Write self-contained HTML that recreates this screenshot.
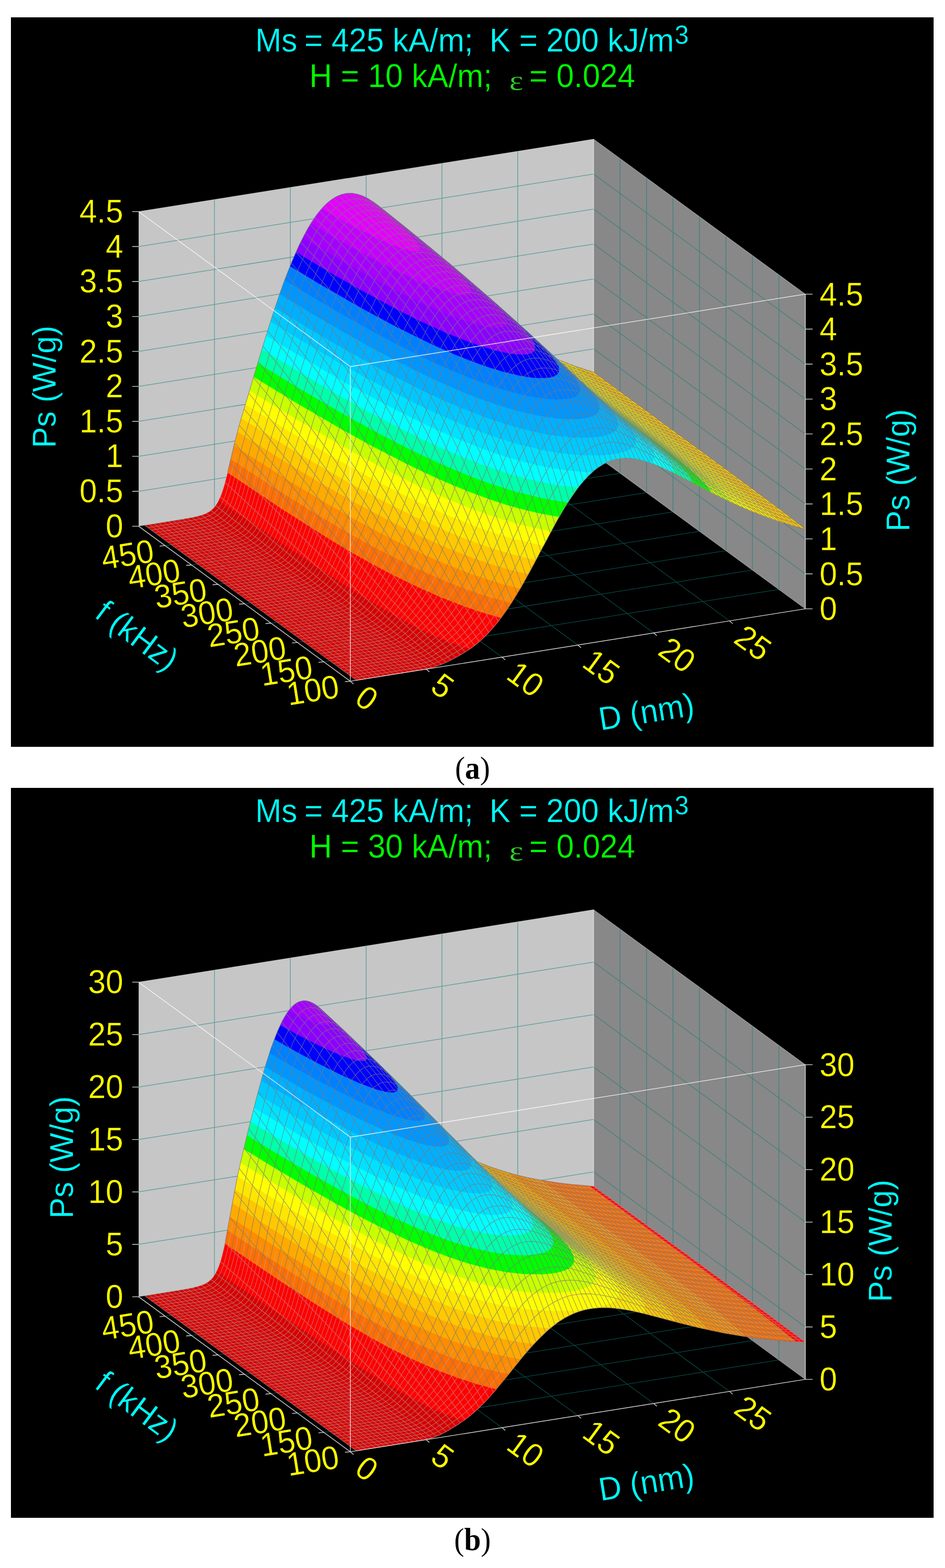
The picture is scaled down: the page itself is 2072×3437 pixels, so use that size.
<!DOCTYPE html>
<html><head><meta charset="utf-8"><title>Figure</title>
<style>html,body{margin:0;padding:0;background:#fff}svg{display:block}text{font-family:"Liberation Sans",sans-serif}</style></head><body>
<svg width="2072" height="3437" viewBox="0 0 2072 3437">
<rect width="2072" height="3437" fill="#fff"/>
<rect x="24" y="38" width="2023" height="1599" fill="#000"/>
<rect x="24" y="1727" width="2023" height="1600" fill="#000"/>
<g id="plot-a">
<polygon fill="#c6c6c6" points="304.0,1153.5 1301.5,994.7 1301.5,305.0 304.0,463.8"/>
<polygon fill="#888888" points="1301.5,994.7 1765.7,1334.5 1765.7,644.8 1301.5,305.0"/>
<path fill="none" stroke="#0a7c7a" stroke-opacity="0.55" stroke-width="1.5" d="M470.3,1127.0 470.3,437.3M934.5,1466.8 470.3,1127.0M636.5,1100.6 636.5,410.9M1100.7,1440.4 636.5,1100.6M802.8,1074.1 802.8,384.4M1267.0,1413.9 802.8,1074.1M969.0,1047.6 969.0,357.9M1433.2,1387.4 969.0,1047.6M1135.2,1021.2 1135.2,331.5M1599.5,1361.0 1135.2,1021.2M1707.7,1292.0 1707.7,602.3M710.2,1450.8 1707.7,1292.0M1649.7,1249.5 1649.7,559.8M652.2,1408.3 1649.7,1249.5M1591.6,1207.1 1591.6,517.4M594.1,1365.9 1591.6,1207.1M1533.6,1164.6 1533.6,474.9M536.1,1323.4 1533.6,1164.6M1475.6,1122.1 1475.6,432.4M478.1,1280.9 1475.6,1122.1M1417.6,1079.7 1417.6,390.0M420.1,1238.4 1417.6,1079.7M1359.5,1037.2 1359.5,347.5M362.0,1196.0 1359.5,1037.2M304.0,1076.9 1301.5,918.1M1301.5,918.1 1765.7,1257.9M304.0,1000.2 1301.5,841.4M1301.5,841.4 1765.7,1181.2M304.0,923.6 1301.5,764.8M1301.5,764.8 1765.7,1104.6M304.0,847.0 1301.5,688.2M1301.5,688.2 1765.7,1028.0M304.0,770.3 1301.5,611.5M1301.5,611.5 1765.7,951.3M304.0,693.7 1301.5,534.9M1301.5,534.9 1765.7,874.7M304.0,617.1 1301.5,458.3M1301.5,458.3 1765.7,798.1M304.0,540.4 1301.5,381.6M1301.5,381.6 1765.7,721.4"/>
<path fill="none" stroke="#ffffff" stroke-opacity="0.7" stroke-width="1.5" d="M1301.5,994.7 1301.5,305.0"/>
<path fill="none" stroke="#ffffff" stroke-opacity="0.35" stroke-width="1.5" d="M304.0,463.8 1301.5,305.0 1765.7,644.8M1301.5,994.7 1765.7,1334.5"/>
<path fill="#d60000" fill-rule="evenodd" d="M317.8,1151.8 329.8,1160.2 332.2,1162.8 341.2,1168.8 345.2,1172.2 353.8,1177.8 356.2,1180.2 361.2,1183.2 367.8,1188.8 376.2,1194.2 378.8,1196.8 387.8,1202.8 403.2,1214.8 404.8,1215.2 406.8,1217.2 411.8,1220.2 414.2,1222.8 422.8,1228.2 425.8,1231.2 427.2,1231.8 429.2,1233.8 437.8,1239.2 440.2,1241.8 449.2,1247.8 453.2,1251.2 454.8,1251.8 464.8,1259.8 473.2,1265.2 483.2,1273.2 484.2,1273.2 487.2,1276.2 488.8,1276.8 511.2,1293.8 516.2,1296.8 522.8,1302.2 531.2,1307.8 533.8,1310.2 542.2,1315.8 544.8,1318.2 545.8,1318.2 548.2,1320.8 553.8,1324.2 555.8,1326.2 557.2,1326.8 559.8,1329.2 568.8,1335.2 576.2,1341.2 577.8,1341.8 584.2,1347.2 592.8,1352.8 602.8,1360.8 603.8,1360.8 606.2,1363.2 611.8,1366.8 613.8,1368.8 615.2,1369.2 617.8,1371.8 626.8,1377.8 634.2,1383.8 635.8,1384.2 637.8,1386.2 639.2,1386.8 641.8,1389.2 643.2,1389.8 645.8,1392.2 650.8,1395.2 653.2,1397.8 661.8,1403.2 664.2,1405.8 665.2,1405.8 667.8,1408.2 673.2,1411.8 675.2,1413.8 676.8,1414.2 679.2,1416.8 688.2,1422.8 695.8,1428.8 697.2,1429.2 699.2,1431.2 700.8,1431.8 707.2,1437.2 708.8,1437.8 714.8,1442.8 723.2,1448.2 725.8,1450.8 734.8,1456.8 750.2,1468.8 751.8,1469.2 753.8,1471.2 758.8,1474.2 761.2,1476.8 769.8,1482.2 772.8,1485.2 774.2,1485.8 776.2,1487.8 781.8,1491.2 790.8,1490.2 797.2,1488.8 800.2,1488.8 800.8,1488.2 812.8,1486.8 819.2,1485.2 822.2,1485.2 825.2,1484.2 831.8,1483.8 834.8,1482.8 837.8,1482.8 850.2,1480.2 856.8,1479.8 859.8,1478.8 862.8,1478.8 878.8,1475.8 881.8,1475.8 900.2,1472.2 903.2,1472.2 906.2,1471.2 909.2,1471.2 915.2,1469.8 918.2,1469.8 921.2,1468.8 929.2,1467.8 931.8,1466.8 934.2,1466.8 936.8,1465.8 939.2,1465.8 953.2,1462.2 971.2,1455.8 972.2,1454.8 979.8,1451.8 997.8,1442.8 998.8,1441.8 1000.8,1441.2 1003.2,1439.2 1006.2,1438.2 1031.8,1422.2 1052.8,1405.8 1055.2,1402.8 1060.8,1398.2 1071.2,1387.8 1091.2,1364.8 1093.8,1360.8 1103.8,1348.2 1106.8,1343.2 1108.8,1341.2 1123.8,1318.8 1135.8,1299.2 1138.8,1293.2 1140.8,1290.8 1144.2,1283.8 1147.8,1278.8 1149.8,1274.2 1157.8,1260.8 1164.8,1246.8 1170.8,1236.8 1171.8,1233.8 1181.2,1216.8 1185.2,1208.2 1186.2,1207.2 1190.2,1198.8 1193.8,1193.2 1195.2,1189.2 1198.8,1183.8 1200.2,1179.8 1206.2,1169.8 1210.8,1160.2 1219.2,1145.8 1223.8,1136.8 1227.2,1131.8 1228.8,1128.2 1244.8,1101.8 1261.8,1076.8 1263.8,1074.8 1268.8,1067.2 1280.8,1052.8 1300.8,1032.8 1302.8,1031.8 1306.2,1028.2 1307.8,1027.8 1311.2,1024.8 1321.2,1018.2 1322.2,1018.2 1326.8,1015.2 1341.2,1009.2 1352.8,1006.2 1357.8,1005.8 1358.2,1005.2 1362.2,1005.2 1362.8,1004.8 1383.2,1004.8 1383.8,1005.2 1394.8,1006.2 1402.2,1008.2 1404.2,1008.2 1418.8,1012.2 1424.8,1014.8 1426.2,1014.8 1450.2,1024.2 1474.8,1036.2 1475.8,1036.2 1478.8,1038.2 1480.8,1038.8 1496.2,1047.2 1497.2,1047.2 1508.8,1053.2 1509.8,1054.2 1512.8,1055.2 1520.2,1059.8 1524.2,1061.2 1534.8,1067.2 1537.8,1068.2 1556.8,1078.8 1558.8,1079.2 1577.8,1089.2 1588.2,1093.8 1592.2,1096.2 1600.8,1099.8 1602.8,1101.2 1618.2,1107.8 1628.2,1112.8 1630.8,1113.2 1632.8,1114.8 1635.2,1115.2 1638.8,1117.2 1668.8,1129.2 1686.2,1135.2 1690.2,1137.2 1691.8,1137.2 1693.2,1138.2 1703.2,1141.2 1704.8,1142.2 1706.2,1142.2 1709.2,1143.8 1710.8,1143.8 1720.2,1147.2 1721.8,1147.2 1745.2,1154.8 1747.2,1154.8 1750.8,1156.2 1765.8,1160.2 1759.8,1154.8 1755.2,1151.8 1752.8,1149.2 1751.2,1148.8 1750.8,1147.8 1745.8,1143.8 1744.2,1143.2 1741.2,1140.2 1737.2,1137.8 1723.8,1126.8 1722.8,1126.8 1719.8,1123.8 1713.8,1119.2 1712.2,1118.8 1709.8,1116.2 1708.2,1115.8 1705.8,1113.2 1673.8,1089.2 1668.8,1086.2 1661.8,1080.2 1654.2,1075.2 1652.2,1073.2 1650.8,1072.8 1644.8,1067.8 1643.2,1067.2 1632.8,1058.8 1627.2,1055.2 1623.2,1051.8 1621.8,1051.2 1619.8,1049.2 1618.2,1048.8 1612.2,1043.8 1610.8,1043.2 1608.2,1040.8 1602.8,1037.2 1600.2,1034.8 1594.8,1031.2 1590.8,1027.8 1589.2,1027.2 1587.2,1025.2 1585.8,1024.8 1583.2,1022.2 1578.2,1019.2 1571.8,1013.8 1566.8,1010.8 1564.2,1008.2 1558.8,1004.8 1547.2,995.8 1545.8,995.2 1543.8,993.2 1542.2,992.8 1535.8,987.2 1530.8,984.2 1528.2,981.8 1526.8,981.2 1503.8,963.8 1498.8,960.8 1496.2,958.2 1495.2,958.2 1492.8,955.8 1487.8,952.8 1485.2,950.2 1479.8,946.8 1473.8,941.8 1462.8,934.2 1460.8,932.2 1459.2,931.8 1449.8,924.2 1448.2,923.8 1441.8,918.2 1436.8,915.2 1406.2,892.2 1401.2,889.2 1398.8,886.8 1390.2,881.2 1383.8,875.8 1378.8,872.8 1376.2,870.2 1354.2,854.8 1348.2,849.8 1346.8,849.2 1344.2,846.8 1343.2,846.8 1340.8,844.2 1335.8,841.2 1333.2,838.8 1324.2,832.8 1301.8,815.8 1290.2,812.8 1276.2,808.2 1274.8,807.2 1271.8,806.8 1268.8,805.2 1267.2,805.2 1265.8,804.2 1242.8,796.2 1240.2,794.8 1237.8,794.2 1235.2,792.8 1232.8,792.2 1222.2,787.8 1154.8,725.2 1071.2,650.8 987.8,579.2 907.8,513.2 832.2,452.8 815.2,440.2 814.2,440.2 812.8,438.8 805.2,434.2 794.8,429.2 784.2,425.8 776.8,424.2 773.8,424.2 773.2,423.8 757.8,424.2 750.8,425.8 741.2,429.2 735.2,432.2 725.2,438.8 716.2,446.2 708.2,454.2 695.2,469.8 694.8,471.2 692.8,473.2 678.2,495.2 678.2,496.2 666.8,515.8 647.2,556.2 646.8,558.8 642.8,566.8 641.8,570.2 635.8,583.8 635.2,586.2 632.2,592.8 631.8,595.2 626.8,606.8 622.8,618.8 620.2,624.2 617.8,632.8 611.8,648.2 608.8,657.2 608.8,658.8 607.8,660.2 586.8,724.8 586.8,726.2 581.8,740.8 580.8,745.8 578.8,750.8 577.8,755.8 575.8,760.8 571.2,777.2 569.2,782.2 569.2,783.8 564.2,798.8 564.2,800.2 562.8,803.8 558.2,820.2 556.2,825.2 556.2,826.8 551.8,840.2 551.8,842.2 548.2,852.2 548.2,853.8 546.8,857.2 546.8,858.8 540.2,878.8 537.2,890.2 535.2,895.2 535.2,896.8 532.2,905.2 532.2,907.2 530.2,912.2 528.8,919.2 525.2,929.8 524.8,933.2 522.8,938.8 512.8,977.2 512.8,979.2 508.8,994.2 508.8,996.2 501.8,1024.2 500.2,1032.8 491.8,1065.2 484.2,1087.2 478.8,1098.2 478.8,1099.2 470.8,1111.2 460.8,1120.8 459.8,1120.8 458.2,1122.2 452.8,1124.8 451.8,1125.8 440.8,1129.8 427.2,1133.2 409.8,1136.8 407.2,1136.8 404.2,1137.8Z"/>
<path fill="#ff0000" fill-rule="evenodd" d="M479.8,1096.2 484.2,1100.2 552.2,1146.8 692.2,1240.8 773.2,1293.2 844.8,1337.2 899.8,1368.2 937.8,1387.2 980.8,1405.8 1030.2,1423.2 1052.8,1405.8 1071.2,1387.8 1091.2,1364.8 1108.8,1341.2 1131.2,1306.8 1147.8,1278.8 1223.8,1136.8 1244.8,1101.8 1268.8,1067.2 1287.8,1045.2 1306.2,1028.2 1325.8,1015.8 1341.2,1009.2 1352.8,1006.2 1362.8,1004.8 1383.2,1004.8 1404.2,1008.2 1426.2,1014.8 1450.2,1024.2 1475.8,1036.2 1556.8,1078.8 1602.8,1101.2 1628.2,1112.8 1630.8,1113.2 1632.8,1114.8 1668.8,1129.2 1704.8,1142.2 1745.2,1154.8 1747.2,1154.8 1765.8,1160.2 1759.8,1154.8 1723.8,1126.8 1722.8,1126.8 1719.8,1123.8 1673.8,1089.2 1668.8,1086.2 1661.8,1080.2 1301.8,815.8 1267.2,805.2 1222.2,787.8 1154.8,725.2 1071.2,650.8 987.8,579.2 907.8,513.2 832.2,452.8 815.2,440.2 814.2,440.2 805.2,434.2 794.8,429.2 784.2,425.8 773.2,423.8 757.8,424.2 750.8,425.8 741.2,429.2 725.2,438.8 716.2,446.2 708.2,454.2 695.2,469.8 678.2,495.2 666.8,515.8 647.2,556.2 646.8,558.8 635.8,583.8 620.2,624.2 601.8,678.2 581.8,740.8 522.8,938.8 512.8,977.2 500.2,1032.8 491.8,1065.2 486.2,1082.2Z"/>
<path fill="#ff6e00" fill-rule="evenodd" d="M679.8,492.8 666.8,515.8 655.8,537.8 642.8,566.8 620.2,624.2 601.8,678.2 581.8,740.8 577.8,755.8 551.8,840.2 550.2,847.2 532.2,905.2 532.2,907.2 525.2,929.8 514.8,969.2 499.2,1036.2 615.8,1114.2 721.2,1181.2 773.2,1212.2 822.2,1239.8 860.2,1259.8 916.8,1287.2 966.8,1309.2 1009.8,1326.2 1051.2,1340.8 1098.8,1354.8 1108.8,1341.2 1123.8,1318.8 1140.8,1290.8 1170.8,1236.8 1190.2,1198.8 1193.8,1193.2 1195.2,1189.2 1198.8,1183.8 1200.2,1179.8 1223.8,1136.8 1239.8,1109.8 1257.8,1082.2 1268.8,1067.2 1280.8,1052.8 1300.8,1032.8 1311.2,1024.8 1325.8,1015.8 1335.8,1011.2 1346.2,1007.8 1362.8,1004.8 1383.2,1004.8 1404.2,1008.2 1426.2,1014.8 1450.2,1024.2 1475.8,1036.2 1556.8,1078.8 1602.8,1101.2 1628.2,1112.8 1630.8,1113.2 1632.8,1114.8 1668.8,1129.2 1704.8,1142.2 1745.2,1154.8 1747.2,1154.8 1765.8,1160.2 1759.8,1154.8 1723.8,1126.8 1722.8,1126.8 1719.8,1123.8 1673.8,1089.2 1668.8,1086.2 1661.8,1080.2 1301.8,815.8 1267.2,805.2 1222.2,787.8 1123.8,697.2 1016.8,603.8 946.2,544.8 884.2,494.2 827.8,449.2 809.8,436.8 790.8,427.8 784.2,425.8 773.2,423.8 757.8,424.2 750.8,425.8 741.2,429.2 725.2,438.8 716.2,446.2 708.2,454.2 695.2,469.8Z"/>
<path fill="#ff8c00" fill-rule="evenodd" d="M679.8,492.8 666.8,515.8 647.2,556.2 626.8,606.8 611.8,648.2 581.8,740.8 577.8,755.8 551.8,840.2 550.2,847.2 532.2,905.2 532.2,907.2 525.2,929.8 514.8,969.2 506.2,1006.8 596.8,1066.2 683.2,1120.8 752.2,1161.8 808.8,1193.2 843.8,1211.8 920.2,1249.2 979.8,1275.2 1026.2,1293.2 1072.2,1308.8 1121.2,1322.2 1147.8,1278.8 1223.8,1136.8 1239.8,1109.8 1257.8,1082.2 1268.8,1067.2 1280.8,1052.8 1300.8,1032.8 1311.2,1024.8 1325.8,1015.8 1335.8,1011.2 1346.2,1007.8 1362.8,1004.8 1383.2,1004.8 1404.2,1008.2 1426.2,1014.8 1450.2,1024.2 1475.8,1036.2 1556.8,1078.8 1602.8,1101.2 1628.2,1112.8 1630.8,1113.2 1632.8,1114.8 1668.8,1129.2 1704.8,1142.2 1745.2,1154.8 1747.2,1154.8 1765.8,1160.2 1759.8,1154.8 1723.8,1126.8 1722.8,1126.8 1719.8,1123.8 1673.8,1089.2 1668.8,1086.2 1661.8,1080.2 1301.8,815.8 1267.2,805.2 1222.2,787.8 1123.8,697.2 1016.8,603.8 946.2,544.8 884.2,494.2 827.8,449.2 809.8,436.8 790.8,427.8 784.2,425.8 773.2,423.8 757.8,424.2 750.8,425.8 741.2,429.2 725.2,438.8 716.2,446.2 708.2,454.2 695.2,469.8Z"/>
<path fill="#ffaa00" fill-rule="evenodd" d="M679.8,492.8 666.8,515.8 647.2,556.2 626.8,606.8 611.8,648.2 586.8,724.8 551.8,840.2 551.8,842.2 532.2,905.2 532.2,907.2 525.2,929.8 513.2,975.2 513.2,976.8 543.8,996.8 641.8,1058.8 714.2,1102.2 785.8,1142.8 850.8,1177.2 926.8,1214.2 979.2,1237.2 1037.2,1259.8 1097.2,1279.2 1140.8,1290.8 1170.8,1236.8 1190.2,1198.8 1193.8,1193.2 1195.2,1189.2 1198.8,1183.8 1200.2,1179.8 1223.8,1136.8 1244.8,1101.8 1268.8,1067.2 1287.8,1045.2 1306.2,1028.2 1326.8,1015.2 1341.2,1009.2 1352.8,1006.2 1362.8,1004.8 1383.2,1004.8 1394.8,1006.2 1413.8,1010.8 1435.8,1018.2 1475.8,1036.2 1556.8,1078.8 1602.8,1101.2 1628.2,1112.8 1630.8,1113.2 1632.8,1114.8 1668.8,1129.2 1704.8,1142.2 1745.2,1154.8 1747.2,1154.8 1765.8,1160.2 1759.8,1154.8 1723.8,1126.8 1722.8,1126.8 1719.8,1123.8 1673.8,1089.2 1668.8,1086.2 1661.8,1080.2 1301.8,815.8 1267.2,805.2 1222.2,787.8 1123.8,697.2 1016.8,603.8 946.2,544.8 884.2,494.2 827.8,449.2 809.8,436.8 790.8,427.8 784.2,425.8 773.2,423.8 757.8,424.2 750.8,425.8 741.2,429.2 725.2,438.8 716.2,446.2 708.2,454.2 695.2,469.8Z"/>
<path fill="#ffc800" fill-rule="evenodd" d="M679.8,492.8 666.8,515.8 647.2,556.2 626.8,606.8 611.8,648.2 581.8,740.8 577.8,755.8 551.8,840.2 550.2,847.2 532.2,905.2 532.2,907.2 521.2,944.2 521.2,946.8 621.8,1010.2 700.2,1057.2 777.8,1101.2 866.8,1148.2 926.8,1177.2 984.8,1202.8 1042.8,1225.2 1099.2,1243.8 1124.2,1250.8 1158.8,1258.8 1190.2,1198.8 1193.8,1193.2 1195.2,1189.2 1198.8,1183.8 1200.2,1179.8 1223.8,1136.8 1244.8,1101.8 1268.8,1067.2 1287.8,1045.2 1300.8,1032.8 1311.2,1024.8 1325.8,1015.8 1335.8,1011.2 1346.2,1007.8 1358.2,1005.2 1383.2,1004.8 1394.8,1006.2 1413.8,1010.8 1435.8,1018.2 1475.8,1036.2 1556.8,1078.8 1602.8,1101.2 1628.2,1112.8 1630.8,1113.2 1632.8,1114.8 1668.8,1129.2 1704.8,1142.2 1745.2,1154.8 1747.2,1154.8 1765.8,1160.2 1759.8,1154.8 1723.8,1126.8 1722.8,1126.8 1719.8,1123.8 1673.8,1089.2 1668.8,1086.2 1661.8,1080.2 1301.8,815.8 1267.2,805.2 1222.2,787.8 1123.8,697.2 1016.8,603.8 946.2,544.8 884.2,494.2 827.8,449.2 809.8,436.8 790.8,427.8 784.2,425.8 773.2,423.8 757.8,424.2 750.8,425.8 741.2,429.2 725.2,438.8 716.2,446.2 708.2,454.2 695.2,469.8Z"/>
<path fill="#ffe600" fill-rule="evenodd" d="M679.8,492.8 666.8,515.8 647.2,556.2 626.8,606.8 611.8,648.2 586.8,724.8 551.8,840.2 551.8,842.2 529.2,916.8 625.2,976.2 684.8,1011.8 743.8,1045.8 830.8,1093.2 906.2,1131.2 976.8,1163.2 1017.2,1179.8 1050.8,1192.2 1081.8,1202.8 1114.8,1212.8 1151.2,1222.2 1175.2,1227.2 1176.2,1226.2 1210.8,1160.2 1239.8,1109.8 1257.8,1082.2 1273.2,1061.8 1280.8,1052.8 1295.8,1037.2 1306.2,1028.2 1325.8,1015.8 1335.8,1011.2 1346.2,1007.8 1358.2,1005.2 1383.2,1004.8 1394.8,1006.2 1413.8,1010.8 1435.8,1018.2 1475.8,1036.2 1556.8,1078.8 1602.8,1101.2 1653.2,1123.2 1654.8,1123.2 1690.2,1137.2 1707.2,1142.8 1694.2,1130.2 1670.8,1110.2 1608.8,1061.8 1490.2,973.2 1255.8,800.8 1242.8,796.2 1222.2,787.8 1123.8,697.2 1016.8,603.8 946.2,544.8 884.2,494.2 827.8,449.2 809.8,436.8 790.8,427.8 784.2,425.8 773.2,423.8 757.8,424.2 750.8,425.8 741.2,429.2 725.2,438.8 716.2,446.2 708.2,454.2 695.2,469.8Z"/>
<path fill="#ffff00" fill-rule="evenodd" d="M679.8,492.8 666.8,515.8 647.2,556.2 626.8,606.8 611.8,648.2 581.8,740.8 577.8,755.8 551.8,840.2 550.2,847.2 538.2,886.2 540.8,888.2 663.8,963.2 745.8,1010.8 833.8,1058.8 909.2,1096.8 952.2,1116.8 986.8,1131.8 1049.2,1156.2 1087.2,1169.2 1111.8,1176.8 1140.8,1184.8 1189.2,1195.8 1192.2,1195.8 1223.8,1136.8 1244.8,1101.8 1268.8,1067.2 1287.8,1045.2 1306.2,1028.2 1321.2,1018.2 1341.2,1009.2 1358.2,1005.2 1383.2,1004.8 1394.8,1006.2 1413.8,1010.8 1435.8,1018.2 1475.8,1036.2 1556.8,1078.8 1592.2,1096.2 1628.2,1112.8 1630.8,1113.2 1632.8,1114.8 1652.8,1122.8 1635.8,1105.2 1618.2,1089.8 1585.8,1063.2 1547.8,1033.8 1424.2,941.2 1249.2,812.8 1154.8,725.2 1051.8,633.8 987.8,579.2 915.8,519.8 841.8,460.2 815.2,440.2 798.2,430.8 789.2,427.2 779.8,424.8 773.2,423.8 761.2,423.8 752.8,425.2 744.8,427.8 730.2,435.2 716.2,446.2 708.2,454.2 695.2,469.8Z"/>
<path fill="#c8ff00" fill-rule="evenodd" d="M692.8,473.2 678.2,495.2 666.8,515.8 655.8,537.8 642.8,566.8 626.8,606.8 611.8,648.2 586.8,724.8 551.8,840.2 551.8,842.2 547.2,855.8 547.8,856.8 639.2,912.8 747.2,975.8 824.8,1018.2 901.2,1057.2 977.2,1092.2 1010.8,1106.2 1045.8,1119.8 1103.2,1139.2 1136.2,1148.8 1166.2,1156.2 1208.8,1164.8 1223.8,1136.8 1244.8,1101.8 1268.8,1067.2 1287.8,1045.2 1306.2,1028.2 1321.2,1018.2 1341.2,1009.2 1358.2,1005.2 1383.2,1004.8 1394.8,1006.2 1413.8,1010.8 1435.8,1018.2 1475.8,1036.2 1556.8,1078.8 1604.2,1101.8 1594.8,1089.8 1574.2,1069.8 1549.8,1048.8 1521.8,1026.2 1397.2,931.8 1304.2,863.2 1154.8,725.2 1051.8,633.8 987.8,579.2 915.8,519.8 841.8,460.2 815.2,440.2 798.2,430.8 784.2,425.8 773.2,423.8 761.2,423.8 750.8,425.8 735.2,432.2 720.8,442.2 708.2,454.2Z"/>
<path fill="#00ff00" fill-rule="evenodd" d="M692.8,473.2 678.2,495.2 666.8,515.8 655.8,537.8 642.8,566.8 626.8,606.8 611.8,648.2 593.8,702.8 556.2,826.2 654.8,886.2 750.2,941.8 820.2,980.2 903.2,1022.8 964.2,1051.2 1023.8,1076.2 1076.8,1095.8 1109.2,1106.2 1140.8,1115.2 1184.8,1125.8 1226.2,1133.2 1239.8,1109.8 1257.8,1082.2 1268.8,1067.2 1280.8,1052.8 1295.8,1037.2 1306.2,1028.2 1326.8,1015.2 1335.8,1011.2 1346.2,1007.8 1362.8,1004.8 1383.2,1004.8 1394.8,1006.2 1413.8,1010.8 1435.8,1018.2 1475.8,1036.2 1559.8,1079.8 1554.8,1071.2 1546.2,1060.8 1536.2,1050.2 1513.2,1029.2 1483.8,1004.8 1446.2,975.2 1341.2,896.2 1283.2,844.2 1154.8,725.2 1051.8,633.8 987.8,579.2 915.8,519.8 841.8,460.2 815.2,440.2 798.2,430.8 784.2,425.8 773.2,423.8 761.2,423.8 750.8,425.8 735.2,432.2 720.8,442.2 708.2,454.2Z"/>
<path fill="#00ffaa" fill-rule="evenodd" d="M692.8,473.2 679.8,492.8 666.8,515.8 651.8,546.2 651.2,548.8 647.2,556.2 646.8,558.8 635.8,583.8 620.2,624.2 601.8,678.2 581.8,740.8 566.2,792.2 565.8,796.2 651.8,848.8 755.8,909.2 837.2,953.8 912.2,991.8 963.8,1015.8 1020.2,1039.8 1072.2,1059.2 1130.8,1077.8 1185.2,1091.2 1213.8,1096.8 1245.2,1101.2 1257.8,1082.2 1268.8,1067.2 1280.8,1052.8 1300.8,1032.8 1311.2,1024.8 1326.8,1015.2 1335.8,1011.2 1346.2,1007.8 1362.8,1004.8 1383.2,1004.8 1394.8,1006.2 1410.2,1009.8 1426.2,1014.8 1460.2,1028.8 1487.8,1042.2 1517.8,1058.2 1516.8,1054.2 1512.8,1045.8 1505.8,1035.8 1499.8,1028.8 1470.2,1000.2 1423.2,961.2 1365.2,916.8 1341.8,896.8 1283.2,844.2 1133.8,706.2 1087.2,664.8 1016.8,603.8 915.8,519.8 820.2,443.8 805.2,434.2 794.8,429.2 784.2,425.8 773.2,423.8 761.2,423.8 752.8,425.2 744.8,427.8 735.2,432.2 720.8,442.2 708.2,454.2Z"/>
<path fill="#00ffff" fill-rule="evenodd" d="M695.2,469.8 679.8,492.8 666.8,515.8 651.8,546.2 651.2,548.8 647.2,556.2 646.8,558.8 637.8,578.8 611.8,648.2 581.8,740.8 574.8,764.2 575.2,766.2 669.8,823.8 732.2,860.2 809.2,903.2 879.8,940.2 945.8,972.2 1004.8,998.2 1059.8,1019.8 1116.8,1038.8 1146.8,1047.2 1186.8,1056.8 1221.2,1063.2 1267.8,1069.2 1273.2,1061.8 1287.8,1045.2 1300.8,1032.8 1311.2,1024.8 1325.8,1015.8 1335.8,1011.2 1346.2,1007.8 1362.8,1004.8 1383.2,1004.8 1394.8,1006.2 1410.2,1009.8 1440.8,1020.2 1460.2,1028.8 1474.8,1036.2 1475.8,1031.8 1474.8,1024.8 1472.8,1019.2 1468.2,1011.2 1462.8,1003.8 1451.8,991.2 1434.8,974.8 1403.2,947.2 1362.8,914.8 1329.8,886.2 1283.2,844.2 1154.8,725.2 1051.8,633.8 946.2,544.8 884.2,494.2 823.8,446.2 809.8,436.8 790.8,427.8 784.2,425.8 773.2,423.8 757.8,424.2 750.8,425.8 741.2,429.2 725.2,438.8 716.2,446.2 708.2,454.2Z"/>
<path fill="#00e1ff" fill-rule="evenodd" d="M695.2,469.8 679.8,492.8 666.8,515.8 655.8,537.8 642.8,566.8 626.8,606.8 611.8,648.2 593.8,702.8 583.8,735.8 681.2,794.8 760.8,840.8 825.2,876.2 883.8,906.8 948.8,938.2 1000.8,961.2 1056.2,983.2 1105.8,1000.2 1145.2,1011.8 1175.8,1019.2 1202.2,1024.8 1247.8,1031.8 1288.2,1035.2 1298.2,1035.2 1306.2,1028.2 1325.8,1015.8 1341.2,1009.2 1355.2,1005.8 1362.8,1004.8 1387.8,1005.2 1410.2,1009.8 1424.8,1014.8 1427.8,1014.2 1431.8,1009.8 1434.8,1002.2 1434.8,995.8 1432.8,988.8 1427.8,979.2 1415.2,963.2 1386.2,934.8 1315.8,873.8 1154.8,725.2 1051.8,633.8 946.2,544.8 884.2,494.2 823.8,446.2 809.8,436.8 790.8,427.8 784.2,425.8 773.2,423.8 757.8,424.2 750.8,425.8 741.2,429.2 725.2,438.8 716.2,446.2 708.2,454.2Z"/>
<path fill="#00c8ff" fill-rule="evenodd" d="M695.2,469.8 679.8,492.8 672.2,505.8 655.8,537.8 651.2,548.8 647.2,556.2 646.8,558.8 635.8,583.8 620.2,624.2 593.8,702.8 593.8,705.8 667.8,750.8 734.2,789.8 797.2,825.2 877.2,867.8 938.2,897.8 986.8,919.8 1028.8,937.2 1081.2,956.8 1128.8,971.8 1182.8,985.2 1208.8,990.2 1235.2,994.2 1272.2,997.8 1316.2,998.2 1336.2,996.8 1353.2,994.2 1364.2,991.8 1378.2,986.8 1387.2,981.2 1392.2,975.8 1394.2,971.8 1395.2,964.8 1393.8,957.2 1389.2,947.8 1380.8,935.8 1374.8,928.8 1349.2,903.2 1283.2,844.2 1154.8,725.2 1051.8,633.8 946.2,544.8 884.2,494.2 823.8,446.2 809.8,436.8 790.8,427.8 784.2,425.8 773.2,423.8 757.8,424.2 750.8,425.8 741.2,429.2 725.2,438.8 716.2,446.2 708.2,454.2Z"/>
<path fill="#00afff" fill-rule="evenodd" d="M695.2,469.8 679.8,492.8 672.2,505.8 655.8,537.8 651.2,548.8 647.2,556.2 623.8,614.8 611.8,648.2 603.2,675.2 678.2,720.8 739.8,756.8 803.8,792.8 859.8,822.8 919.2,852.8 967.2,875.2 1014.8,895.8 1070.8,917.2 1118.2,932.8 1161.2,944.2 1191.8,950.8 1212.2,954.2 1245.8,958.2 1260.2,959.2 1295.8,959.2 1317.8,956.8 1327.2,954.8 1337.8,951.2 1346.2,946.8 1352.8,940.2 1355.2,933.8 1355.2,927.2 1353.2,920.2 1349.2,912.2 1342.2,902.2 1334.8,893.2 1305.8,864.2 1283.2,844.2 1154.8,725.2 1051.8,633.8 946.2,544.8 884.2,494.2 823.8,446.2 809.8,436.8 790.8,427.8 784.2,425.8 773.2,423.8 757.8,424.2 750.8,425.8 741.2,429.2 725.2,438.8 716.2,446.2 708.2,454.2Z"/>
<path fill="#0096ff" fill-rule="evenodd" d="M692.8,473.2 679.8,492.8 672.2,505.8 651.8,546.2 651.2,548.8 647.2,556.2 646.8,558.8 637.8,578.8 626.8,606.8 613.8,642.8 614.2,645.2 671.8,680.2 746.8,724.2 802.8,755.8 866.2,789.8 912.8,813.2 971.2,840.8 1014.2,859.2 1055.2,875.2 1094.2,888.8 1136.8,901.2 1183.2,911.8 1221.2,917.2 1241.8,918.8 1264.2,918.8 1280.2,917.2 1292.2,914.8 1300.8,911.8 1308.8,906.8 1312.2,902.8 1314.8,895.8 1314.2,888.2 1309.8,877.2 1304.2,868.8 1296.8,859.2 1285.2,846.8 1249.8,812.8 1133.8,706.2 1051.8,633.8 987.8,579.2 915.8,519.8 841.8,460.2 815.2,440.2 798.2,430.8 784.2,425.8 773.2,423.8 761.2,423.8 750.8,425.8 735.2,432.2 720.8,442.2 708.2,454.2Z"/>
<path fill="#0080ff" fill-rule="evenodd" d="M679.8,492.8 666.8,515.8 651.8,546.2 651.2,548.8 647.2,556.2 646.8,558.8 637.8,578.8 624.2,614.2 693.8,656.2 753.8,691.2 811.8,723.8 861.2,750.2 921.8,780.8 956.8,797.2 992.8,813.2 1042.2,833.2 1084.8,848.2 1123.2,859.8 1154.2,867.2 1192.8,873.8 1220.8,875.8 1245.2,874.2 1255.8,871.8 1261.8,869.2 1266.2,866.2 1270.8,860.8 1272.2,854.8 1270.8,845.8 1266.8,837.2 1259.2,826.2 1247.8,812.8 1223.8,788.8 1190.2,757.8 1087.2,664.8 987.8,579.2 884.2,494.2 827.8,449.2 809.8,436.8 790.8,427.8 784.2,425.8 773.2,423.8 757.8,424.2 750.8,425.8 741.2,429.2 725.2,438.8 716.2,446.2 708.2,454.2 695.2,469.8Z"/>
<path fill="#0000ff" fill-rule="evenodd" d="M679.8,492.8 666.8,515.8 655.8,537.8 642.8,566.8 636.2,583.8 696.8,620.2 791.2,674.8 870.2,717.2 949.8,756.2 996.2,776.8 1033.8,791.8 1067.2,803.8 1101.2,814.2 1138.2,823.2 1162.2,827.2 1177.2,828.8 1202.2,828.2 1214.2,825.2 1219.2,822.8 1223.8,818.2 1225.8,813.2 1225.8,808.2 1224.8,803.8 1221.8,796.8 1215.8,787.2 1199.8,768.2 1166.2,735.8 1087.2,664.8 987.8,579.2 884.2,494.2 827.8,449.2 809.8,436.8 790.8,427.8 784.2,425.8 773.2,423.8 757.8,424.2 750.8,425.8 741.2,429.2 725.2,438.8 716.2,446.2 708.2,454.2 695.2,469.8Z"/>
<path fill="#8c00ff" fill-rule="evenodd" d="M651.8,546.2 649.2,552.8 724.2,597.8 786.2,633.2 872.8,679.8 924.2,705.2 984.2,732.2 1027.2,749.2 1060.8,760.8 1086.8,768.2 1108.2,773.2 1130.8,776.8 1152.2,777.2 1165.2,774.2 1169.2,771.8 1172.8,767.2 1172.8,756.8 1168.8,747.8 1164.2,740.8 1149.2,722.8 1114.2,688.8 1016.8,603.8 907.8,513.2 823.8,446.2 809.8,436.8 794.8,429.2 784.2,425.8 773.2,423.8 757.8,424.2 750.8,425.8 741.2,429.2 730.2,435.2 720.8,442.2 708.2,454.2 697.2,467.2 679.8,492.8 666.8,515.8Z"/>
<path fill="#a500ff" fill-rule="evenodd" d="M664.2,520.8 664.2,521.8 734.8,563.8 821.2,612.2 857.2,631.2 904.2,654.8 960.2,680.2 989.8,692.2 1024.8,704.8 1046.8,711.2 1068.8,716.2 1083.8,718.2 1099.2,717.8 1107.2,714.8 1109.8,712.2 1111.2,709.2 1111.2,703.8 1109.8,698.8 1105.8,691.2 1098.2,680.8 1087.2,668.2 1070.8,651.8 1041.2,624.8 946.2,544.8 841.8,460.2 815.2,440.2 814.2,440.2 805.2,434.2 794.8,429.2 784.2,425.8 776.8,424.2 761.2,423.8 752.8,425.2 744.8,427.8 735.2,432.2 725.2,438.8 716.2,446.2 708.2,454.2 695.2,469.8 679.8,492.8Z"/>
<path fill="#c300ff" fill-rule="evenodd" d="M681.8,489.8 737.2,522.8 808.2,562.2 877.8,597.8 915.8,615.2 964.8,634.8 997.2,644.2 1012.2,646.8 1022.2,646.8 1028.8,644.8 1031.8,641.2 1032.2,636.2 1030.8,631.2 1027.2,624.8 1020.8,615.8 1010.2,603.8 980.2,574.8 915.8,519.8 841.8,460.2 815.2,440.2 798.2,430.8 789.2,427.2 779.8,424.8 773.2,423.8 761.2,423.8 750.8,425.8 735.2,432.2 720.8,442.2 708.2,454.2 695.2,469.8Z"/>
<path fill="#e400ff" fill-rule="evenodd" d="M705.8,457.2 739.2,476.8 784.8,501.2 822.8,520.2 854.8,534.8 877.8,543.8 899.8,550.2 905.2,551.2 914.8,551.2 917.8,550.2 919.8,547.8 919.8,542.8 918.8,540.2 910.2,527.2 903.8,519.8 882.2,498.2 857.8,476.2 814.8,440.2 805.2,434.2 794.8,429.2 784.2,425.8 773.2,423.8 761.2,423.8 750.8,425.8 741.2,429.2 730.2,435.2 716.2,446.2Z"/>
<path fill="none" stroke="#b0b0b0" stroke-opacity="0.55" stroke-width="1.35" d="M781.5,1491.2 317.3,1151.4M791.9,1489.5 327.7,1149.7M802.2,1487.9 338,1148.1M812.6,1486.2 348.4,1146.4M822.9,1484.6 358.7,1144.8M833.3,1482.9 369.1,1143.1M843.7,1481.3 379.5,1141.4M854,1479.6 389.8,1139.7M864.4,1478 400.2,1137.9M874.7,1476.3 410.5,1136M885.1,1474.7 420.9,1134M895.5,1473 431.3,1131.8M905.8,1471.3 441.6,1128.9M916.2,1469.5 685.2,1298.9 452,1125M926.5,1467.7 693.3,1293.9 462.3,1118.7M936.9,1465.7 822,1379.4 706,1290.7 589.9,1200.5 472.7,1107.9M947.3,1463.3 833.5,1375.7 718.6,1284.4 602.6,1189.4 483.1,1088.8M957.6,1460.3 903.1,1417.1 847.4,1371.7 791.7,1325.1 734.8,1276.3 676.8,1225.4 617.6,1172.3 556.1,1115.9 493.4,1057.4M968,1456.5 922.7,1418.7 877.5,1379.5 831,1338 783.5,1294.1 733.6,1246.7 682.5,1196.9 628,1142.6 569.9,1083.6M978.3,1451.9 945.8,1423.1 913.4,1393.2 878.5,1360.1 843.7,1325.9 768.3,1248.7 682.4,1156.9M988.7,1446.8 938.8,1398.9 885.4,1344 827.4,1281.1 758.9,1203.7M999.1,1441.4 958.4,1399.9 915.5,1353.1 869.1,1299.8 814.5,1234.8M1009.4,1435.7 976.9,1400.4 942.1,1360.3 903.8,1313.9 860.9,1259.9M1019.8,1429.5 993.1,1398.6 964.1,1363.1 933.9,1324.5 899.1,1278.4M1030.1,1422.7 1009.3,1396.8 986,1366.7 933.8,1294.9M1040.5,1415 1004.5,1366.2 963.9,1307M1050.9,1406.5 1023,1366 992.8,1319.5M1061.2,1397 1040.3,1364.5 1018.3,1328.4M1071.6,1386.6 1042.6,1337.1M1081.9,1375 1064.5,1343.3M1092.3,1362.4 1086.5,1351.2M781.5,1491.2 930,1467.1 953.3,1461.6 971.7,1454.9 991.7,1445.3 1011.7,1434.4 1026.7,1425 1041.7,1414.1 1056.7,1401.2 1070.1,1388.1 1085.1,1371.3 1098.4,1354.5M767,1480.6 910.5,1457.3 933.8,1452 950.5,1445.9 965.5,1438.2 987.2,1425.3 1003.9,1414 1017.2,1403.5 1030.6,1391.5 1043.9,1377.7 1057.2,1362 1070.6,1344.3M752.5,1469.9 892.6,1447.2 914.3,1442.4 931,1436.4 944.3,1429.3 961,1418.4 979.4,1405.1 994.4,1392.7 1007.7,1379.9 1019.4,1367.2 1031.1,1352.8 1042.7,1336.9M738,1459.3 876.4,1436.8 898.1,1431.9 913.1,1426.4 924.8,1420 938.2,1410.6 958.2,1394.6 973.2,1381.2 984.9,1369.4 996.5,1356 1008.2,1341 1018.2,1326.7M723.5,1448.7 860.3,1426.4 881.9,1421.4 897,1415.6 907,1409.9 918.6,1401.1 935.3,1386.5 950.3,1372.3 962,1359.9 972,1348.2 983.7,1332.8 993.7,1318.2M709,1438.1 842.4,1416.4 864.1,1411.4 879.1,1405.8 889.1,1400 899.1,1392.2 910.8,1381.3 927.5,1364.4 939.2,1351.5 950.8,1337.2 960.9,1323.6 970.9,1308.6M694.5,1427.5 826.2,1406 847.9,1401 856.3,1398.2 862.9,1395.2 871.3,1390.3 879.6,1383.8 889.6,1374.1 901.3,1361.5 914.7,1346.1 926.3,1331.6 938,1315.5 948,1300.3M680,1416.9 810.1,1395.6 831.8,1390.6 840.1,1387.7 846.8,1384.7 855.1,1379.6 861.8,1374.2 868.5,1367.7 876.8,1358.4 905.2,1322.6 916.8,1306 926.8,1290.4M665.5,1406.2 795.6,1384.9 815.6,1380.2 823.9,1377.3 830.6,1374.2 837.3,1370.2 843.9,1364.9 850.6,1358.3 857.3,1350.6 869,1335.4 885.6,1312.3 905.7,1281.4M650.9,1395.6 746,1380.4 779.4,1374.5 799.4,1369.8 807.7,1366.9 814.4,1363.8 821.1,1359.7 827.8,1354.2 834.4,1347.3 841.1,1339.1 866.1,1302.8 886.2,1270.5M636.4,1385 728.2,1370.3 763.2,1364.2 783.2,1359.4 791.6,1356.5 798.2,1353.4 804.9,1349.2 811.6,1343.7 816.6,1338.4 823.3,1330.1 843.3,1299.6 866.6,1260.3M621.9,1374.4 713.7,1359.7 747,1353.8 767.1,1349.1 775.4,1346.2 782.1,1343.1 788.7,1338.9 795.4,1333.2 800.4,1327.8 807.1,1319.2 822.1,1295.1 847.1,1250.9M607.4,1363.8 697.5,1349.3 730.9,1343.5 750.9,1338.8 759.2,1335.9 765.9,1332.8 772.6,1328.6 779.2,1322.9 784.2,1317.4 790.9,1308.4 802.6,1289 827.6,1242.4M592.9,1353.1 683,1338.7 716.4,1332.8 736.4,1327.9 744.7,1324.9 751.4,1321.6 758.1,1317 763.1,1312.6 769.7,1304.9 774.7,1297.8 786.4,1277.5 809.8,1231.3M578.4,1342.5 666.8,1328.3 700.2,1322.4 720.2,1317.6 728.5,1314.6 735.2,1311.3 741.9,1306.8 746.9,1302.4 753.6,1294.7 758.6,1287.4 770.2,1266.2 791.9,1220.8M563.9,1331.9 650.6,1318 684,1312.1 704,1307.3 712.4,1304.3 719,1301.1 725.7,1296.7 730.7,1292.3 737.4,1284.6 742.4,1277.2 754.1,1255.2 774.1,1211M549.4,1321.3 636.1,1307.3 669.5,1301.4 689.5,1296.5 697.9,1293.3 704.5,1289.9 711.2,1285.2 716.2,1280.5 722.9,1272.2 727.9,1264.4 737.9,1244.5 756.2,1201.9M534.9,1310.7 620,1297 653.3,1291.1 675,1285.6 681.7,1283.1 688.4,1279.8 695,1275.1 700,1270.5 706.7,1262.3 711.7,1254.4 721.7,1234.1 740.1,1189.3M520.4,1300 603.8,1286.6 637.2,1280.7 658.8,1275.3 665.5,1272.9 672.2,1269.6 678.9,1265.1 685.5,1258.8 690.5,1252.5 695.5,1244.6 705.6,1223.9 722.2,1181.5M505.9,1289.4 589.3,1276 622.7,1270 644.3,1264.5 651,1261.9 657.7,1258.5 664.4,1253.7 671,1247 676,1240.3 681,1231.9 691,1209.9 706.1,1169.8M491.4,1278.8 573.1,1265.7 606.5,1259.7 628.2,1254.2 634.8,1251.7 641.5,1248.4 648.2,1243.7 654.9,1237.2 659.9,1230.6 664.9,1222.3 669.9,1212.1 674.9,1200.1 689.9,1158.5M476.9,1268.2 558.6,1255 592,1249 603.6,1246.4 613.7,1243.4 620.3,1240.8 627,1237.3 633.7,1232.4 640.3,1225.5 645.4,1218.5 650.4,1209.6 655.4,1198.8 660.4,1186.2 673.7,1147.5M462.4,1257.6 542.4,1244.7 575.8,1238.7 597.5,1233.2 604.2,1230.6 610.8,1227.2 617.5,1222.5 624.2,1215.8 629.2,1209 634.2,1200.3 639.2,1189.5 644.2,1176.8 657.5,1136.8M447.9,1247 527.9,1234.1 561.3,1228 573,1225.4 583,1222.4 589.6,1219.7 596.3,1216.1 603,1211.2 609.7,1204.1 614.7,1196.9 619.7,1187.7 624.7,1176.3 629.7,1162.9 641.4,1126.6M433.4,1236.3 511.8,1223.7 545.1,1217.7 566.8,1212.1 573.5,1209.5 580.1,1206.1 586.8,1201.3 593.5,1194.5 598.5,1187.5 603.5,1178.5 608.5,1167.3 613.5,1153.9 625.2,1116.6M418.8,1225.7 497.2,1213.1 530.6,1207 542.3,1204.3 552.3,1201.3 559,1198.6 565.6,1195 572.3,1190 577.3,1184.9 582.3,1178.2 587.3,1169.4 592.3,1158.4 597.3,1145.1 609,1107M404.3,1215.1 481.1,1202.7 514.4,1196.7 536.1,1191.1 542.8,1188.5 549.5,1185 556.1,1180.2 562.8,1173.3 567.8,1166.2 572.8,1157.1 577.8,1145.5 582.8,1131.4 592.8,1097.8M389.8,1204.5 466.6,1192.1 499.9,1186 511.6,1183.3 521.6,1180.3 528.3,1177.6 535,1174 541.6,1169 548.3,1161.7 553.3,1154.3 558.3,1144.6 566.7,1122.9 578.3,1082.7M375.3,1193.9 452.1,1181.5 485.4,1175.4 497.1,1172.6 507.1,1169.5 513.8,1166.7 520.5,1163 527.1,1157.7 532.1,1152.3 537.1,1145.1 542.1,1135.8 547.1,1124 552.1,1109.4 562.2,1074M360.8,1183.2 435.9,1171.1 469.2,1165 480.9,1162.3 490.9,1159.3 497.6,1156.6 504.3,1153 511,1148 516,1142.8 521,1136 526,1127 531,1115.5 536,1101.2 546,1065.6M346.3,1172.6 421.4,1160.5 454.7,1154.4 466.4,1151.6 476.4,1148.5 483.1,1145.7 489.8,1142 496.4,1136.7 501.4,1131.3 506.5,1124.2 511.5,1114.8 516.5,1102.8 521.5,1087.8 531.5,1050.8M331.8,1162 405.2,1150.1 438.6,1144.1 458.6,1138.9 466.9,1135.6 473.6,1132 480.3,1127 486.9,1119.8 491.9,1112.4 497,1102.5 505.3,1079.9 515.3,1042.8M317.3,1151.4 390.7,1139.5 424.1,1133.4 444.1,1128.1 452.4,1124.8 459.1,1121 465.8,1115.8 470.8,1110.5 475.8,1103.3 480.8,1094 485.8,1081.8 489.1,1072 499.1,1035.1M774.2,1485.9 896,1466.4 931.1,1460 942.7,1457 954.4,1453.1 966.1,1448 981.1,1440.2 1002.8,1427.7 1021.1,1415.2 1037.8,1401.5 1052.8,1387.1 1069.5,1368.4 1084.5,1349 1101.2,1324.7 1117.9,1297.6M759.7,1475.3 874.8,1456.8 909.9,1450.6 921.5,1447.9 931.6,1444.8 941.6,1440.8 951.6,1435.6 974.9,1421.1 994.9,1406.9 1011.6,1392.8 1026.6,1377.8 1041.7,1360.3 1056.7,1340.3 1071.7,1317.6 1088.4,1289.4M745.2,1464.6 855.3,1447 890.4,1440.9 912,1435.3 922.1,1431.4 930.4,1427.1 947.1,1416.2 970.4,1398.4 987.1,1383.7 1002.1,1368.2 1017.1,1350 1030.5,1331.5 1045.5,1308 1060.5,1281.7M730.7,1454 839.2,1436.7 874.2,1430.5 885.9,1427.8 895.9,1424.8 904.2,1421.4 912.6,1417 927.6,1406.4 949.3,1388.2 965.9,1372.5 979.3,1357.9 994.3,1339 1007.6,1319.7 1021,1297.9 1034.3,1273.8M716.2,1443.4 821.3,1426.6 856.3,1420.4 868,1417.8 878,1414.8 886.4,1411.5 894.7,1407 908.1,1397.3 926.4,1380.6 944.8,1362 959.8,1344.7 973.1,1326.9 984.8,1309.3 996.5,1289.8 1009.8,1265M701.7,1432.8 805.1,1416.2 840.2,1410 851.8,1407.4 861.9,1404.3 870.2,1400.9 876.9,1397.3 888.5,1388.7 901.9,1375.9 921.9,1354.4 938.6,1334.3 951.9,1315.8 963.6,1297.5 975.3,1277.2 987,1254.9M687.2,1422.2 789,1405.9 824,1399.6 835.7,1397 845.7,1393.9 854,1390.4 860.7,1386.6 870.7,1379 882.4,1367.3 900.7,1345.9 917.4,1324.8 929.1,1308.2 940.8,1289.7 952.4,1269.1 964.1,1246.4M672.7,1411.5 772.8,1395.5 807.8,1389.3 819.5,1386.6 829.5,1383.5 837.8,1379.9 844.5,1376 854.5,1368 864.5,1357.4 881.2,1336.5 897.9,1313.9 909.6,1296.5 921.3,1277.3 931.3,1259.1 942.9,1235.8M658.2,1400.9 756.6,1385.1 791.6,1378.9 803.3,1376.2 813.3,1373.1 821.7,1369.4 828.3,1365.5 836.7,1358.8 846.7,1347.9 858.4,1332.5 876.7,1306.2 888.4,1288.2 900.1,1268.6 911.8,1246.9 921.8,1226.5M643.7,1390.3 740.4,1374.8 775.5,1368.5 787.2,1365.8 797.2,1362.7 805.5,1359 812.2,1355 820.5,1348.1 828.9,1338.9 837.2,1327.6 850.5,1307.5 865.6,1283.7 877.2,1263.8 888.9,1242.1 900.6,1218.2M629.2,1379.7 724.3,1364.4 759.3,1358.2 771,1355.4 781,1352.3 789.3,1348.7 796,1344.6 802.7,1339.2 809.3,1332.1 817.7,1321 826,1308.1 844.4,1277.5 857.7,1254 869.4,1231.7 881.1,1207.2M614.7,1369.1 709.8,1353.8 744.8,1347.5 756.5,1344.6 764.8,1342 773.2,1338.4 779.8,1334.3 786.5,1328.8 793.2,1321.6 799.8,1312.5 806.5,1302 839.9,1241.8 851.6,1218.6 861.6,1197.1M600.2,1358.4 695.3,1343.2 728.6,1337.1 740.3,1334.3 748.6,1331.7 757,1328.1 763.6,1324 770.3,1318.5 775.3,1313.2 782,1304.3 788.7,1293.6 798.7,1275.4 820.4,1233.4 842.1,1187.7M585.7,1347.8 679.1,1332.8 712.4,1326.8 732.5,1321.4 740.8,1317.8 747.5,1313.8 754.1,1308.3 760.8,1300.9 765.8,1293.9 772.5,1282.8 782.5,1263.5 802.5,1222.5 822.5,1179.1M571.2,1337.2 662.9,1322.5 697.9,1316.1 709.6,1313.2 718,1310.4 726.3,1306.7 733,1302.4 739.6,1296.5 744.6,1290.7 749.6,1283.6 756.3,1272.2 773,1237.6 804.7,1167.2M556.7,1326.6 648.4,1311.8 681.8,1305.7 693.4,1302.9 701.8,1300.2 710.1,1296.4 716.8,1292.2 723.5,1286.4 728.5,1280.6 733.5,1273.5 740.1,1261.8 751.8,1236.9 786.9,1155.9M542.1,1316 632.2,1301.5 665.6,1295.4 677.3,1292.5 685.6,1289.9 693.9,1286.2 700.6,1282.1 707.3,1276.4 712.3,1270.7 717.3,1263.5 724,1251.6 734,1229.7 769,1145.2M527.6,1305.4 617.7,1290.8 651.1,1284.7 662.8,1281.8 671.1,1279 679.4,1275.1 686.1,1270.8 692.8,1264.7 697.8,1258.5 702.8,1250.9 709.5,1238.2 719.5,1214.9 751.2,1135M513.1,1294.7 601.5,1280.5 634.9,1274.3 646.6,1271.5 654.9,1268.7 663.3,1265 669.9,1260.7 676.6,1254.7 681.6,1248.7 686.6,1241.1 693.3,1228.3 703.3,1204.4 733.3,1125.3M498.6,1284.1 587,1269.9 620.4,1263.6 632.1,1260.7 640.4,1257.9 648.8,1253.9 655.4,1249.4 662.1,1243.1 667.1,1236.7 672.1,1228.6 678.8,1215 687.1,1194.1 715.5,1116.2M484.1,1273.5 570.9,1259.5 604.2,1253.3 615.9,1250.4 624.2,1247.6 632.6,1243.8 639.3,1239.4 645.9,1233.2 650.9,1227 657.6,1216 662.6,1205.5 671,1184.2 697.6,1107.8M469.6,1262.9 556.4,1248.9 589.7,1242.6 601.4,1239.6 609.7,1236.8 618.1,1232.7 624.8,1228.1 631.4,1221.6 636.4,1215 641.4,1206.5 646.4,1196.1 656.4,1169.7 681.5,1095.1M455.1,1252.3 540.2,1238.5 573.5,1232.3 585.2,1229.4 593.6,1226.6 601.9,1222.7 608.6,1218.2 615.3,1211.9 620.3,1205.5 626.9,1194 631.9,1182.9 640.3,1160.2 663.6,1087.7M440.6,1241.6 525.7,1227.9 559,1221.6 570.7,1218.6 579.1,1215.7 587.4,1211.6 594.1,1206.9 600.7,1200.3 605.7,1193.5 610.8,1184.8 615.8,1173.8 625.8,1145.8 647.5,1075.8M426.1,1231 509.5,1217.5 542.9,1211.3 554.5,1208.3 564.6,1204.8 571.2,1201.6 577.9,1197.1 584.6,1190.7 589.6,1184.1 596.2,1172.3 601.3,1160.8 609.6,1136.8 631.3,1064.3M411.6,1220.4 495,1206.9 528.4,1200.6 540,1197.6 550,1193.9 556.7,1190.5 563.4,1185.8 570.1,1179.1 575.1,1172.2 580.1,1163.3 585.1,1152 595.1,1122.5 615.1,1053.1M397.1,1209.8 478.8,1196.6 512.2,1190.3 523.9,1187.3 533.9,1183.8 540.5,1180.5 547.2,1176 553.9,1169.5 560.6,1160.3 565.6,1150.9 570.6,1139 580.6,1108.1 598.9,1042.2M382.6,1199.2 464.3,1185.9 497.7,1179.6 509.4,1176.6 519.4,1172.9 526,1169.5 532.7,1164.8 539.4,1158 544.4,1151.1 549.4,1142 554.4,1130.4 559.4,1116.2 564.4,1099.6 582.8,1031.7M368.1,1188.5 449.8,1175.3 483.2,1168.9 494.9,1165.8 504.9,1162 511.5,1158.5 518.2,1153.6 524.9,1146.5 529.9,1139.2 534.9,1129.7 539.9,1117.5 544.9,1102.7 549.9,1085.4 566.6,1021.5M353.6,1177.9 433.6,1165 467,1158.6 478.7,1155.6 488.7,1151.9 495.4,1148.5 502,1143.8 508.7,1137.1 515.4,1127.3 520.4,1117.3 525.4,1104.6 533.7,1077.3 550.4,1011.7M339.1,1167.3 419.1,1154.3 452.5,1147.9 464.2,1144.8 474.2,1141.1 480.9,1137.5 487.5,1132.6 494.2,1125.6 499.2,1118.3 504.2,1108.7 509.2,1096.4 514.2,1081.1 519.2,1063.2 534.2,1002.3M324.6,1156.7 403,1144 436.3,1137.6 448,1134.6 458,1130.9 464.7,1127.6 471.3,1122.9 478,1116.2 484.7,1106.4 489.7,1096.4 494.7,1083.5 503,1055.5 518.1,993.2"/>
<path fill="none" stroke="#787878" stroke-opacity="0.72" stroke-width="1.35" d="M569.9,1083.6 503.8,1015.4M682.4,1156.9 514.1,971.5M758.9,1203.7 524.5,932.1M814.5,1234.8 637,1017.6 584.8,955 534.9,896.4M860.9,1259.9 726.3,1085.9 669.4,1013.4 606.7,935.6 545.2,861.9M899.1,1278.4 762.1,1091.3 697.2,1004.4 625.2,912.2 590.4,869.2 555.6,827.4M933.8,1294.9 793.4,1092 722.6,993 683.2,940 644.9,890.2 605.4,840.6 565.9,792.8M963.9,1307 823.5,1092.3 784,1033.7 746.9,980.2 704,920.7 662.2,865.3 619.2,810.7 576.3,758.5M992.8,1319.5 851.3,1090.3 809.5,1025.2 770,966.2 725.9,903.3 680.7,842.1 634.2,782.6 586.7,724.9M1018.3,1328.4 986.9,1275.2 911.5,1144.6 877.9,1087.7 834.9,1017.6 793.1,952.8 745.6,883.2 698,817.9 649.2,755.3 597,692.2M1042.6,1337.1 1012.4,1282.9 938.1,1146.5 902.1,1082.3 858,1007.1 815.1,938.2 790.7,901 766.4,865.3 742,830.8 716.5,796.1 689.8,761.1 663.1,727.4 635.2,693.6 607.4,660.9M1064.5,1343.3 1035.5,1288.2 963.6,1148 926.4,1078.1 881.2,997.5 859.1,960.2 837.1,924.4 811.5,884.6 786,846.5 760.5,810.1 733.8,773.6 705.9,737.2 678.1,702.3 647.9,666 617.7,631.1M1086.5,1351.2 1058.6,1295.2 987.9,1149 949.6,1073 926.3,1029.1 903.1,986.8 881.1,948.4 857.9,909.7 832.3,869.1 805.7,828.7 779,790.4 751.1,752.3 722.1,714.5 691.9,677.1 660.6,640 628.1,603.1M1102.7,1348.8 1078.3,1296.7 1012.1,1151.9 971.5,1067.1 948.3,1021.2 925.1,977.4 901.9,935.7 878.7,896 852,852.9 825.3,812.1 797.4,771.9 768.4,732.4 738.3,693.4 706.9,654.9 673.3,615.6 638.5,576.9M1113,1334 1034.1,1151.7 1012.1,1102.5 991.2,1057.6 966.8,1007.6 943.6,962.6 920.4,919.9 896,877.7 869.3,834.2 842.6,793.4 814.8,753.2 784.6,712.3 753.3,672.3 720.8,633 686,593.1 648.8,552.7M1123.4,1318.2 1052.6,1145 1030.5,1093.4 1008.5,1044.2 985.3,995.1 962.1,948.8 937.7,903.3 913.3,860.6 886.6,816.9 858.8,774.3 829.8,732.8 799.6,692.4 767.1,651.5 733.5,611.6 697.5,571.3 659.2,530.5M1133.7,1301.4 1071.1,1139.5 1047.9,1082.8 1025.8,1031.8 1002.6,981.3 979.4,934 955,887.8 930.7,844.8 904,801 876.1,758.5 847.1,717.3 815.8,675.7 782.1,634 747.3,593.5 710.2,552.7 669.5,510.4M1144.1,1283.8 1109.3,1188.1 1086.1,1126.3 1064,1070.4 1042,1017.8 1018.8,966.1 995.6,918.2 971.2,871.6 946.8,828.5 920.1,784.8 892.3,742.6 862.1,700.3 830.8,659.4 797.1,618.4 761.1,577.4 721.7,534.9 679.9,492.4M1154.5,1265.4 1124.3,1178.2 1102.2,1117 1080.2,1059 1058.1,1005 1034.9,952.3 1011.7,903.7 987.3,856.9 963,813.8 936.3,770.3 908.4,728.5 878.3,686.7 845.8,645 811,603.4 773.8,562 733.2,519.3 690.3,476.5M1164.8,1246.5 1138.1,1165.8 1116.1,1102.3 1094,1042.8 1073.1,990.6 1051.1,939.8 1027.9,890.7 1004.7,845.9 979.1,800.7 952.4,757.6 923.4,714.6 893.3,673.5 860.8,632.6 826,591.8 787.7,549.9 745.9,506.9 700.6,462.8M1175.2,1227.1 1150.8,1150.4 1128.8,1085.1 1107.9,1027.6 1087,974.7 1064.9,923.6 1042.9,877 1019.7,832.3 994.1,787.5 967.5,744.9 938.4,702.7 908.3,662.3 874.6,620.8 838.6,579.6 800.3,538.6 757.4,495.4 711,451.2M1185.5,1207.4 1162.3,1132.1 1141.4,1068.8 1121.7,1013.6 1100.8,960.2 1078.8,909 1056.7,862.6 1033.5,818.4 1009.1,776.2 982.5,734.2 953.4,692.7 923.3,653.1 889.6,612.4 852.5,570.8 813,529.5 768.9,486.1 721.3,441.7M1195.9,1187.8 1175,1118.1 1155.3,1056.9 1135.6,1000.9 1114.7,947.1 1093.8,898.5 1071.7,852.3 1048.5,808.4 1024.1,766.8 997.5,725.5 968.4,684.7 937.1,644.5 903.5,604.7 866.3,564 825.7,522.5 781.6,479.9 731.7,434.2M1206.3,1168.3 1186.5,1101.1 1166.8,1039.4 1148.2,986.5 1128.5,935.7 1107.6,887.3 1085.6,841.5 1062.4,798.3 1038,757.5 1011.3,717.1 982.3,677.3 951,638 917.3,599.1 880.2,559.3 838.4,517.4 793.1,474.7 742.1,428.7M1216.6,1149.3 1198.1,1085.1 1179.5,1026.5 1160.9,973.6 1141.2,923.1 1121.5,877.8 1099.4,832.7 1076.2,790.2 1051.8,750.2 1025.1,710.7 997.3,673.3 966,634.8 931.1,595.5 892.8,555.4 851.1,514.4 804.6,471.4 752.4,425.2M1227,1130.9 1208.4,1066.4 1191,1011.6 1172.4,959.1 1153.9,912.2 1134.1,867.7 1113.3,825.7 1090,784 1065.7,744.9 1039,706.4 1010,668.4 978.6,631 943.8,592.7 905.5,553.5 862.6,512.2 815,469 762.8,423.6M1237.3,1113.4 1219.9,1052.7 1202.5,998.2 1185.1,949.4 1166.5,903.1 1146.8,859.5 1125.9,818.4 1103.9,779.8 1079.5,741.6 1052.8,704 1023.8,666.9 992.5,630.4 957.7,592.9 918.2,553.4 875.3,513 827.7,470.4 773.1,423.8M1247.7,1096.8 1231.5,1040.4 1215.2,989.8 1197.8,941.5 1179.2,895.9 1160.7,855.5 1139.8,815.2 1117.7,777.4 1093.4,740.1 1067.8,704.9 1038.8,668.7 1007.5,632.9 971.5,595 932,556.2 887.9,515.5 839.2,472.6 783.5,425.6M1258.1,1081.5 1243,1029.5 1226.7,979.5 1209.3,932.2 1191.9,890.4 1173.3,850.9 1152.5,811.7 1130.4,775 1106,738.8 1080.5,704.7 1051.5,669.4 1020.2,634.6 984.2,597.6 944.7,559.6 900.6,519.6 850.7,476.3 793.9,429M1268.4,1067.4 1253.3,1016.3 1237.1,967.6 1220.8,924.6 1203.4,884.1 1184.9,845.9 1165.1,810 1143.1,774.4 1118.7,739.3 1092,704.7 1063,670.6 1031.7,636.7 995.7,600.6 956.2,563.5 911,523.2 861.1,480.6 804.2,433.8M1278.8,1054.7 1263.7,1004.8 1248.6,960.7 1232.4,918.9 1216.1,882 1197.5,844.9 1177.8,810 1155.8,775.5 1131.4,741.4 1105.9,709.2 1076.9,675.9 1044.4,641.6 1008.4,606.3 968.9,569.9 923.7,530.2 872.6,487.2 814.6,440M1289.1,1043.5 1275.2,998.4 1260.1,955.3 1243.9,914.8 1227.6,879.1 1209.1,843.3 1189.3,809.7 1167.3,776.4 1144.1,745 1118.5,713.8 1089.5,681.4 1057,647.9 1021.1,613.3 980.4,576.5 935.2,537.4 884.1,495 824.9,447.3M1299.5,1033.7 1286.7,993.5 1272.8,954.6 1257.7,917.5 1242.6,884.9 1226.4,853.6 1207.8,822 1188.1,792 1166,761.9 1142.8,733.2 1116.1,703 1087.1,672.6 1054.6,640.9 1018.7,607.8 978,572.2 932.8,534.2 881.7,492.6M879.4,490.7 873.6,486.1M867.8,481.4 866.6,480.5M860.8,475.9 857.3,473.1M1309.9,1025.5 1298.3,989.9 1285.5,955.1 1272.7,924.2 1258.8,894.1 1243.7,865.1 1228.6,839 1211.2,812 1192.6,785.9 1172.9,760.6 1150.9,734.6 1126.5,708 1099.8,680.8 1069.6,651.9 1037.1,622.4 1001.2,591.1 960.5,557M958.2,555 955.9,553.1M953.6,551.2 952.4,550.3M950.1,548.4 948.9,547.4M1320.2,1018.7 1309.8,987.7 1299.3,959.8 1287.7,931.9 1276.1,906.7 1263.4,881.8 1249.4,857.2 1234.3,833.1 1219.3,811.1 1201.8,787.9 1183.3,765 1163.6,742.5 1141.5,719 1117.1,694.5 1091.6,670.2 1062.6,643.9 1031.3,616.5M1028.9,614.5 1027.8,613.5M1025.5,611.6 1024.3,610.6M1022,608.6 1013.8,601.7M1330.6,1013.3 1321.3,986.7 1310.9,959.6 1300.4,935.3 1290,913.1 1278.4,890.8 1265.6,868.4 1252.8,848.1 1238.9,827.6 1223.8,807.3 1207.6,786.9 1190.2,766.6 1170.4,745.1 1149.5,723.7 1127.5,702.2 1102,678.5 1075.3,654.7M1072.9,652.6 1067.1,647.6M1064.8,645.6 1063.7,644.6M1061.3,642.6 1060.2,641.6M1340.9,1009.2 1332.8,986.8 1323.5,963.4 1314.2,942.2 1303.8,920.4 1293.4,900.6 1281.8,880.4 1270.1,861.9 1257.4,843.2 1243.5,824.3 1228.4,805.3 1213.3,787.5 1195.9,768.3 1177.3,748.9 1157.6,729.4 1113.5,688.5M1111.2,686.4 1110,685.4M1107.7,683.3 1105.4,681.2M1351.3,1006.4 1335.1,965.4 1325.8,944.9 1316.5,926.2 1307.2,909 1296.8,891.1 1285.2,872.9 1273.5,856 1248,822.7 1217.8,788.2 1183,752.5 1142.4,714.5M1135.4,708.2 1133.1,706.2M1361.7,1004.8 1346.6,968.2 1330.3,934.8 1311.8,902.3 1292,872.6 1268.8,842 1243.3,812.2 1213.1,780.6 1178.3,747.2M1176,745.1 1172.5,741.9M1167.9,737.6 1166.7,736.6M1372,1004.3 1358.1,971.9 1343,941.9 1325.6,912.1 1307,884.6 1286.1,857.3 1261.8,829 1233.9,799.7 1202.6,769.6M1200.3,767.4 1196.8,764.2M1192.1,759.9 1189.8,757.8M1382.4,1004.7 1369.6,976.3 1354.5,947.4 1338.3,920.5 1320.9,895.3 1301.1,870 1277.9,843.3 1252.4,816.7 1223.4,788.8M1221.1,786.6 1217.6,783.4M1392.7,1006 1380,978.9 1366,953.4 1351,929.2 1334.7,906.3 1316.1,882.8 1295.3,859 1270.9,833.7 1244.2,808.1M1238.4,802.7 1237.2,801.6M1403.1,1008 1390.3,982.3 1377.6,959.9 1363.6,938.3 1347.4,915.9 1330,894.4 1310.3,872.3 1288.2,849.6 1262.7,825.2M1259.2,822 1256.9,819.8M1413.5,1010.7 1401.9,988.3 1389.1,966.7 1375.2,945.9 1358.9,924.3 1341.5,903.4 1322.9,883.1 1300.9,860.9 1276.5,837.9M1423.8,1014 1412.2,992.7 1400.6,973.9 1386.7,953.8 1371.6,934.2 1355.4,915.2 1336.8,895.2 1317.1,875.5 1293.8,853.8M1290.4,850.7 1289.2,849.6M1434.2,1017.8 1422.6,997.5 1411,979.5 1398.2,961.8 1384.3,944.3 1369.2,926.9 1351.8,908.4 1332.1,888.9 1311.2,869.5M1444.5,1022 1434.1,1004.5 1422.5,987.1 1410.9,971.4 1397,954.3 1381.9,937.3 1364.5,919.2 1345.9,901.1 1325,881.9M1321.5,878.8 1320.4,877.8M1454.9,1026.5 1445.6,1011.6 1435.2,996.4 1423.6,981 1412,966.9 1399.2,952.6 1384.1,936.8 1349.3,903.5M1347,901.4 1342.3,897.3M1340,895.2 1337.7,893.1M1335.4,891.1 1334.2,890.1M1465.3,1031.3 1456,1017 1445.5,1002.5 1433.9,987.7 1422.3,974.2 1394.5,944.9 1359.7,912.4M1357.3,910.3 1353.9,907.2M1351.5,905.2 1349.2,903.2M1346.9,901.1 1345.7,900.1M1475.6,1036.3 1465.2,1021.1 1454.7,1007.2 1443.1,993.1 1430.4,978.9 1400.2,948.5 1364.2,916M1361.9,914 1360.7,913M1357.2,910 1356.1,909M1486,1041.5 1476.7,1028.4 1466.3,1015 1443,988.6 1415.2,960.9 1380.4,929.6M1378.1,927.6 1376.9,926.6M1374.6,924.6 1368.8,919.7M1366.4,917.7 1365.3,916.8M1496.3,1046.8 1477.8,1022.7 1454.6,997 1427.9,970.8 1394.2,940.9M1391.9,939 1390.7,938M1388.4,936 1387.3,935M1384.9,933.1 1383.8,932.1M1381.5,930.1 1380.3,929.2M1378,927.2 1376.8,926.3M1506.7,1052.2 1496.3,1038.7 1485.8,1026.3 1460.3,999.4 1428.9,970.1 1390.7,937.5M1388.3,935.5 1386,933.6M1383.7,931.7 1382.5,930.8M1380.2,928.9 1379,928M1517.1,1057.6 1506.6,1044.6 1495,1031.4 1468.3,1004.2 1435.8,974.7 1394,939.9M1391.7,938 1389.4,936.1M1387.1,934.2 1385.9,933.3M1376.6,925.9 1374.3,924.1M1527.4,1063.1 1517,1050.5 1504.2,1036.4 1475.2,1007.9 1439.2,976.3 1392.8,938.5M1390.5,936.7 1385.8,933M1383.5,931.2 1382.4,930.2M1380,928.4 1377.7,926.6M1537.8,1068.5 1526.2,1055 1512.2,1040.3 1480.9,1010.6 1439.1,975.1 1384.6,931.7M1382.3,929.9 1381.1,929M1378.8,927.2 1374.1,923.6M1548.1,1073.9 1535.4,1059.6 1520.3,1044.2 1504,1028.9 1485.5,1012.4 1439.1,973.9 1376.4,925M1374.1,923.2 1369.4,919.6M1558.5,1079.2 1544.6,1064.1 1529.5,1049.2 1510.9,1032.2 1490,1014.1 1436.6,970.9 1361.2,912.9M1568.9,1084.4 1553.8,1068.6 1537.5,1053 1517.8,1035.4 1495.7,1016.8 1437.7,970.6 1354.2,907M1579.2,1089.5 1564.1,1074.2 1546.7,1057.8 1525.8,1039.6 1501.5,1019.4 1437.6,969.2 1344.8,899.2M1589.6,1094.6 1573.3,1078.5 1554.8,1061.5 1532.7,1042.6 1507.2,1021.8 1438.7,968.6 1336.6,892M1599.9,1099.5 1583.7,1083.7 1564,1066.1 1540.8,1046.5 1514.1,1025 1441,968.7 1328.4,884.7M1610.3,1104.3 1592.9,1087.8 1573.2,1070.5 1548.8,1050.3 1519.8,1027.2 1440.9,966.9 1317.9,875.4M1620.7,1109 1603.3,1092.8 1582.4,1074.7 1526.7,1030.1 1441.9,965.8 1307.3,866M1631,1113.5 1613.6,1097.6 1591.6,1078.8 1532.4,1031.9 1443,964.4 1295.6,855.4M1641.4,1117.9 1622.8,1101.3 1599.6,1081.8 1538.1,1033.5 1441.8,961.2 1281.6,843M1651.7,1122.2 1632,1104.8 1608.8,1085.6 1545,1035.9 1442.8,959.5 1268.8,831.2M1662.1,1126.3 1642.4,1109.2 1618,1089.2 1550.7,1037.2 1441.6,955.8 1254.8,818.3M1672.5,1130.3 1651.6,1112.4 1627.2,1092.7 1556.4,1038.3 1442.7,953.7 1240.8,805.2M1682.8,1134.1 1661.9,1116.4 1636.4,1096 1562.1,1039.2 1441.4,949.7 1224.4,790.2M1693.2,1137.8 1672.3,1120.3 1646.8,1100 1572.5,1043.4 1450.6,953.1 1229,790.3M1703.5,1141.4 1657.1,1103.9 1582.8,1047.5 1458.7,955.6 1239.3,794.5M1713.9,1144.8 1667.5,1107.6 1593.2,1051.3 1469,959.5 1249.7,798.5M1724.3,1148.1 1677.8,1111.1 1603.6,1055 1260.1,802.3M1734.6,1151.2 1688.2,1114.5 1613.9,1058.5 1270.4,805.9M1745,1154.2 1698.6,1117.7 1624.3,1061.9 1280.8,809.4M1755.3,1157.1 1708.9,1120.8 1635.8,1066 1291.1,812.7M1765.7,1159.9 1719.3,1123.7 1645,1068.1 1301.5,815.8M1098.4,1354.5 1118.5,1325.8 1140.1,1290.6 1161.8,1252 1221.9,1139.9 1240.2,1108.6 1258.6,1080.7 1270.3,1065 1280.3,1053 1290.3,1042.3 1300.3,1033.1 1310.3,1025.2 1322,1017.7 1332,1012.7 1343.7,1008.4 1352,1006.3 1362,1004.8 1372,1004.3 1382,1004.7 1392,1005.8 1403.7,1008.1 1427.1,1015.1 1447.1,1023 1468.8,1033 1575.5,1087.7 1605.6,1102.1 1633.9,1114.8 1665.6,1127.7 1699,1139.8 1732.3,1150.5 1765.7,1159.9M1070.6,1344.3 1090.6,1314.1 1112.3,1276.6 1135.7,1231.8 1179,1143.6 1195.7,1110.8 1214.1,1077.2 1232.4,1047.4 1244.1,1030.7 1254.1,1017.9 1264.1,1006.7 1274.1,997.1 1284.1,989 1294.1,982.3 1304.1,977.2 1315.8,972.9 1324.2,970.9 1334.2,969.6 1342.5,969.4 1352.5,970 1362.5,971.5 1372.5,973.9 1394.2,981.2 1412.6,989.3 1434.2,1000.4 1544.3,1063.7 1576,1080.6 1607.7,1096.1 1642.8,1111.6 1677.8,1125.2 1714.5,1137.7 1751.2,1148.3M1042.7,1336.9 1052.8,1321.8 1064.4,1302.8 1087.8,1260 1109.5,1215.9 1152.8,1121.9 1171.2,1083.5 1189.5,1047.9 1206.2,1019.1 1217.9,1001.3 1227.9,987.7 1237.9,975.8 1247.9,965.6 1257.9,957 1267.9,950.1 1278,944.7 1289.6,940.4 1298,938.4 1306.3,937.4 1314.6,937.2 1324.7,938 1333,939.4 1343,941.9 1353,945.2 1364.7,949.9 1383,958.8 1403.1,970 1514.8,1040.5 1548.2,1059.9 1581.6,1077.6 1618.2,1095 1656.6,1110.9 1696.7,1125.1 1736.7,1137M1018.2,1326.7 1028.2,1311 1039.9,1291.1 1051.6,1269.5 1063.3,1246.4 1086.6,1196.2 1128.3,1101 1146.7,1060.4 1165,1022.9 1181.7,992.5 1193.4,973.8 1203.4,959.5 1213.4,947 1223.4,936.3 1233.4,927.4 1243.4,920.2 1253.4,914.7 1265.1,910.3 1273.5,908.4 1281.8,907.5 1290.1,907.4 1298.5,908.2 1306.8,909.8 1316.8,912.5 1326.8,916.1 1338.5,921.2 1358.5,931.8 1381.9,946.3 1463.6,1002.6 1498.7,1025.6 1528.7,1044 1558.7,1060.8 1598.7,1080.8 1638.8,1098 1680.5,1113.2 1722.2,1125.9M993.7,1318.2 1003.7,1302.2 1015.4,1281.7 1027.1,1259.4 1038.8,1235.4 1062.1,1183.3 1105.5,1079.8 1123.8,1037.5 1142.2,998.4 1158.9,966.9 1170.5,947.4 1180.5,932.7 1190.6,919.8 1200.6,908.7 1210.6,899.5 1220.6,892.2 1230.6,886.6 1242.3,882.3 1250.6,880.5 1258.9,879.7 1267.3,879.8 1275.6,880.8 1284,882.6 1294,885.7 1312.3,893.6 1332.3,904.8 1355.7,920.1 1439.1,981.3 1475.8,1007 1507.5,1027.4 1537.5,1045 1577.6,1066 1619.3,1084.6 1640.9,1093.2 1662.6,1101 1707.7,1114.9M970.9,1308.6 982.5,1289.2 994.2,1267.9 1005.9,1244.6 1017.6,1219.5 1040.9,1165.2 1082.6,1061.7 1101,1017.8 1119.3,977.2 1136,944.4 1147.7,924.2 1157.7,908.8 1167.7,895.4 1177.7,883.9 1187.7,874.3 1197.7,866.7 1207.7,860.9 1219.4,856.4 1226.1,854.8 1234.4,853.8 1242.8,853.8 1251.1,854.8 1259.5,856.5 1269.5,859.7 1287.8,867.8 1307.8,879.5 1331.2,895.5 1416.3,961.4 1453,988.4 1484.7,1009.8 1516.3,1029.3 1536.4,1040.6 1558,1052 1579.7,1062.4 1601.4,1072 1623.1,1080.8 1646.5,1089.3 1669.8,1097.1 1693.2,1104M948,1300.3 959.7,1280.6 971.4,1258.8 983,1234.9 994.7,1209.2 1018.1,1153.3 1061.5,1042.3 1078.1,1001 1096.5,958.9 1114.8,921.6 1126.5,900.9 1136.5,885.2 1146.5,871.5 1156.5,859.7 1166.5,850 1176.6,842.3 1186.6,836.5 1198.2,831.9 1204.9,830.4 1213.3,829.5 1221.6,829.6 1229.9,830.7 1238.3,832.6 1248.3,836 1266.6,844.7 1286.7,857 1310,873.9 1393.4,941.5 1430.1,969.8 1463.5,993.4 1496.8,1014.7 1518.5,1027.3 1540.2,1038.9 1561.9,1049.6 1583.6,1059.5 1606.9,1069.1 1630.3,1077.8 1653.6,1085.6 1678.7,1093.2M926.8,1290.4 938.5,1270.1 950.2,1247.7 961.9,1223.3 973.5,1196.8 996.9,1139.3 1038.6,1029.4 1057,982.7 1075.3,939.4 1093.7,901.2 1105.3,879.9 1115.3,863.8 1125.3,849.7 1135.4,837.7 1145.4,827.7 1155.4,819.7 1165.4,813.7 1177.1,809.1 1183.7,807.5 1192.1,806.6 1200.4,806.7 1208.8,807.8 1217.1,809.8 1225.4,812.7 1233.8,816.3 1243.8,821.4 1263.8,834 1287.2,851.4 1308.8,869.2 1372.2,923.1 1410.6,953.8 1444,978.1 1477.3,1000.1 1499,1013.1 1522.4,1026 1544.1,1036.9 1567.4,1047.7 1590.8,1057.5 1614.1,1066.3 1639.1,1074.8 1664.2,1082.3M905.7,1281.4 917.3,1260.8 929,1237.9 940.7,1212.9 954,1181.9 977.4,1122.6 1030.8,979.3 1045.8,941.8 1060.8,907.2 1077.5,873.2 1092.5,847.1 1107.5,825.5 1114.2,817.5 1122.5,808.7 1130.9,801.4 1140.9,794.4 1149.2,790.2 1159.2,786.7 1169.2,785 1179.2,784.9 1189.2,786.3 1200.9,789.6 1212.6,794.5 1224.3,800.7 1236,808.1 1249.3,817.5 1277.7,840.4 1324.4,881.4M1327.7,884.4 1331,887.3M1334.4,890.2 1339.4,894.6M1342.7,897.5 1351.1,904.7M1364.4,916.1 1366.1,917.5M1369.4,920.2 1372.7,923M1384.4,932.5 1392.8,939.1M1396.1,941.7 1426.1,964.1 1456.1,984.5 1486.2,1002.8 1517.9,1020.1 1549.6,1035.2 1581.3,1048.5 1614.6,1060.7 1649.7,1071.6M886.2,1270.5 897.8,1249.2 909.5,1225.7 921.2,1200 934.5,1168.2 956.2,1111.8 1009.6,965.4 1024.6,927 1038,895.3 1053,863.2 1068,835.2 1083,811.9 1096.3,795.1 1104.7,786.6 1114.7,778.2 1123,772.8 1133,768.1 1141.4,765.6 1151.4,764.2 1161.4,764.5 1171.4,766.2 1181.4,769.3 1191.4,773.5 1203.1,779.7 1214.8,787.1 1228.1,796.8 1241.5,807.4 1274.8,836.5M1278.2,839.5 1279.8,841M1283.2,844.1 1284.8,845.6M1288.2,848.6 1289.8,850.2M1386.6,933.8 1388.3,935.1M1391.6,937.7 1421.6,959.7 1450,978.5 1478.3,995.5 1508.4,1011.6 1538.4,1025.8 1570.1,1039 1601.8,1050.5 1635.1,1060.8M866.6,1260.3 878.3,1238.4 890,1214.4 901.7,1188.1 913.3,1159.7 936.7,1097.9 990.1,948.7 1005.1,909.7 1018.4,877.6 1033.5,845 1048.5,816.7 1063.5,793 1076.8,776 1085.2,767.3 1095.2,758.8 1103.5,753.3 1113.5,748.5 1121.9,746 1131.9,744.6 1141.9,744.8 1151.9,746.5 1161.9,749.6 1173.6,754.8 1185.3,761.3 1196.9,769 1210.3,779 1223.6,790 1258.7,821.5M1375.4,924.9 1378.8,927.5M1387.1,933.8 1388.8,935.1M1392.1,937.6 1418.8,956.5 1445.5,973.6 1472.2,989.2 1500.5,1004 1528.9,1017.2 1558.9,1029.5 1588.9,1040.3 1620.6,1050.1M847.1,1250.9 858.8,1228.4 870.5,1203.9 882.2,1177.1 893.8,1148.2 915.5,1089.9 968.9,938.1 983.9,898.2 997.3,865.3 1012.3,831.8 1025.6,805.5 1040.6,780.4 1054,762.1 1062.3,752.6 1070.7,744.6 1079,738.1 1089,732.2 1097.3,728.7 1107.4,726.3 1115.7,725.6 1125.7,726.3 1135.7,728.4 1145.7,731.9 1155.7,736.6 1167.4,743.4 1179.1,751.4 1190.8,760.3 1220.8,786.4M1224.1,789.5 1225.8,791M1377.6,926.3 1379.3,927.5M1382.6,930 1384.3,931.2M1387.6,933.6 1412.6,950.9 1437.6,966.7 1464.3,981.9 1491,995.6 1517.7,1007.8 1546.1,1019.4 1576.1,1030.1 1606.1,1039.4M827.6,1242.4 839.3,1219.2 851,1194.2 862.6,1167 874.3,1137.6 896,1078.4 949.4,924.3 964.4,883.9 977.8,850.5 992.8,816.4 1006.1,789.7 1019.5,766.8 1032.8,747.6 1041.1,737.6 1049.5,729 1057.8,722 1067.8,715.5 1076.2,711.6 1086.2,708.6 1094.5,707.6 1104.5,707.8 1114.5,709.6 1124.5,712.8 1134.6,717.3 1146.2,723.9 1157.9,731.7 1171.3,741.9 1199.6,766.8M1202.9,769.9 1204.6,771.5M1368.1,918.8 1374.8,923.7M1378.1,926.1 1403.1,943.2 1428.1,958.7 1453.2,972.8 1479.9,986.4 1506.6,998.5 1533.2,1009.2 1561.6,1019.4 1591.6,1028.7M809.8,1231.3 821.5,1207.2 833.1,1181.4 844.8,1153.5 856.5,1123.5 878.2,1063.1 929.9,911.8 943.2,875.1 956.6,840.9 971.6,805.9 984.9,778.3 999.9,751.6 1013.3,732 1021.6,721.7 1030,712.9 1038.3,705.6 1048.3,698.8 1056.7,694.7 1066.7,691.5 1075,690.2 1085,690.2 1095,691.9 1105,694.9 1115,699.3 1125.1,704.8 1136.7,712.4 1148.4,721.2 1175.1,744.3M1363.6,915 1388.6,932.2 1413.6,947.8 1438.7,962 1465.4,975.6 1492,987.7 1518.7,998.5 1547.1,1008.7 1577.1,1018M791.9,1220.8 817,1165.2 838.6,1110 858.7,1053.5 910.4,900.3 923.7,863.2 937.1,828.4 952.1,792.8 965.4,764.8 978.8,740.3 992.1,719.7 1000.5,708.8 1008.8,699.4 1017.1,691.5 1027.1,684 1035.5,679.3 1043.8,675.9 1052.2,673.9 1062.2,673.1 1072.2,674 1082.2,676.4 1092.2,680.1 1102.2,685.1 1112.2,691.2 1123.9,699.4 1137.2,710.1 1150.6,721.9M1153.9,724.9 1155.6,726.5M1359.1,911.1 1382.5,926.7 1405.8,940.9 1430.8,954.7 1455.9,967.2 1480.9,978.4 1507.6,989.1 1534.3,998.5 1562.6,1007.3M774.1,1211 799.1,1153.5 820.8,1097.2 840.8,1039.9 890.9,889.8 904.2,852.2 917.6,817 932.6,780.8 945.9,752.2 960.9,724.4 974.3,703.7 982.6,692.7 990.9,683.3 999.3,675.3 1009.3,667.8 1017.6,663 1026,659.6 1034.3,657.6 1044.3,656.7 1052.7,657.3 1062.7,659.5 1072.7,663 1082.7,667.8 1092.7,673.7 1104.4,681.9 1117.7,692.5 1131.1,704.3M1354.6,907.1 1376.3,921.1 1399.6,934.9 1423,947.4 1446.3,958.8 1471.4,969.8 1496.4,979.6 1521.4,988.4 1548.1,996.7M756.2,1201.9 782.9,1138.1 803,1085.1 823,1026.9 871.4,880.3 884.7,842.2 898,806.5 913.1,769.7 926.4,740.5 939.7,715 953.1,693.2 961.4,681.6 969.8,671.5 978.1,662.9 988.1,654.5 996.5,649.1 1004.8,645.1 1013.1,642.4 1023.2,640.9 1031.5,641 1041.5,642.6 1051.5,645.6 1061.5,650 1071.5,655.6 1083.2,663.4 1094.9,672.3 1106.6,682.3M1346.8,900.7 1368.5,914.4 1390.1,926.9 1411.8,938.4 1435.2,949.6 1458.5,959.8 1483.6,969.6 1508.6,978.3 1533.6,986M740.1,1189.3 766.8,1123.1 785.1,1073.5 803.5,1019.7 851.8,871.7 865.2,833.1 878.5,796.8 893.5,759.5 906.9,729.7 921.9,700.5 935.2,678.6 943.6,666.9 951.9,656.7 960.3,648 968.6,640.7 976.9,634.9 985.3,630.6 993.6,627.6 1003.6,625.6 1012,625.4 1022,626.6 1032,629.3 1042,633.4 1052,638.8 1063.7,646.3 1075.4,655.2 1087,665M1340.6,895.3 1360.6,907.6 1382.3,919.8 1404,931 1425.7,941.2 1447.4,950.5 1470.7,959.5 1494.1,967.6 1519.1,975.3M722.2,1181.5 750.6,1108.3 768.9,1057.6 787.3,1003 832.3,863.9 845.7,824.8 859,788 874,750 889,716.1 904.1,686.7 917.4,664.7 925.7,652.8 934.1,642.5 942.4,633.6 952.4,625 960.8,619.3 969.1,615.1 977.5,612.2 987.5,610.5 995.8,610.3 1005.8,611.7 1015.8,614.5 1025.8,618.7 1035.8,624.2 1047.5,631.9 1059.2,640.9 1070.9,650.8M1332.8,888.7 1352.8,900.7 1372.8,911.8 1392.8,921.9 1414.5,932 1436.2,941.1 1457.9,949.4 1481.2,957.5 1504.6,964.7M706.1,1169.8 736.1,1089.4 752.8,1042.2 769.4,991.9 812.8,856.8 826.2,817.3 839.5,779.9 854.5,741.3 869.5,706.7 884.5,676.6 897.9,653.8 906.2,641.5 914.6,630.7 922.9,621.5 931.3,613.6 939.6,607.3 947.9,602.3 956.3,598.8 966.3,596.2 974.6,595.5 984.6,596.1 994.6,598.3 1004.7,602 1014.7,606.9 1024.7,613 1036.3,621.4 1048,631M1051.4,633.9 1053,635.3M1326.6,883.1 1345,893.8 1365,904.5 1385,914.4 1405,923.5 1425,931.8 1446.7,940 1490.1,954M689.9,1158.5 734.9,1032.1 751.6,981.4 795,845.3 820,772.6 835,733.3 850,698 865,667.1 878.4,643.6 886.7,630.9 895.1,619.6 903.4,609.9 913.4,600.1 921.8,593.6 930.1,588.5 938.4,584.7 948.4,582 956.8,581 966.8,581.5 975.1,583.1 985.1,586.4 995.2,591 1005.2,596.8 1016.8,604.9 1028.5,614.2M1031.9,617 1033.5,618.5M1318.8,876.3 1355.5,896.4 1393.8,914.2 1433.9,929.9 1475.6,943.4M673.7,1147.5 718.7,1017.4 777.1,834.4 802.2,761.3 817.2,721.7 832.2,686.2 847.2,655 860.5,631.3 868.9,618.4 877.2,607 885.6,597 895.6,587 903.9,580.3 912.3,575 920.6,571 930.6,568 938.9,566.9 949,567.2 957.3,568.6 967.3,571.7 977.3,576.1 987.3,581.8 999,589.8 1010.7,599M1312.6,870.5 1347.6,889 1384.3,905.7 1421,919.8 1461.1,932.7M657.5,1136.8 702.6,1003.2 759.3,824.1 784.3,750.5 799.3,710.7 814.3,674.9 829.4,643.4 844.4,616.7 852.7,603.9 861,592.5 869.4,582.7 879.4,572.8 887.7,566.1 896.1,560.9 904.4,557 914.4,554 922.8,553 932.8,553.3 941.1,554.7 951.1,557.8 961.1,562.3 971.1,568 982.8,576 994.5,585.3M1304.8,863.5 1338.1,880.8 1373.2,896.4 1409.9,910.4 1446.6,922.1M641.4,1126.6 654.7,1084.3 691.4,973.7 743.1,809.1 764.8,744.9 781.5,700.1 796.5,664 811.5,632.3 826.5,605.2 834.9,592.2 843.2,580.6 851.5,570.6 861.6,560.4 869.9,553.5 879.9,547.1 888.2,543.2 898.3,540.3 906.6,539.3 916.6,539.6 926.6,541.5 936.6,544.8 946.6,549.5 956.6,555.5 968.3,563.7 980,573.2M1296.9,856.5 1328.6,872.5 1362,887.1 1397,900.3 1432.1,911.5M625.2,1116.6 640.2,1067.4 678.6,949.3 721.9,810.1 747,735.1 763.6,690 778.7,653.6 795.3,618.3 810.3,591.3 818.7,578.4 827,566.9 835.4,556.9 845.4,546.8 853.7,539.9 863.7,533.5 872.1,529.7 882.1,526.8 890.4,525.8 900.4,526.1 910.4,528 920.4,531.3 930.5,536.1 940.5,542 952.1,550.2 963.8,559.7M1289.1,849.4 1319.1,864.2 1350.8,877.8 1384.2,890.2 1417.6,900.8M609,1107 625.7,1050.5 659.1,946.4 700.8,811.7 727.4,730.5 744.1,684.6 760.8,643.6 777.5,607.9 792.5,580.5 800.8,567.4 809.2,555.7 817.5,545.4 827.5,535 835.9,527.9 845.9,521.2 854.2,517.1 864.2,513.9 872.6,512.6 882.6,512.6 892.6,514.2 902.6,517.3 912.6,521.8 922.6,527.5 934.3,535.6 946,544.9M1281.3,842.2 1309.6,855.8 1339.7,868.5 1371.3,880.2 1403,890.2M592.8,1097.8 614.5,1022.8 642.9,933.2 686.3,792.6 709.6,721.5 726.3,675.4 743,634 759.7,597.8 774.7,570.1 783,556.7 791.3,544.8 799.7,534.3 809.7,523.5 818,516.1 828,509.1 836.4,504.7 846.4,501.2 854.7,499.6 864.7,499.3 874.8,500.7 884.8,503.5 894.8,507.8 906.4,514.3 918.1,522.3 929.8,531.7M1273.4,834.9 1300.1,847.4 1328.5,859.2 1358.5,870.1 1388.5,879.6M578.3,1082.7 590,1039.9 601.7,1000.4 666.7,789.8 690.1,717.9 708.4,666.5 725.1,624.7 741.8,588.2 756.8,560 765.2,546.4 773.5,534.2 781.8,523.4 791.9,512.3 800.2,504.7 810.2,497.3 818.5,492.6 828.6,488.7 836.9,486.9 846.9,486.3 856.9,487.3 866.9,489.9 876.9,493.9 886.9,499.1 898.6,506.7 910.3,515.7M1263.9,826.7 1290.6,838.9 1317.3,849.8 1345.7,860 1374,868.9M562.2,1074 575.5,1023.5 587.2,983.3 648.9,782.1 672.3,709.7 690.6,657.9 707.3,615.8 724,578.8 739,550.2 747.3,536.4 755.7,523.9 764,512.8 774,501.4 782.4,493.5 792.4,485.7 800.7,480.8 810.7,476.5 819,474.4 829.1,473.5 839.1,474.2 849.1,476.4 859.1,480.1 869.1,485.1 880.8,492.5 892.4,501.2M1256.1,819.2 1281.1,830.4 1306.1,840.5 1332.8,849.9 1359.5,858.3M546,1065.6 561,1007.2 572.7,966.3 631.1,774.7 654.4,701.9 672.8,649.7 689.4,607.2 706.1,569.8 722.8,537.8 732.8,521.3 741.2,509.2 749.5,498.4 759.5,487.3 767.8,479.6 777.9,472.2 786.2,467.4 796.2,463.5 804.5,461.5 814.6,460.8 824.6,461.7 834.6,464.1 844.6,468 854.6,473.2 866.3,480.7 877.9,489.5M1248.3,811.7 1271.6,821.9 1295,831.1 1320,839.9 1345,847.7M531.5,1050.8 546.5,990.9 558.2,949.4 613.2,767.7 638.2,689.5 656.6,637.3 674.9,590.9 691.6,554.1 708.3,522.7 718.3,506.6 726.6,494.7 735,484.2 745,473.4 753.3,466 763.3,458.8 771.7,454.3 781.7,450.5 790,448.8 800,448.3 810.1,449.3 820.1,452 830.1,456 840.1,461.3 851.8,468.9 863.4,477.9M1238.8,803.3 1260.5,812.6 1283.8,821.7 1307.2,829.8 1330.5,837M515.3,1042.8 530.3,981 543.7,932.6 595.4,760.9 618.7,687.3 637.1,634.3 655.4,586.8 673.8,545.5 690.5,513.7 700.5,497.2 708.8,485 717.1,474.2 727.2,463.1 735.5,455.3 745.5,447.7 753.8,442.9 763.9,438.8 772.2,436.7 782.2,435.8 792.2,436.5 802.2,438.8 812.2,442.5 822.2,447.5 833.9,454.9 845.6,463.7M1230.9,795.6 1250.9,804 1272.6,812.2 1316,826.4M499.1,1035.1 515.8,964.8 527.5,921.6 575.9,760 600.9,680.4 620.9,622.4 639.3,575 657.6,533.7 674.3,501.9 684.3,485.4 692.6,473.2 701,462.4 711,451.2 719.3,443.4 729.3,435.7 737.7,430.8 747.7,426.6 757.7,424.2 767.7,423.5 777.7,424.4 787.7,426.8 797.7,430.6 807.7,435.8 819.4,443.3 831.1,452.2M1223.1,787.9 1261.5,802.8 1301.5,815.8"/>
<path fill="none" stroke="#ffffff" stroke-opacity="0.8" stroke-width="1.6" d="M304.0,463.8 768.2,803.6M768.2,803.6 1765.7,644.8M768.2,1493.3 768.2,803.6M304.0,1153.5 768.2,1493.3M768.2,1493.3 1765.7,1334.5M1765.7,1334.5 1765.7,644.8"/>
<path fill="none" stroke="#d0d0d0" stroke-width="1.6" d="M290.0,1153.5 304.0,1153.5M1765.7,1334.5 1781.7,1334.5M290.0,1076.9 304.0,1076.9M1765.7,1257.9 1781.7,1257.9M290.0,1000.2 304.0,1000.2M1765.7,1181.2 1781.7,1181.2M290.0,923.6 304.0,923.6M1765.7,1104.6 1781.7,1104.6M290.0,847.0 304.0,847.0M1765.7,1028.0 1781.7,1028.0M290.0,770.3 304.0,770.3M1765.7,951.3 1781.7,951.3M290.0,693.7 304.0,693.7M1765.7,874.7 1781.7,874.7M290.0,617.1 304.0,617.1M1765.7,798.1 1781.7,798.1M290.0,540.4 304.0,540.4M1765.7,721.4 1781.7,721.4M290.0,463.8 304.0,463.8M1765.7,644.8 1781.7,644.8M756.2,1494.3 768.2,1493.3M698.2,1451.8 710.2,1450.8M640.2,1409.3 652.2,1408.3M582.1,1366.9 594.1,1365.9M524.1,1324.4 536.1,1323.4M466.1,1281.9 478.1,1280.9M408.1,1239.4 420.1,1238.4M350.0,1197.0 362.0,1196.0M768.2,1493.3 775.2,1499.3M934.5,1466.8 941.5,1472.8M1100.7,1440.4 1107.7,1446.4M1267.0,1413.9 1274.0,1419.9M1433.2,1387.4 1440.2,1393.4M1599.5,1361.0 1606.5,1367.0"/>
</g>
<g id="plot-b">
<polygon fill="#c6c6c6" points="304.0,2842.5 1301.5,2683.7 1301.5,1994.0 304.0,2152.8"/>
<polygon fill="#888888" points="1301.5,2683.7 1765.7,3023.5 1765.7,2333.8 1301.5,1994.0"/>
<path fill="none" stroke="#0a7c7a" stroke-opacity="0.55" stroke-width="1.5" d="M470.3,2816.0 470.3,2126.3M934.5,3155.8 470.3,2816.0M636.5,2789.6 636.5,2099.9M1100.7,3129.4 636.5,2789.6M802.8,2763.1 802.8,2073.4M1267.0,3102.9 802.8,2763.1M969.0,2736.6 969.0,2046.9M1433.2,3076.4 969.0,2736.6M1135.2,2710.2 1135.2,2020.5M1599.5,3050.0 1135.2,2710.2M1707.7,2981.0 1707.7,2291.3M710.2,3139.8 1707.7,2981.0M1649.7,2938.6 1649.7,2248.8M652.2,3097.3 1649.7,2938.6M1591.6,2896.1 1591.6,2206.4M594.1,3054.9 1591.6,2896.1M1533.6,2853.6 1533.6,2163.9M536.1,3012.4 1533.6,2853.6M1475.6,2811.1 1475.6,2121.4M478.1,2969.9 1475.6,2811.1M1417.6,2768.7 1417.6,2078.9M420.1,2927.4 1417.6,2768.7M1359.5,2726.2 1359.5,2036.5M362.0,2885.0 1359.5,2726.2M304.0,2727.6 1301.5,2568.8M1301.5,2568.8 1765.7,2908.6M304.0,2612.6 1301.5,2453.8M1301.5,2453.8 1765.7,2793.6M304.0,2497.7 1301.5,2338.8M1301.5,2338.8 1765.7,2678.7M304.0,2382.7 1301.5,2223.9M1301.5,2223.9 1765.7,2563.7M304.0,2267.8 1301.5,2108.9M1301.5,2108.9 1765.7,2448.8"/>
<path fill="none" stroke="#ffffff" stroke-opacity="0.7" stroke-width="1.5" d="M1301.5,2683.7 1301.5,1994.0"/>
<path fill="none" stroke="#ffffff" stroke-opacity="0.35" stroke-width="1.5" d="M304.0,2152.8 1301.5,1994.0 1765.7,2333.8M1301.5,2683.7 1765.7,3023.5"/>
<path fill="#d60000" fill-rule="evenodd" d="M317.8,2840.8 329.8,2849.2 332.2,2851.8 341.2,2857.8 345.2,2861.2 353.8,2866.8 356.2,2869.2 361.2,2872.2 367.8,2877.8 376.2,2883.2 378.8,2885.8 387.8,2891.8 403.2,2903.8 404.8,2904.2 406.8,2906.2 411.8,2909.2 414.2,2911.8 422.8,2917.2 425.8,2920.2 427.2,2920.8 429.2,2922.8 437.8,2928.2 440.2,2930.8 449.2,2936.8 453.2,2940.2 454.8,2940.8 464.8,2948.8 473.2,2954.2 483.2,2962.2 484.2,2962.2 487.2,2965.2 488.8,2965.8 511.2,2982.8 516.2,2985.8 522.8,2991.2 531.2,2996.8 533.8,2999.2 542.2,3004.8 544.8,3007.2 545.8,3007.2 548.2,3009.8 553.8,3013.2 555.8,3015.2 557.2,3015.8 559.8,3018.2 568.8,3024.2 576.2,3030.2 577.8,3030.8 584.2,3036.2 592.8,3041.8 602.8,3049.8 603.8,3049.8 606.2,3052.2 611.8,3055.8 613.8,3057.8 615.2,3058.2 617.8,3060.8 626.8,3066.8 634.2,3072.8 635.8,3073.2 637.8,3075.2 639.2,3075.8 641.8,3078.2 643.2,3078.8 645.8,3081.2 650.8,3084.2 653.2,3086.8 661.8,3092.2 664.2,3094.8 665.2,3094.8 667.8,3097.2 673.2,3100.8 675.2,3102.8 676.8,3103.2 679.2,3105.8 688.2,3111.8 695.8,3117.8 697.2,3118.2 699.2,3120.2 700.8,3120.8 707.2,3126.2 708.8,3126.8 714.8,3131.8 723.2,3137.2 725.8,3139.8 734.8,3145.8 750.2,3157.8 751.8,3158.2 753.8,3160.2 758.8,3163.2 761.2,3165.8 769.8,3171.2 772.8,3174.2 774.2,3174.8 776.2,3176.8 781.8,3180.2 790.8,3179.2 797.2,3177.8 800.2,3177.8 800.8,3177.2 812.8,3175.8 819.2,3174.2 822.2,3174.2 825.2,3173.2 831.8,3172.8 834.8,3171.8 837.8,3171.8 850.2,3169.2 856.8,3168.8 859.8,3167.8 862.8,3167.8 878.8,3164.8 881.8,3164.8 884.8,3163.8 887.8,3163.8 900.2,3161.2 903.2,3161.2 906.2,3160.2 914.8,3159.2 917.8,3158.2 923.2,3157.8 935.8,3154.8 937.8,3154.8 949.2,3151.8 965.2,3145.8 987.2,3133.8 988.8,3132.2 991.2,3131.2 1010.8,3118.8 1025.2,3108.2 1044.2,3092.2 1066.2,3070.8 1086.2,3048.2 1123.2,3003.2 1125.8,2999.2 1137.8,2985.2 1140.2,2981.2 1159.8,2958.2 1174.8,2941.8 1193.2,2923.2 1203.8,2913.8 1205.8,2912.8 1211.8,2907.2 1218.2,2902.2 1219.8,2901.8 1224.2,2897.8 1226.8,2896.8 1228.2,2895.2 1235.2,2890.8 1236.2,2890.8 1240.2,2887.8 1241.2,2887.8 1244.2,2885.8 1260.2,2878.2 1279.8,2871.8 1300.2,2867.8 1309.8,2867.2 1310.2,2866.8 1322.2,2866.8 1322.8,2866.2 1345.8,2867.2 1346.2,2867.8 1350.8,2867.8 1351.2,2868.2 1365.8,2869.8 1389.8,2874.2 1392.2,2875.2 1394.8,2875.2 1396.8,2876.2 1399.2,2876.2 1407.8,2878.8 1409.8,2878.8 1411.8,2879.8 1421.8,2881.8 1423.8,2882.8 1427.8,2883.2 1439.2,2886.8 1441.2,2886.8 1443.2,2887.8 1450.8,2889.2 1463.8,2893.2 1465.8,2893.2 1473.2,2895.8 1475.2,2895.8 1490.2,2900.2 1492.2,2900.2 1494.2,2901.2 1510.2,2905.2 1512.2,2905.2 1520.2,2907.8 1522.2,2907.8 1530.8,2910.2 1537.2,2911.2 1559.8,2916.8 1587.2,2922.2 1592.8,2922.8 1601.2,2924.8 1604.2,2924.8 1607.2,2925.8 1619.2,2927.2 1628.8,2929.2 1635.8,2929.8 1639.2,2930.8 1657.2,2932.8 1657.8,2933.2 1674.2,2934.8 1674.8,2935.2 1698.2,2937.2 1698.8,2937.8 1703.8,2937.8 1704.2,2938.2 1722.2,2939.2 1722.8,2939.8 1765.8,2942.2 1763.2,2939.8 1756.8,2934.8 1755.2,2934.2 1752.8,2931.8 1751.2,2931.2 1750.8,2930.2 1738.8,2921.2 1737.2,2920.8 1724.2,2910.2 1719.2,2907.2 1716.8,2904.8 1715.2,2904.2 1712.8,2901.8 1701.2,2893.8 1699.2,2891.8 1697.8,2891.2 1691.2,2885.8 1686.2,2882.8 1683.8,2880.2 1668.8,2869.8 1666.2,2867.2 1661.2,2864.2 1658.8,2861.8 1653.8,2858.8 1651.2,2856.2 1649.8,2855.8 1630.2,2840.8 1625.2,2837.8 1622.8,2835.2 1614.2,2829.8 1611.8,2827.2 1606.2,2823.8 1590.8,2811.8 1589.2,2811.2 1583.2,2806.2 1574.8,2800.8 1571.8,2797.8 1563.2,2792.2 1560.8,2789.8 1551.8,2783.8 1536.2,2771.8 1534.8,2771.2 1528.8,2766.2 1520.2,2760.8 1517.8,2758.2 1508.8,2752.2 1506.2,2749.8 1497.2,2743.8 1493.2,2740.2 1491.8,2739.8 1482.2,2732.2 1480.8,2731.8 1474.2,2726.2 1473.2,2726.2 1470.8,2723.8 1465.8,2720.8 1463.2,2718.2 1461.8,2717.8 1435.2,2697.8 1430.2,2694.8 1427.8,2692.2 1419.2,2686.8 1412.8,2681.2 1407.8,2678.2 1405.2,2675.8 1403.8,2675.2 1377.2,2655.2 1372.2,2652.2 1369.8,2649.8 1368.8,2649.8 1366.2,2647.2 1361.2,2644.2 1358.8,2641.8 1353.2,2638.2 1351.2,2636.2 1349.8,2635.8 1347.2,2633.2 1345.8,2632.8 1343.8,2630.8 1301.8,2600.2 1271.2,2598.2 1270.8,2597.8 1260.2,2597.2 1259.8,2596.8 1255.2,2596.8 1254.8,2596.2 1232.8,2594.2 1228.8,2593.2 1225.2,2593.2 1224.8,2592.8 1221.2,2592.8 1220.8,2592.2 1210.8,2591.2 1207.2,2590.2 1204.2,2590.2 1194.8,2588.2 1191.8,2588.2 1188.8,2587.2 1186.2,2587.2 1183.2,2586.2 1180.8,2586.2 1155.8,2581.2 1123.2,2573.2 1095.8,2564.8 1094.2,2564.8 1092.8,2563.8 1089.8,2563.2 1088.2,2562.2 1085.2,2561.8 1074.2,2557.2 1068.8,2555.8 1046.8,2546.8 858.2,2358.8 759.8,2263.8 720.8,2227.2 715.8,2223.2 714.2,2221.2 696.8,2205.8 695.2,2205.2 692.8,2202.8 683.2,2197.2 671.8,2193.8 663.8,2193.8 653.8,2196.8 650.2,2199.2 649.2,2199.2 644.8,2202.8 633.8,2214.2 633.2,2215.8 631.2,2217.8 625.2,2226.8 616.8,2242.2 616.8,2243.2 607.2,2263.2 597.2,2290.8 596.2,2292.2 594.8,2297.8 593.8,2299.2 593.8,2300.8 582.2,2335.2 581.8,2338.8 571.2,2373.8 570.8,2377.2 566.8,2390.2 566.8,2392.2 563.2,2403.2 559.8,2418.8 558.8,2420.8 556.8,2430.2 555.8,2432.2 538.8,2500.2 538.8,2502.2 529.8,2537.8 528.2,2546.8 525.2,2557.8 523.2,2569.2 520.8,2578.8 514.2,2611.2 514.2,2613.8 512.8,2619.2 512.8,2621.8 510.2,2632.8 508.2,2646.8 505.2,2660.8 504.8,2666.2 503.8,2669.2 503.2,2674.8 500.2,2688.8 499.8,2694.2 497.8,2702.2 496.8,2710.2 493.8,2722.8 492.2,2732.2 487.8,2750.8 485.2,2758.2 485.2,2760.2 480.2,2775.2 475.8,2785.8 473.8,2788.8 473.8,2789.8 465.8,2801.8 458.2,2808.8 452.2,2812.8 446.2,2815.8 443.8,2816.2 441.2,2817.8 438.2,2818.2 436.8,2819.2 427.8,2821.2 425.8,2822.2 400.8,2827.2 398.2,2827.2 389.2,2829.2 383.2,2829.8 380.2,2830.8 377.2,2830.8 374.2,2831.8 371.2,2831.8 365.2,2833.2 362.2,2833.2 361.8,2833.8 352.8,2834.8 349.8,2835.8 346.8,2835.8 346.2,2836.2 337.2,2837.2 336.8,2837.8Z"/>
<path fill="#ff0000" fill-rule="evenodd" d="M625.2,2226.8 618.2,2239.2 610.2,2256.2 593.8,2299.2 582.2,2335.2 563.2,2403.2 545.2,2473.8 524.2,2562.2 514.2,2611.2 499.8,2694.2 492.2,2732.2 485.2,2760.2 480.2,2775.2 475.2,2786.8 621.8,2886.8 721.8,2953.2 794.8,3000.2 864.2,3042.8 915.2,3071.2 943.2,3085.2 970.2,3097.2 993.2,3106.2 1016.8,3114.2 1035.2,3100.2 1050.8,3086.2 1066.2,3070.8 1078.8,3056.2 1081.2,3054.2 1110.8,3018.8 1149.8,2969.8 1174.8,2941.8 1198.8,2918.2 1224.2,2897.8 1240.2,2887.8 1254.2,2880.8 1265.2,2876.2 1286.2,2870.2 1304.8,2867.2 1322.8,2866.2 1345.8,2867.2 1365.8,2869.8 1399.2,2876.2 1520.2,2907.8 1587.2,2922.2 1628.8,2929.2 1674.8,2935.2 1722.8,2939.8 1765.8,2942.2 1724.2,2910.2 1719.2,2907.2 1666.2,2867.2 1661.2,2864.2 1658.8,2861.8 1614.2,2829.8 1590.8,2811.8 1574.8,2800.8 1571.8,2797.8 1563.2,2792.2 1536.2,2771.8 1520.2,2760.8 1506.2,2749.8 1480.8,2731.8 1474.2,2726.2 1473.2,2726.2 1470.8,2723.8 1465.8,2720.8 1463.2,2718.2 1419.2,2686.8 1412.8,2681.2 1407.8,2678.2 1405.2,2675.8 1372.2,2652.2 1369.8,2649.8 1368.8,2649.8 1366.2,2647.2 1361.2,2644.2 1358.8,2641.8 1301.8,2600.2 1271.2,2598.2 1232.8,2594.2 1191.8,2588.2 1155.8,2581.2 1123.2,2573.2 1094.2,2564.8 1068.8,2555.8 1046.8,2546.8 894.2,2394.2 816.8,2318.2 702.2,2210.2 692.8,2202.8 683.2,2197.2 671.8,2193.8 663.8,2193.8 654.8,2196.2 644.8,2202.8 635.8,2211.8Z"/>
<path fill="#ff6e00" fill-rule="evenodd" d="M625.2,2226.8 618.2,2239.2 610.2,2256.2 593.8,2299.2 582.2,2335.2 563.2,2403.2 545.2,2473.8 524.2,2562.2 514.2,2611.2 499.8,2694.2 493.2,2726.2 613.2,2807.2 693.8,2859.8 760.2,2901.2 815.8,2933.8 858.2,2956.8 903.8,2979.2 957.2,3002.8 1000.2,3019.2 1046.2,3034.2 1088.2,3045.2 1110.8,3018.8 1125.8,2999.2 1137.8,2985.2 1140.2,2981.2 1159.8,2958.2 1174.8,2941.8 1203.8,2913.8 1224.2,2897.8 1240.2,2887.8 1254.2,2880.8 1265.2,2876.2 1279.8,2871.8 1296.8,2868.2 1310.2,2866.8 1326.8,2866.2 1345.8,2867.2 1365.8,2869.8 1399.2,2876.2 1520.2,2907.8 1587.2,2922.2 1628.8,2929.2 1657.8,2933.2 1704.2,2938.2 1743.8,2940.8 1734.8,2932.2 1707.8,2909.8 1650.2,2865.2 1530.8,2776.2 1291.2,2600.2 1289.2,2599.2 1260.2,2597.2 1221.2,2592.8 1191.8,2588.2 1155.8,2581.2 1123.2,2573.2 1094.2,2564.8 1068.8,2555.8 1046.8,2546.8 894.2,2394.2 816.8,2318.2 702.2,2210.2 692.8,2202.8 683.2,2197.2 671.8,2193.8 663.8,2193.8 654.8,2196.2 644.8,2202.8 635.8,2211.8Z"/>
<path fill="#ff8c00" fill-rule="evenodd" d="M623.8,2229.2 616.8,2242.2 601.8,2277.2 586.8,2320.8 571.2,2373.8 545.2,2473.8 524.2,2562.2 510.2,2632.8 499.2,2694.8 499.8,2697.2 610.8,2771.2 704.8,2831.2 773.2,2872.2 840.8,2909.2 884.8,2931.2 919.2,2947.2 981.8,2973.2 1007.8,2982.8 1046.2,2995.2 1071.2,3002.2 1115.8,3012.2 1149.8,2969.8 1174.8,2941.8 1203.8,2913.8 1224.2,2897.8 1240.2,2887.8 1260.2,2878.2 1279.8,2871.8 1296.8,2868.2 1310.2,2866.8 1326.8,2866.2 1350.8,2867.8 1374.8,2871.2 1409.8,2878.8 1490.2,2900.2 1541.8,2912.8 1587.2,2922.2 1633.8,2929.8 1619.2,2914.2 1596.8,2894.2 1569.2,2871.8 1528.8,2840.2 1414.8,2754.8 1187.2,2587.2 1151.2,2580.2 1114.2,2570.8 1085.2,2561.8 1046.8,2546.8 894.2,2394.2 816.8,2318.2 702.2,2210.2 692.8,2202.8 683.2,2197.2 671.8,2193.8 661.2,2194.2 654.8,2196.2 647.2,2200.8 635.8,2211.8Z"/>
<path fill="#ffaa00" fill-rule="evenodd" d="M633.8,2214.2 625.2,2226.8 618.2,2239.2 605.2,2268.2 593.8,2299.2 573.8,2364.8 555.8,2432.2 529.8,2537.8 514.2,2611.2 504.8,2663.8 505.2,2667.8 600.8,2730.8 682.2,2782.2 760.8,2828.8 827.8,2865.2 891.2,2896.8 958.2,2926.2 995.8,2940.8 1032.2,2953.2 1083.8,2967.8 1118.2,2975.2 1142.2,2979.2 1149.8,2969.8 1174.8,2941.8 1193.2,2923.2 1203.8,2913.8 1224.2,2897.8 1240.2,2887.8 1254.2,2880.8 1265.2,2876.2 1279.8,2871.8 1300.2,2867.8 1322.8,2866.2 1339.2,2866.8 1374.8,2871.2 1409.8,2878.8 1490.2,2900.2 1549.8,2914.2 1545.2,2906.8 1536.8,2896.2 1518.8,2878.2 1494.8,2857.2 1458.2,2827.8 1331.2,2731.2 1113.2,2570.2 1085.2,2561.8 1046.8,2546.8 894.2,2394.2 816.8,2318.2 751.2,2255.8 696.8,2205.8 687.8,2199.8 679.2,2195.8 671.8,2193.8 663.8,2193.8 654.8,2196.2 649.2,2199.2 644.8,2202.8Z"/>
<path fill="#ffc800" fill-rule="evenodd" d="M635.8,2211.8 623.8,2229.2 610.2,2256.2 593.8,2299.2 582.2,2335.2 563.2,2403.2 529.8,2537.8 514.2,2611.2 509.8,2637.2 591.2,2690.8 674.8,2742.8 751.8,2787.8 825.8,2827.8 900.2,2864.2 957.8,2889.2 1012.2,2909.8 1064.2,2925.8 1092.2,2932.8 1121.2,2938.8 1152.2,2943.8 1171.2,2945.8 1193.2,2923.2 1203.8,2913.8 1224.2,2897.8 1240.2,2887.8 1254.2,2880.8 1269.8,2874.8 1290.8,2869.2 1310.2,2866.8 1339.2,2866.8 1374.8,2871.2 1409.8,2878.8 1478.8,2896.8 1476.8,2888.2 1472.8,2880.2 1466.8,2871.8 1457.8,2861.2 1436.8,2840.8 1396.8,2806.8 1325.8,2751.2 1211.2,2665.2 1055.8,2550.2 1046.8,2546.8 894.2,2394.2 816.8,2318.2 751.2,2255.8 696.8,2205.8 687.8,2199.8 679.2,2195.8 671.8,2193.8 663.8,2193.8 654.8,2196.2 649.2,2199.2Z"/>
<path fill="#ffe600" fill-rule="evenodd" d="M635.8,2211.8 623.8,2229.2 610.2,2256.2 593.8,2299.2 582.2,2335.2 563.2,2403.2 534.8,2516.8 520.8,2578.8 515.2,2607.8 595.2,2659.2 666.2,2702.8 736.8,2743.8 809.2,2783.2 870.8,2814.2 926.2,2839.8 978.8,2861.2 1003.2,2870.2 1038.2,2881.8 1084.2,2894.2 1117.2,2901.2 1160.2,2907.8 1206.8,2911.8 1224.2,2897.8 1240.2,2887.8 1254.2,2880.8 1265.2,2876.2 1279.8,2871.8 1296.8,2868.2 1322.8,2866.2 1345.8,2867.2 1374.8,2871.2 1399.2,2876.2 1407.8,2878.8 1410.8,2878.8 1414.2,2871.8 1414.8,2863.8 1412.8,2856.2 1410.2,2850.8 1405.2,2842.8 1394.8,2829.8 1372.8,2807.8 1330.2,2771.2 1270.8,2724.2 1173.8,2650.8 1091.2,2589.8 1026.2,2526.8 894.2,2394.2 836.8,2337.8 759.8,2263.8 702.2,2210.2 692.8,2202.8 683.2,2197.2 671.8,2193.8 663.8,2193.8 654.8,2196.2 649.2,2199.2Z"/>
<path fill="#ffff00" fill-rule="evenodd" d="M635.8,2211.8 623.8,2229.2 610.2,2256.2 596.2,2292.2 586.8,2320.8 571.2,2373.8 548.2,2461.8 529.8,2537.8 521.2,2576.8 521.8,2578.8 606.2,2631.8 678.8,2675.2 732.8,2706.2 809.2,2747.8 874.2,2780.2 925.8,2803.8 974.8,2823.8 1029.2,2842.8 1054.8,2850.2 1082.2,2857.2 1116.2,2864.2 1162.8,2870.8 1212.8,2873.8 1258.8,2872.8 1299.8,2868.2 1301.8,2867.2 1306.8,2866.8 1321.2,2863.2 1335.8,2858.2 1348.2,2851.2 1354.2,2845.2 1357.2,2839.8 1358.2,2830.8 1356.2,2822.8 1353.2,2816.2 1348.2,2808.2 1341.2,2799.2 1318.8,2775.8 1297.8,2756.8 1261.2,2726.2 1185.2,2666.8 1129.2,2624.8 1070.2,2569.8 1026.2,2526.8 894.2,2394.2 816.8,2318.2 759.8,2263.8 702.2,2210.2 692.8,2202.8 683.2,2197.2 671.8,2193.8 663.8,2193.8 654.8,2196.2 649.2,2199.2Z"/>
<path fill="#c8ff00" fill-rule="evenodd" d="M635.8,2211.8 623.8,2229.2 610.2,2256.2 596.2,2292.2 586.8,2320.8 571.2,2373.8 548.2,2461.8 527.8,2547.2 528.8,2549.2 594.8,2590.2 668.2,2634.2 733.8,2671.8 789.8,2702.2 847.2,2731.8 897.8,2755.8 948.8,2777.8 996.2,2795.8 1038.2,2809.2 1085.2,2821.2 1130.2,2829.2 1151.2,2831.8 1178.2,2833.8 1222.2,2833.8 1241.2,2832.2 1258.8,2829.8 1272.2,2826.8 1286.8,2821.8 1297.2,2815.8 1302.8,2810.2 1306.2,2803.2 1306.8,2795.2 1304.2,2786.2 1300.8,2779.2 1296.2,2772.2 1286.2,2759.8 1263.2,2736.2 1239.2,2714.8 1208.2,2688.8 1146.8,2640.2 1099.8,2597.8 1026.2,2526.8 894.2,2394.2 816.8,2318.2 759.8,2263.8 702.2,2210.2 692.8,2202.8 683.2,2197.2 671.8,2193.8 663.8,2193.8 654.8,2196.2 649.2,2199.2Z"/>
<path fill="#00ff00" fill-rule="evenodd" d="M635.8,2211.8 625.2,2226.8 616.8,2242.2 607.2,2263.2 593.8,2299.2 582.2,2335.2 563.2,2403.2 545.2,2473.8 534.8,2518.8 597.2,2557.2 674.8,2603.2 741.8,2641.2 792.8,2668.8 848.8,2697.2 894.2,2718.8 941.8,2739.2 986.2,2756.2 1024.2,2768.8 1067.2,2780.2 1108.8,2788.2 1148.8,2792.8 1190.8,2793.2 1215.2,2790.8 1229.2,2787.8 1240.8,2783.8 1248.8,2779.2 1254.8,2773.8 1257.8,2768.2 1258.8,2764.2 1258.2,2755.8 1256.2,2749.8 1252.2,2741.8 1247.2,2734.2 1231.2,2715.2 1215.8,2699.8 1197.8,2683.2 1134.8,2629.8 1081.8,2580.8 1026.2,2526.8 894.2,2394.2 836.8,2337.8 759.8,2263.8 702.2,2210.2 692.8,2202.8 683.2,2197.2 671.8,2193.8 663.8,2193.8 654.8,2196.2 649.2,2199.2Z"/>
<path fill="#00ffaa" fill-rule="evenodd" d="M635.8,2211.8 625.2,2226.8 616.8,2242.2 607.2,2263.2 593.8,2299.2 582.2,2335.2 563.2,2403.2 542.2,2486.2 542.8,2489.2 588.2,2517.2 668.2,2564.8 721.8,2595.2 775.8,2624.8 807.2,2641.2 871.2,2672.8 921.8,2695.2 961.8,2711.2 1000.2,2724.8 1035.8,2735.2 1074.8,2744.2 1116.2,2750.2 1149.8,2751.8 1175.2,2749.8 1189.2,2746.8 1196.2,2744.2 1203.8,2740.2 1208.8,2735.8 1212.2,2729.8 1213.2,2724.2 1212.8,2718.8 1210.8,2712.2 1206.2,2703.2 1199.8,2693.8 1184.2,2675.8 1160.8,2652.8 1113.8,2610.8 1070.2,2569.8 1026.2,2526.8 858.2,2358.8 789.8,2292.2 702.2,2210.2 692.8,2202.8 683.2,2197.2 671.8,2193.8 663.8,2193.8 654.8,2196.2 649.2,2199.2Z"/>
<path fill="#00ffff" fill-rule="evenodd" d="M635.8,2211.8 625.2,2226.8 616.8,2242.2 607.2,2263.2 593.8,2299.2 573.8,2364.8 549.2,2458.8 619.2,2501.2 671.2,2531.8 733.2,2566.8 776.8,2590.2 864.8,2634.2 917.8,2657.8 951.8,2671.2 987.2,2683.8 1020.8,2693.8 1060.2,2702.8 1087.2,2706.8 1106.8,2708.2 1123.2,2708.2 1138.2,2706.8 1153.2,2702.8 1160.8,2698.8 1165.8,2693.8 1168.2,2688.2 1168.8,2682.2 1166.8,2673.8 1163.2,2666.2 1158.2,2658.2 1149.8,2647.2 1131.8,2627.8 1070.2,2569.8 1026.2,2526.8 894.2,2394.2 816.8,2318.2 759.8,2263.8 702.2,2210.2 692.8,2202.8 683.2,2197.2 671.8,2193.8 663.8,2193.8 654.8,2196.2 649.2,2199.2Z"/>
<path fill="#00e1ff" fill-rule="evenodd" d="M635.8,2211.8 625.2,2226.8 616.8,2242.2 607.2,2263.2 593.8,2299.2 582.2,2335.2 566.8,2390.2 566.8,2392.2 557.2,2426.8 557.2,2428.8 665.8,2493.8 723.2,2526.2 773.2,2553.2 825.2,2579.8 859.8,2596.2 889.8,2609.8 929.8,2626.2 955.2,2635.8 995.8,2648.8 1027.8,2656.8 1053.8,2661.2 1076.8,2663.2 1098.2,2662.2 1111.8,2658.8 1115.8,2656.8 1120.8,2652.8 1124.2,2645.8 1124.2,2637.8 1122.2,2631.2 1118.2,2623.2 1112.2,2614.2 1094.2,2593.2 1026.2,2526.8 858.2,2358.8 789.8,2292.2 702.2,2210.2 692.8,2202.8 683.2,2197.2 671.8,2193.8 663.8,2193.8 654.8,2196.2 649.2,2199.2Z"/>
<path fill="#00c8ff" fill-rule="evenodd" d="M635.8,2211.8 625.2,2226.8 618.2,2239.2 610.2,2256.2 601.8,2277.2 593.8,2299.2 582.2,2335.2 564.8,2397.8 565.2,2399.2 662.2,2456.8 744.8,2502.8 822.8,2542.8 862.2,2561.2 895.8,2575.8 930.2,2589.2 954.8,2597.8 987.2,2607.2 1012.2,2612.8 1035.2,2615.8 1055.2,2615.8 1068.8,2612.8 1072.8,2610.8 1077.2,2606.8 1079.8,2601.2 1079.8,2594.8 1078.2,2589.2 1074.8,2581.8 1065.2,2567.8 1046.8,2546.8 858.2,2358.8 789.8,2292.2 702.2,2210.2 692.8,2202.8 683.2,2197.2 671.8,2193.8 663.8,2193.8 654.8,2196.2 649.2,2199.2Z"/>
<path fill="#00afff" fill-rule="evenodd" d="M635.8,2211.8 625.2,2226.8 618.2,2239.2 605.2,2268.2 593.8,2299.2 582.2,2335.2 573.2,2366.8 573.2,2368.8 648.8,2413.8 742.2,2465.8 819.2,2504.8 879.8,2531.8 909.2,2543.2 932.2,2551.2 955.8,2558.2 980.2,2563.8 999.2,2566.2 1012.8,2566.2 1019.8,2565.2 1025.8,2563.2 1031.8,2558.2 1033.2,2555.2 1033.8,2549.8 1031.8,2542.2 1029.2,2536.8 1020.2,2523.2 1004.8,2505.2 894.2,2394.2 836.8,2337.8 759.8,2263.8 702.2,2210.2 692.8,2202.8 683.2,2197.2 671.8,2193.8 663.8,2193.8 654.8,2196.2 649.2,2199.2Z"/>
<path fill="#0096ff" fill-rule="evenodd" d="M635.8,2211.8 623.8,2229.2 616.8,2242.2 607.2,2263.2 593.8,2299.2 582.2,2335.2 582.2,2339.2 668.2,2389.2 731.2,2423.8 794.2,2455.8 849.2,2480.8 888.8,2496.2 909.8,2503.2 933.8,2509.8 954.8,2513.2 970.8,2513.2 976.8,2511.8 982.2,2508.2 984.2,2504.8 984.8,2499.2 983.8,2494.8 979.8,2486.2 972.2,2475.2 955.8,2456.2 894.2,2394.2 816.8,2318.2 759.8,2263.8 702.2,2210.2 692.8,2202.8 683.2,2197.2 671.8,2193.8 663.8,2193.8 654.8,2196.2 649.2,2199.2Z"/>
<path fill="#0080ff" fill-rule="evenodd" d="M635.8,2211.8 623.8,2229.2 612.8,2250.8 601.8,2277.2 593.8,2299.2 591.2,2308.8 649.2,2342.2 710.2,2375.8 772.2,2407.2 818.2,2428.2 857.8,2443.8 876.2,2449.8 893.8,2454.2 909.8,2456.8 919.2,2456.8 926.8,2454.8 930.2,2451.8 931.8,2447.2 931.2,2442.8 925.2,2430.2 916.2,2418.2 897.2,2397.2 789.8,2292.2 720.8,2227.2 696.8,2205.8 687.8,2199.8 679.2,2195.8 671.8,2193.8 663.8,2193.8 654.8,2196.2 649.2,2199.2Z"/>
<path fill="#0000ff" fill-rule="evenodd" d="M633.8,2214.2 625.2,2226.8 616.8,2242.2 601.8,2277.2 602.8,2278.8 652.2,2306.8 699.8,2332.2 746.8,2355.8 789.2,2374.8 825.8,2388.2 847.2,2393.8 854.2,2394.8 863.2,2394.8 869.2,2392.8 871.8,2390.2 872.2,2384.2 868.2,2374.8 856.8,2359.2 836.8,2337.8 751.2,2255.8 702.2,2210.2 692.8,2202.8 683.2,2197.2 671.8,2193.8 663.8,2193.8 654.8,2196.2 649.2,2199.2 644.8,2202.8Z"/>
<path fill="#8c00ff" fill-rule="evenodd" d="M614.8,2246.8 616.2,2248.2 650.2,2266.8 699.2,2291.8 730.8,2306.2 752.8,2315.2 771.8,2321.8 786.2,2325.2 797.8,2325.8 801.8,2324.2 803.8,2322.2 804.2,2317.8 800.8,2309.2 793.2,2298.8 780.8,2284.8 759.8,2263.8 702.2,2210.2 692.8,2202.8 683.2,2197.2 671.8,2193.8 663.8,2193.8 654.8,2196.2 649.2,2199.2 644.8,2202.8 633.8,2214.2 623.8,2229.2Z"/>
<path fill="#a500ff" fill-rule="evenodd" d="M633.2,2215.2 642.2,2220.2 671.8,2233.8 700.2,2244.2 711.8,2246.8 718.2,2246.8 721.2,2245.8 722.8,2243.8 722.8,2239.2 720.2,2233.8 714.2,2225.2 702.2,2211.8 692.8,2202.8 683.2,2197.2 671.8,2193.8 663.8,2193.8 654.8,2196.2 644.8,2202.8 635.8,2211.8Z"/>
<path fill="none" stroke="#b0b0b0" stroke-opacity="0.55" stroke-width="1.35" d="M781.5,3180.2 317.3,2840.4M791.9,3178.5 327.7,2838.7M802.2,3176.9 338,2837.1M812.6,3175.2 348.4,2835.4M822.9,3173.6 358.7,2833.7M833.3,3171.9 369.1,2832.1M843.7,3170.3 379.5,2830.3M854,3168.6 389.8,2828.6M864.4,3167 400.2,2826.8M874.7,3165.3 410.5,2824.9M885.1,3163.6 420.9,2822.8M895.5,3162 431.3,2820.2M905.8,3160.2 673.7,2989.2 441.6,2817M916.2,3158.5 684.1,2986.4 452,2812.2M926.5,3156.6 809.3,3069.2 694.4,2982.5 579.6,2894.9 462.3,2804.4M936.9,3154.4 820.8,3066.4 706,2977.3 589.9,2885.4 472.7,2790.5M947.3,3151.8 890.4,3107.7 833.5,3062.7 776.7,3016.8 718.6,2969 602.6,2870.5 483.1,2765.4M957.6,3148.3 904.2,3105 849.7,3059.1 795.2,3011.6 738.3,2960.5 681.4,2907.9 623.4,2852.6 563,2793.8 500.4,2731.1M968,3143.8 930.8,3111.7 893.7,3078.3 855.4,3042.6 816,3004.5 776.5,2965.2 734.7,2922.4 691.8,2877.2 647.7,2829.7M978.3,3138.2 951.6,3113.4 925,3087.5 869.3,3030.5 810.1,2966.2 745.1,2891.9M988.7,3132.1 948.1,3090.4 905.1,3043.2 859.9,2990.5 811.1,2930.9M999.1,3125.7 967.7,3091.1 934.1,3051.6 898.1,3006.9 859.8,2957.2M1009.4,3118.9 983.9,3088.6 957.2,3055.1 929.3,3018.4 898,2975.4M1019.8,3111.6 998.9,3085 978,3057 956,3026.2 931.6,2990.8M1030.1,3103.6 997.6,3058.2 961.7,3003.9M1040.5,3094.9 1015,3056.6 988.3,3014M1050.9,3085.4 1032.3,3055.5 1012.6,3022.2M1061.2,3075.1 1035.7,3030.3M1071.6,3064.1 1056.5,3036M1081.9,3052.5 1076.1,3041M1745,2940.8 1739.2,2936.3M1755.3,2941.4 1708.9,2906.3 1634.6,2851.3 1291.1,2599.4M1765.7,2941.9 1645,2851.9 1301.5,2600.1M781.5,3180.2 925,3156.9 946.6,3152 963.3,3146 978.3,3138.2 998.4,3126.1 1015,3115 1030.1,3103.7 1043.4,3092.3 1058.4,3077.9 1073.4,3062.1 1088.4,3044.9M1745.7,2940.8 1765.7,2941.9M767,3169.6 905.4,3147.1 927.1,3142.3 935.5,3139.7 943.8,3136.4 955.5,3130.2 968.8,3121.4 988.9,3106.7 1005.5,3093 1018.9,3080.7 1030.6,3068.6 1043.9,3053.4 1057.2,3036.9M1732.8,2929.8 1751.2,2930.8M752.5,3158.9 889.3,3136.7 911,3131.8 926,3126.2 936,3120.8 947.7,3112.5 966,3097.3 982.7,3082.2 994.4,3070.5 1006,3057.6 1017.7,3043.4 1029.4,3027.9M1720,2918.9 1736.7,2919.9M738,3148.3 871.4,3126.6 893.1,3121.7 908.1,3116.2 918.1,3110.6 928.1,3103 939.8,3092.5 956.5,3076.1 969.9,3061.9 981.5,3048.3 991.5,3035.5 1003.2,3019.2M1707.2,2908.2 1722.2,2909M723.5,3137.7 855.3,3116.2 876.9,3111.3 885.3,3108.5 892,3105.5 900.3,3100.7 908.6,3094.2 917,3086.3 927,3075.7 942,3058.8 955.3,3042.7 967,3027.3 978.7,3010.3M1692.7,2897.3 1707.7,2898.2M709,3127.1 839.1,3105.8 860.8,3100.8 869.1,3097.9 875.8,3094.9 884.1,3089.7 890.8,3084.3 897.5,3077.8 905.8,3068.4 934.2,3032.3 945.8,3015.8 955.9,3000.4M1679.8,2886.7 1693.2,2887.5M694.5,3116.5 789.5,3101.2 824.6,3095.1 844.6,3090.4 852.9,3087.4 859.6,3084.3 866.3,3080.2 873,3074.8 879.6,3068 886.3,3060.1 913,3023.1 933,2992.1M1665.3,2875.9 1678.7,2876.8M680,3105.9 775,3090.6 808.4,3084.8 828.4,3079.9 836.8,3077 843.4,3073.8 850.1,3069.5 856.8,3063.8 861.8,3058.6 868.5,3050.3 888.5,3020.5 911.8,2982.4M1650.8,2865.2 1664.2,2866.1M665.5,3095.2 758.9,3080.3 792.2,3074.4 812.2,3069.5 820.6,3066.5 827.3,3063.3 833.9,3058.9 840.6,3053.1 845.6,3047.6 852.3,3038.8 867.3,3014.8 892.3,2970.9M1636.3,2854.5 1649.7,2855.4M650.9,3084.6 741,3070.2 776.1,3064 796.1,3059.2 804.4,3056.1 811.1,3052.9 817.8,3048.4 824.4,3042.4 829.4,3036.7 836.1,3027.4 849.5,3004.6 872.8,2960.4M1623.5,2843.9 1635.1,2844.7M636.4,3074 726.5,3059.5 759.9,3053.7 779.9,3048.8 788.2,3045.8 794.9,3042.5 801.6,3038 806.6,3033.6 813.3,3026 818.3,3018.9 829.9,2998.4 853.3,2951M1609,2833.3 1620.6,2834M621.9,3063.4 710.3,3049.2 743.7,3043.3 763.7,3038.4 772.1,3035.4 778.7,3032.1 785.4,3027.7 790.4,3023.2 797.1,3015.5 802.1,3008.1 813.8,2986.5 833.8,2942.9M1594.5,2822.6 1606.1,2823.4M607.4,3052.8 694.2,3038.8 727.5,3032.9 747.5,3028.1 755.9,3025.1 762.6,3021.8 769.2,3017.4 774.2,3012.9 780.9,3005.1 785.9,2997.5 790.9,2988.6 797.6,2974.8 815.9,2932.1M1579.9,2811.9 1591.6,2812.7M592.9,3042.1 678,3028.5 711.4,3022.6 733,3017.2 739.7,3014.8 746.4,3011.6 753.1,3007.1 759.7,3000.9 764.7,2994.8 769.7,2987.2 774.7,2978 781.4,2963.6 798.1,2922.2M1565.4,2801.3 1577.1,2802M578.4,3031.5 663.5,3017.8 696.9,3011.9 718.5,3006.4 725.2,3003.8 731.9,3000.3 738.6,2995.6 743.6,2990.8 750.2,2982.3 755.2,2974 765.2,2952.6 781.9,2908.8M1550.9,2790.6 1562.6,2791.4M563.9,3020.9 647.3,3007.5 680.7,3001.5 702.4,2996.1 709,2993.5 715.7,2990.1 722.4,2985.4 729.1,2978.8 734.1,2972.2 739.1,2963.9 749.1,2941.9 764.1,2900.5M1536.4,2780 1548.1,2780.8M549.4,3010.3 632.8,2996.9 666.2,2990.9 677.8,2988.2 687.9,2985.2 694.5,2982.5 701.2,2978.9 707.9,2973.9 714.5,2966.8 719.5,2959.7 724.6,2950.8 734.6,2927.2 747.9,2888.1M1521.9,2769.4 1533.6,2770.1M534.9,2999.7 616.6,2986.5 650,2980.5 661.7,2977.9 671.7,2974.9 678.4,2972.3 685,2968.8 691.7,2963.9 698.4,2956.9 703.4,2949.9 708.4,2941 713.4,2930 718.4,2917 730.1,2881.5M1507.4,2758.7 1519.1,2759.5M520.4,2989 600.5,2976.2 633.8,2970.2 655.5,2964.6 662.2,2962 668.9,2958.6 675.5,2953.8 682.2,2947.1 687.2,2940.2 692.2,2931.3 697.2,2920.3 702.2,2907.1 713.9,2870.3M1492.9,2748.1 1504.6,2748.8M505.9,2978.4 586,2965.5 619.3,2959.5 631,2956.8 641,2953.8 647.7,2951.1 654.3,2947.5 661,2942.4 666,2937.2 671,2930.5 676,2921.8 681,2910.8 686,2897.5 697.7,2859.5M1478.4,2737.4 1490.1,2738.2M491.4,2967.8 569.8,2955.2 603.1,2949.2 614.8,2946.5 624.8,2943.5 631.5,2940.9 638.2,2937.4 644.8,2932.5 651.5,2925.4 656.5,2918.3 661.5,2909 666.5,2897.3 671.5,2883.1 681.5,2849.1M1463.9,2726.8 1475.6,2727.6M476.9,2957.2 555.3,2944.5 588.6,2938.5 600.3,2935.7 610.3,2932.7 617,2929.9 623.7,2926.2 630.3,2921 635.3,2915.7 640.3,2908.7 645.4,2899.7 650.4,2888.1 655.4,2874 665.4,2839.2M1449.4,2716.2 1461.1,2716.9M462.4,2946.6 539.1,2934.2 572.5,2928.1 584.1,2925.4 594.1,2922.4 600.8,2919.8 607.5,2916.2 614.2,2911.2 619.2,2906 624.2,2899.3 629.2,2890.4 634.2,2879.1 639.2,2865 649.2,2829.6M1434.9,2705.5 1446.6,2706.3M447.9,2936 524.6,2923.6 558,2917.5 569.6,2914.7 579.6,2911.6 586.3,2908.8 593,2905.1 599.7,2899.8 604.7,2894.4 609.7,2887.2 614.7,2877.8 619.7,2865.8 624.7,2850.9 634.7,2813.7M1420.4,2694.9 1432.1,2695.7M433.4,2925.3 508.4,2913.2 541.8,2907.1 553.5,2904.4 563.5,2901.4 570.1,2898.7 576.8,2895 583.5,2890 590.2,2882.7 595.2,2875.1 600.2,2865.2 608.5,2842.4 618.5,2804.7M1407.5,2684.4 1417.6,2685.1M418.8,2914.7 493.9,2902.6 527.3,2896.5 538.9,2893.7 549,2890.5 555.6,2887.7 562.3,2883.9 569,2878.6 574,2873.1 579,2865.9 584,2856.3 589,2843.9 592.3,2833.9 602.3,2796.2M1393,2673.8 1403,2674.4M404.3,2904.1 477.7,2892.2 511.1,2886.1 531.1,2880.9 539.5,2877.6 546.1,2874 552.8,2868.9 557.8,2863.6 562.8,2856.6 567.8,2847.4 572.8,2835.4 576.2,2825.6 581.2,2808.3 586.2,2787.9M1378.5,2663.2 1388.5,2663.8M389.8,2893.5 463.2,2881.6 496.6,2875.5 516.6,2870.1 525,2866.7 531.6,2862.9 538.3,2857.5 543.3,2852 548.3,2844.7 553.3,2835 558.3,2822.4 561.6,2812.1 566.7,2793.9 571.7,2772.6M1364,2652.5 1374,2653.2M375.3,2882.9 447.1,2871.3 480.4,2865.1 500.4,2859.9 508.8,2856.6 515.4,2852.9 522.1,2847.8 527.1,2842.5 532.1,2835.5 537.1,2826.2 542.1,2814.1 545.5,2804.1 550.5,2786.1 555.5,2764.9M1349.5,2641.9 1359.5,2642.6M360.8,2872.2 434.2,2860.3 465.9,2854.5 485.9,2849.1 494.3,2845.7 500.9,2841.9 507.6,2836.5 512.6,2831 517.6,2823.7 522.6,2813.9 527.6,2801.1 531,2790.7 539.3,2757.4M1335,2631.3 1345,2631.9M346.3,2861.6 418,2850 451.4,2843.8 471.4,2838.3 479.8,2834.8 486.4,2830.8 493.1,2825.2 498.1,2819.5 503.1,2811.8 508.1,2801.6 513.1,2788.1 516.5,2777.2 524.8,2742.5M1320.5,2620.7 1330.5,2621.3M331.8,2851 403.5,2839.4 435.2,2833.5 455.2,2828.1 463.6,2824.7 470.3,2820.9 476.9,2815.6 481.9,2810.1 486.9,2802.8 491.9,2793.1 497,2780.2 500.3,2769.6 508.6,2735.5M1306,2610 1316,2610.7M317.3,2840.4 389,2828.7 420.7,2822.8 440.7,2817.3 449.1,2813.8 455.8,2809.9 462.4,2804.3 467.4,2798.6 472.4,2791 477.4,2780.8 482.4,2767.3 485.8,2756.3 494.1,2720.7M1291.5,2599.4 1301.5,2600.1M774.2,3174.9 886,3157 921,3150.8 934.4,3147.8 944.4,3144.8 952.7,3141.5 962.7,3136.5 982.8,3124 1004.4,3108.8 1021.1,3095.3 1036.1,3081.5 1052.8,3064 1069.5,3044.5 1087.9,3021.3 1112.9,2988.2M1581.6,2915.7 1623.3,2923 1666.7,2928.9 1711.7,2933.3 1758.4,2936.3M759.7,3164.3 868.2,3146.9 903.2,3140.8 924.9,3135.3 933.2,3132 941.6,3127.9 956.6,3118 979.9,3099.8 996.6,3085.2 1011.6,3070.2 1026.6,3053.2 1041.7,3034.2 1058.3,3011.2 1078.4,2981.8M1570.5,2904.2 1612.2,2911.9 1653.9,2917.7 1697.2,2922.2 1743.9,2925.3M745.2,3153.6 850.3,3136.8 885.4,3130.7 907,3125.2 915.4,3122 923.7,3117.7 937.1,3108.3 955.4,3092.3 973.8,3074.8 990.5,3056.7 1003.8,3040.3 1017.1,3022.1 1032.2,2999.7 1048.8,2973.1M1559.3,2893.2 1599.3,2900.7 1641,2906.8 1684.4,2911.3 1729.4,2914.5M730.7,3143 834.2,3126.5 869.2,3120.3 880.9,3117.6 890.9,3114.7 899.2,3111.3 905.9,3107.7 915.9,3100.6 929.2,3088.4 950.9,3065.7 967.6,3046.3 980.9,3028.9 992.6,3012 1006,2991 1021,2965.4M1548.1,2882.4 1586.5,2889.8 1628.2,2895.9 1669.9,2900.4 1714.9,2903.6M716.2,3132.4 819.6,3115.8 853,3109.9 864.7,3107.2 874.7,3104.1 883,3100.6 889.7,3096.9 899.7,3089.2 911.4,3077.5 929.7,3056.1 946.4,3035.1 959.8,3016.5 971.4,2998.5 983.1,2978.9 996.5,2954.8M1535.3,2871.5 1573.6,2879 1613.7,2885 1655.4,2889.6 1700.4,2892.9M701.7,3121.8 801.8,3105.7 835.2,3099.8 846.8,3097.2 856.9,3094.2 865.2,3090.8 871.9,3087.2 881.9,3079.5 891.9,3069.1 905.2,3052.4 923.6,3027.5 936.9,3007.9 948.6,2989.2 960.3,2968.7 972,2946.6M1520.8,2860.4 1559.1,2868 1599.2,2874.1 1640.9,2878.8 1685.9,2882.1M687.2,3111.2 785.6,3095.4 819,3089.4 830.7,3086.8 840.7,3083.8 849,3080.3 855.7,3076.5 864,3070.1 872.4,3061.3 882.4,3048.4 895.7,3029 910.7,3006.1 924.1,2984.2 935.8,2963.3 949.1,2937.2M1507.9,2849.8 1544.6,2857.1 1584.7,2863.3 1626.4,2868 1671.4,2871.4M672.7,3100.5 767.8,3085.3 802.8,3079.1 814.5,3076.4 824.5,3073.4 832.8,3069.8 839.5,3066 847.9,3059.3 854.5,3052.1 862.9,3041 871.2,3028.2 889.6,2998.1 902.9,2975 916.3,2949.9 927.9,2926M1495.1,2839.2 1531.8,2846.6 1571.8,2852.8 1613.5,2857.4 1656.9,2860.7M658.2,3089.9 751.6,3074.9 786.6,3068.7 798.3,3066 808.3,3063 816.7,3059.4 823.3,3055.5 830,3050.2 836.7,3043.1 843.4,3034.3 851.7,3021.1 883.4,2963.9 895.1,2941 906.7,2916.2M1480.6,2828.3 1517.3,2835.8 1557.3,2842 1599,2846.7 1642.4,2850M643.7,3079.3 738.8,3064 772.1,3058 792.2,3052.6 800.5,3049 807.2,3045 813.8,3039.6 820.5,3032.4 827.2,3023.1 833.9,3012.1 863.9,2953.9 885.6,2907.8M1466.1,2817.5 1502.8,2825 1542.8,2831.3 1584.5,2836 1627.9,2839.3M629.2,3068.7 724.3,3053.4 757.6,3047.3 769.3,3044.4 777.6,3041.6 786,3037.8 792.7,3033.5 799.3,3027.6 806,3019.6 811,3012.2 817.7,3000.5 844.4,2945 866.1,2896.7M1453.2,2807 1489.9,2814.5 1528.3,2820.6 1570,2825.3 1613.4,2828.7M614.7,3058.1 708.1,3043 741.5,3036.9 753.1,3034 761.5,3031.3 769.8,3027.4 776.5,3023.1 783.2,3017.2 788.2,3011.3 793.2,3004.2 799.8,2992.5 813.2,2964.1 846.5,2886.7M1438.7,2796.3 1475.4,2803.8 1513.8,2809.9 1555.5,2814.7 1598.9,2818M600.2,3047.4 690.3,3033 725.3,3026.5 737,3023.7 745.3,3020.9 753.6,3017.1 760.3,3012.9 767,3006.9 772,3001 777,2993.7 783.7,2981.6 795.3,2955.5 827,2877.7M1424.2,2785.5 1460.9,2793.1 1499.3,2799.2 1541,2804 1584.4,2807.4M585.7,3036.8 675.7,3022.3 709.1,3016.2 720.8,3013.3 729.1,3010.6 737.5,3006.9 744.1,3002.6 750.8,2996.7 755.8,2990.8 760.8,2983.4 767.5,2971 779.2,2943.7 807.5,2869.8M1409.7,2774.8 1446.4,2782.4 1484.8,2788.5 1526.5,2793.3 1569.9,2796.7M571.2,3026.2 661.2,3011.7 694.6,3005.5 706.3,3002.5 714.6,2999.7 723,2995.7 729.6,2991.2 736.3,2984.8 741.3,2978.4 746.3,2970.4 753,2957 763,2932.1 789.7,2858.5M1395.2,2764.1 1431.9,2771.7 1470.3,2777.8 1512,2782.7 1555.4,2786.1M556.7,3015.6 645.1,3001.3 678.4,2995.1 690.1,2992.2 698.4,2989.4 706.8,2985.5 713.5,2981 720.1,2974.8 725.1,2968.5 731.8,2957.3 736.8,2946.8 746.8,2921 771.8,2848M1382.4,2753.7 1419.1,2761.3 1457.4,2767.4 1497.5,2772 1540.9,2775.4M542.1,3005 628.9,2991 662.3,2984.8 673.9,2981.9 682.3,2979.1 690.6,2975.3 697.3,2970.9 704,2964.8 709,2958.6 715.6,2947.5 720.6,2936.9 730.6,2910.2 754,2838.4M1367.9,2743 1404.6,2750.6 1442.9,2756.7 1483,2761.4 1526.3,2764.8M527.6,2994.4 614.4,2980.4 647.7,2974.1 659.4,2971.1 667.8,2968.2 676.1,2964.2 682.8,2959.5 689.4,2953 694.5,2946.3 701.1,2934.4 706.1,2923.1 716.1,2894.6 736.2,2829.6M1353.4,2732.4 1390.1,2740 1428.4,2746.1 1468.5,2750.7 1511.8,2754.2M513.1,2983.7 598.2,2970 631.6,2963.8 643.2,2960.8 651.6,2958 659.9,2954 666.6,2949.5 673.3,2943.1 678.3,2936.6 685,2924.8 690,2913.5 700,2884.4 720,2816.2M1338.9,2721.7 1375.6,2729.3 1413.9,2735.4 1454,2740.1 1497.3,2743.5M498.6,2973.1 582,2959.6 615.4,2953.4 627.1,2950.5 637.1,2947.1 643.8,2943.9 650.4,2939.5 657.1,2933.3 663.8,2924.4 668.8,2915.4 673.8,2904 683.8,2874.5 702.1,2809.2M1324.4,2711 1361.1,2718.6 1399.4,2724.8 1439.5,2729.5 1482.8,2732.9M484.1,2962.5 567.5,2949 600.9,2942.7 612.6,2939.7 620.9,2936.8 629.2,2932.8 635.9,2928.2 642.6,2921.6 649.3,2912.1 654.3,2902.5 659.3,2890.5 669.3,2859.2 686,2796.9M1309.8,2700.3 1346.5,2708 1384.9,2714.1 1425,2718.8 1468.3,2722.3M469.6,2951.9 553,2938.4 586.4,2932 598.1,2928.9 608.1,2925.2 614.7,2921.7 621.4,2916.8 628.1,2909.9 633.1,2902.7 638.1,2893.3 643.1,2881.4 648.1,2866.9 653.1,2849.9 669.8,2785.2M1295.3,2689.7 1332,2697.3 1370.4,2703.5 1410.4,2708.2 1453.8,2711.6M455.1,2941.3 536.8,2928 570.2,2921.7 581.9,2918.7 591.9,2915 598.6,2911.6 605.2,2906.9 611.9,2900.2 618.6,2890.5 623.6,2880.5 628.6,2867.9 633.6,2852.6 638.6,2834.6 653.6,2773.9M1280.8,2679 1317.5,2686.7 1355.9,2692.9 1395.9,2697.6 1439.3,2701M440.6,2930.6 522.3,2917.4 555.7,2911 567.4,2907.9 577.4,2904.1 584.1,2900.6 590.7,2895.6 597.4,2888.5 602.4,2881.2 607.4,2871.5 612.4,2859.2 617.4,2843.9 622.4,2825.8 637.4,2763M1266.3,2668.4 1303,2676 1341.4,2682.2 1381.4,2686.9 1424.8,2690.4M426.1,2920 506.2,2907.1 539.5,2900.7 551.2,2897.6 561.2,2894 567.9,2890.5 574.6,2885.8 581.2,2879 587.9,2869 592.9,2858.9 597.9,2845.8 602.9,2829.7 607.9,2810.7 621.3,2752.7M1251.8,2657.7 1288.5,2665.4 1326.9,2671.6 1366.9,2676.3 1410.3,2679.7M411.6,2909.4 491.7,2896.4 525,2890 536.7,2886.8 546.7,2883.1 553.4,2879.5 560.1,2874.5 566.7,2867.3 571.7,2859.9 576.7,2850 581.7,2837.3 586.7,2821.4 591.7,2802.5 605.1,2742.8M1237.3,2647.1 1274,2654.8 1312.4,2660.9 1352.4,2665.7 1395.8,2669.1M397.1,2898.8 475.5,2886.1 508.8,2879.7 520.5,2876.6 530.5,2872.9 537.2,2869.5 543.9,2864.7 550.6,2857.8 557.2,2847.8 562.2,2837.4 567.2,2824.1 572.2,2807.4 577.2,2787.5 588.9,2733.4M1222.8,2636.4 1259.5,2644.1 1297.9,2650.3 1337.9,2655 1381.3,2658.5M382.6,2888.2 461,2875.4 494.3,2869 506,2865.8 516,2862 522.7,2858.4 529.4,2853.4 536,2846.2 541.1,2838.7 546.1,2828.8 551.1,2815.8 556.1,2799.5 561.1,2779.7 572.7,2724.5M1208.3,2625.8 1245,2633.5 1283.4,2639.7 1323.4,2644.4 1366.8,2647.9M368.1,2877.5 444.8,2865.1 478.2,2858.7 489.8,2855.6 499.9,2851.9 506.5,2848.4 513.2,2843.7 519.9,2836.8 524.9,2829.6 529.9,2820.1 534.9,2807.6 539.9,2791.7 544.9,2772.1 556.6,2716.1M1193.8,2615.1 1230.5,2622.9 1268.9,2629 1308.9,2633.8 1352.3,2637.2M353.6,2866.9 430.3,2854.5 463.7,2848 475.3,2844.8 485.3,2841 492,2837.4 498.7,2832.4 505.4,2825.3 510.4,2817.7 515.4,2807.7 520.4,2794.6 525.4,2777.9 530.4,2757.5 542.1,2699.4M1179.3,2604.5 1216,2612.2 1254.4,2618.4 1294.4,2623.2 1337.8,2626.6M339.1,2856.3 414.1,2844.1 447.5,2837.7 459.2,2834.6 467.5,2831.6 475.8,2827.5 482.5,2822.7 489.2,2815.8 495.9,2805.8 500.9,2795.4 505.9,2781.6 514.2,2750.3 525.9,2691.7M1164.8,2593.8 1201.5,2601.6 1239.9,2607.8 1279.9,2612.5 1323.3,2616M324.6,2845.7 399.6,2833.5 433,2827 444.7,2823.8 453,2820.8 461.3,2816.5 468,2811.5 474.7,2804.4 479.7,2796.9 484.7,2786.9 489.7,2773.8 494.7,2756.8 499.7,2735.9 509.7,2684.4M1150.3,2583.2 1187,2591 1225.3,2597.2 1265.4,2601.9 1308.8,2605.4"/>
<path fill="none" stroke="#787878" stroke-opacity="0.72" stroke-width="1.35" d="M500.4,2731.1 493.4,2724.1M647.7,2829.7 580.4,2755.4 503.8,2668.8M745.1,2891.9 653.4,2782.4 514.1,2611.6M811.1,2930.9 739.2,2839.5 591.8,2647.6 524.5,2561M859.8,2957.2 799.5,2875.9 632.3,2645.6 582.4,2578.5 534.9,2516M898,2975.4 847,2902.5 727.4,2727.3 669.4,2643.6 606.7,2556.1 545.2,2473.7M931.6,2990.8 879.4,2911.8 755.2,2718.8 698.3,2632.9 662.3,2580.2 626.4,2529 591.6,2480.8 555.6,2432.6M961.7,3003.9 912.9,2926 789.9,2723.5 724.9,2620.5 685.5,2560.7 646,2503.1 606.6,2447.7 565.9,2393M988.3,3014 943,2937.5 821.2,2725.3 784,2662.9 749.2,2606.3 706.3,2539.2 663.3,2475.4 620.4,2414.7 576.3,2355.5M1012.6,3022.2 971.9,2949.9 888.4,2795.4 850.1,2725.9 810.6,2656.5 773.5,2593.9 728.2,2521.5 681.8,2451.5 635.4,2385.8 586.7,2320.9M1035.7,3030.3 997.4,2958.6 916.2,2800.2 877.9,2727.1 836.1,2650.5 795.5,2580 772.3,2541.5 747.9,2502.5 724.7,2466.6 700.3,2430.3 675.9,2395.2 650.4,2359.8 623.7,2324.2 597,2289.8M1056.5,3036 1022.8,2969.8 942.8,2805.5 903.3,2726.7 859.2,2642.9 817.4,2568.5 793.1,2527.4 768.7,2488 743.2,2448.4 717.6,2410.4 690.9,2372.3 664.2,2335.8 636.4,2299.3 607.4,2262.7M1076.1,3041 1046,2978.8 968.2,2811.5 927.6,2726.8 883.5,2640.2 861.4,2599.2 839.4,2559.9 813.9,2516.3 788.3,2474.7 761.6,2433.4 735,2393.9 707.1,2354.7 678.1,2315.8 647.9,2277.1 617.7,2240M1092.3,3040.3 1062.1,2974.8 986.7,2805.1 950.7,2727.3 927.5,2679.5 904.3,2633.6 882.2,2591.9 859,2550.1 833.5,2506.3 806.8,2462.9 780.1,2421.8 752.3,2381.2 723.3,2341 693.1,2301.3 661.8,2262.1 628.1,2222M1102.7,3027.7 1078.3,2971.9 1012.1,2816.6 971.5,2725.7 948.3,2676.6 925.1,2629.8 901.9,2585.4 878.7,2543.3 852,2497.6 825.3,2454.5 797.4,2412.2 768.4,2370.5 738.3,2329.7 706.9,2289.5 673.3,2248.7 638.5,2208.5M1113,3014.9 1034.1,2823 1012.1,2771.2 991.2,2724 966.8,2671.6 943.6,2624.3 920.4,2579.7 896,2535.6 869.3,2490.3 842.6,2447.8 814.8,2406.1 784.6,2363.7 753.3,2322.4 720.8,2281.9 686,2240.9 648.8,2199.4M1123.4,3002 1052.6,2823.4 1030.5,2770.3 1008.5,2719.6 985.3,2669.1 962.1,2621.6 937.7,2574.8 913.3,2531 886.6,2486.2 858.8,2442.7 829.8,2400.3 799.6,2359.1 767.1,2317.5 733.5,2276.9 697.5,2235.9 659.2,2194.6M1133.7,2989.1 1071.1,2826 1047.9,2768.9 1025.8,2717.5 1002.6,2666.7 979.4,2619.2 955,2572.7 930.7,2529.4 904,2485.3 876.1,2442.6 847.1,2401.2 815.8,2359.5 782.1,2317.6 747.3,2277 710.2,2236 669.5,2193.6M1144.1,2976.4 1109.3,2882.4 1086.1,2821.7 1064,2766.8 1042,2715.1 1018.8,2664.2 995.6,2617 971.2,2571.1 946.8,2528.6 920.1,2485.5 892.3,2443.9 862.1,2402.1 830.8,2361.6 797.1,2321 761.1,2280.3 721.7,2238.2 679.9,2196M1154.5,2964.1 1124.3,2880.7 1101.1,2819 1079,2763.7 1058.1,2714.7 1034.9,2664.1 1011.7,2617.4 987.3,2572.2 963,2530.6 936.3,2488.5 908.4,2448 878.3,2407.3 845.8,2366.6 811,2326 773.8,2285.3 734.4,2244.6 690.3,2201.3M1164.8,2952.3 1138.1,2877.1 1116.1,2818 1094,2762.5 1073.1,2713.6 1051.1,2666 1027.9,2619.9 1004.7,2577.6 979.1,2534.8 952.4,2493.9 923.4,2452.9 893.3,2413.5 860.8,2374.1 826,2334.8 787.7,2294.1 745.9,2252.2 700.6,2209.2M1175.2,2941 1152,2874.8 1131.1,2818.4 1110.2,2765.7 1090.5,2719.6 1069.6,2674.5 1047.5,2630.9 1025.5,2590.9 1001.1,2550.4 975.6,2511.4 948.9,2473.9 919.9,2436.2 888.5,2398.4 854.9,2360.6 817.7,2321.4 778.3,2282 735.4,2241.3M733,2239.2 729.5,2236M1185.5,2930.4 1164.7,2870.5 1146.1,2820.2 1127.5,2773.2 1108.9,2729.7 1089.2,2687.1 1069.5,2647.9 1048.6,2609.8 1027.7,2574.8 1004.5,2538.9 980.1,2504.2 954.6,2470.4 926.7,2436.2 897.7,2402.8 865.2,2367.7 830.4,2332.2 792.1,2295.1M1195.9,2920.5 1177.3,2867.2 1161.1,2823.3 1144.8,2782.1 1127.4,2741.2 1110,2703.4 1092.6,2668.5 1074,2634.2 1054.3,2600.5 1033.4,2567.7 1011.4,2535.6 988.2,2504.4 963.8,2473.7 937.1,2442.4 909.3,2411.6 879.1,2380 846.6,2347.8M844.3,2345.5 843.1,2344.4M840.8,2342.2 838.5,2339.9M1206.3,2911.4 1190,2865 1174.9,2824.4 1159.8,2786.5 1144.8,2751.2 1129.7,2718.4 1113.4,2685.7 1096,2653.4 1078.6,2623.5 1060,2594 1040.3,2564.9 1019.4,2536.2 997.4,2508 974.2,2480.1 948.6,2451.3 921.9,2422.8 892.9,2393.4M1216.6,2903.2 1202.7,2863.7 1188.8,2826.6 1174.8,2791.9 1160.9,2759.6 1145.8,2727.2 1130.7,2697.1 1115.7,2669.3 1099.4,2641.5 1082,2613.9 1064.6,2588.2 1046,2562.6 1025.1,2535.7 1003.1,2509.1 979.9,2482.7 955.5,2456.5 928.8,2429.2M926.5,2426.9 919.5,2420M1227,2895.9 1214.2,2860.2 1201.4,2826.7 1188.7,2795.4 1175.9,2766.3 1162,2736.7 1148.1,2709.3 1134.1,2683.9 1119.1,2658.2 1102.8,2632.6 1086.6,2608.7 1069.2,2584.8 1050.6,2560.8 1030.9,2536.9 1010,2513 987.9,2489.1 964.7,2465.2M962.4,2462.8 961.2,2461.7M958.9,2459.3 956.6,2457M1237.3,2889.4 1214.1,2827.7 1202.5,2799.8 1189.8,2771.2 1177,2744.6 1164.2,2719.9 1150.3,2694.9 1136.4,2671.7 1121.3,2648.2 1106.2,2626.3 1088.8,2602.6 1071.4,2580.4 1052.8,2558.2 1033.1,2535.8 1012.2,2513.3 989,2489.5M1247.7,2883.8 1225.7,2826.7 1214,2799.5 1202.4,2774.3 1190.8,2750.9 1178.1,2726.8 1165.3,2704.5 1151.4,2681.8 1136.3,2659 1121.2,2637.7 1105,2616.2 1088.7,2595.9 1070.1,2574.1 1051.6,2553.5 1009.8,2510.3M1258.1,2879 1237.2,2826.4 1226.7,2802.7 1215.1,2778.2 1203.5,2755.5 1190.8,2732.3 1178,2710.7 1165.2,2690.6 1151.3,2670.2 1136.2,2649.4 1121.1,2629.9 1104.9,2610.2 1087.5,2590.2 1068.9,2569.9 1028.3,2528.6M1268.4,2875.1 1248.7,2827 1227.8,2782.7 1205.8,2742.2 1194.1,2723 1181.4,2703.3 1154.7,2665.9 1124.5,2628.6 1090.9,2591.2 1051.4,2551.4M1278.8,2871.9 1260.2,2828.2 1240.5,2787.7 1218.4,2748.5 1195.2,2712.6 1168.5,2676.4 1139.5,2641.4 1107,2606.2 1069.9,2569.3M1289.1,2869.5 1271.7,2829.9 1253.2,2793.1 1232.3,2757.1 1210.2,2723.8 1185.9,2691.3 1158,2658.2 1126.7,2624.6 1091.9,2590.3M1299.5,2867.8 1282.1,2829.9 1264.7,2796.8 1245,2764 1222.9,2731.8 1198.5,2700.4 1171.8,2669.6 1140.5,2636.8 1105.7,2603.2M1102.2,2600 1101.1,2598.9M1309.9,2866.7 1293.6,2832.7 1276.2,2800.9 1257.6,2771.1 1236.7,2741.6 1213.5,2712.4 1188,2683.4 1159,2653.5 1126.5,2622.4M1124.2,2620.2 1119.5,2616M1320.2,2866.3 1305.1,2835.9 1287.7,2805.3 1269.2,2776.7 1249.4,2749.7 1227.4,2722.8 1201.8,2694.6 1172.8,2665.2 1140.3,2634.8M1138,2632.7 1135.7,2630.6M1330.6,2866.3 1315.5,2837.3 1298.1,2808.1 1279.5,2780.8 1258.6,2753.6 1235.4,2726.6 1209.9,2699.6 1180.9,2671.3 1147.2,2640.7M1144.9,2638.6 1143.7,2637.6M1140.3,2634.5 1139.1,2633.5M1340.9,2866.9 1325.9,2839.2 1308.4,2811.3 1289.9,2785.2 1269,2759.2 1245.8,2733.1 1219.1,2705.9 1188.9,2677.3 1154.1,2646.5M1351.3,2867.8 1336.2,2841.4 1320,2816.5 1301.4,2791.3 1280.5,2766.1 1257.3,2740.9 1230.6,2714.3 1200.4,2686.4 1166.8,2657.1M1164.5,2655.1 1163.3,2654.2M1161,2652.2 1159.8,2651.2M1361.7,2869.2 1346.6,2843.9 1330.3,2820.1 1311.8,2796 1290.9,2771.8 1267.7,2747.4 1241,2721.5 1210.8,2694.3 1174.8,2663.5M1172.5,2661.6 1171.3,2660.6M1169,2658.7 1167.9,2657.7M1372,2870.8 1356.9,2846.7 1339.5,2822.4 1319.8,2798.1 1297.7,2773.8 1273.4,2749.3 1244.4,2722.3 1210.7,2693 1172.4,2661.2M1170.1,2659.3 1168.9,2658.4M1382.4,2872.7 1366.1,2848.1 1348.7,2825 1329,2801.7 1306.9,2778.3 1281.4,2753.5 1251.2,2726.3 1216.4,2696.6 1175.8,2663.5M1173.5,2661.7 1168.8,2658M1166.5,2656.1 1165.4,2655.2M1392.7,2874.9 1375.3,2849.7 1355.6,2825 1333.6,2800.5 1308,2775 1277.9,2747.3 1243,2717.4 1201.3,2683.2 1150.2,2643M1403.1,2877.2 1385.7,2853.1 1366,2829.3 1342.8,2804.4 1316.1,2778.6 1284.7,2750.6 1246.4,2718.5 1201.2,2682.2 1146.6,2639.8M1413.5,2879.7 1396.1,2856.5 1375.2,2832.3 1350.8,2807.2 1322.9,2781.2 1289.3,2752 1249.8,2719.5 1201.1,2681 1141.9,2635.6M1423.8,2882.3 1405.3,2858.6 1384.4,2835.4 1360,2811.1 1329.8,2783.7 1295,2754.2 1252.1,2719.5 1198.7,2677.9 1133.7,2628.5M1434.2,2885 1415.6,2862.2 1393.6,2838.5 1368,2813.9 1336.7,2786.2 1299.6,2755.3 1254.3,2719.4 1197.4,2675.6 1126.6,2622.1M1444.5,2887.7 1424.8,2864.4 1402.8,2841.6 1376.1,2816.6 1343.6,2788.5 1304.1,2756.3 1255.4,2718.1 1195,2672.1 1117.3,2613.8M1454.9,2890.4 1435.2,2868 1412,2844.6 1384.1,2819.3 1349.3,2789.8 1307.5,2756.3 1256.5,2716.7 1107.9,2605.2M1465.3,2893.2 1445.5,2871.5 1421.2,2847.6 1392.1,2821.8 1356.2,2791.9 1312.1,2757 1257.5,2715.1 1097.4,2595.5M1475.6,2895.9 1454.7,2873.7 1430.4,2850.5 1400.2,2824.3 1363.1,2793.9 1316.6,2757.6 1258.6,2713.4 1086.9,2585.5M1486,2898.7 1465.1,2877 1439.6,2853.3 1408.2,2826.6 1369.9,2795.7 1322.3,2758.8 1260.8,2712.2 1074,2573.6M1496.3,2901.3 1475.5,2880.3 1448.8,2856 1417.4,2829.7 1376.8,2797.3 1326.9,2758.9 1260.8,2709.1 1062.3,2562.3M1506.7,2904 1484.7,2882.3 1458,2858.6 1425.5,2831.7 1383.7,2798.8 1261.8,2706.7 1048.3,2549M1517.1,2906.5 1495,2885.4 1468.3,2862.1 1434.7,2834.6 1392.9,2801.9 1271,2710.1 1052.9,2549.1M1527.4,2909 1505.4,2888.3 1478.7,2865.4 1445,2838.1 1403.2,2805.6 1281.4,2714.1 1063.2,2553.3M1537.8,2911.4 1515.7,2891.2 1489,2868.5 1455.4,2841.5 1413.6,2809.2 1291.8,2717.9 1073.6,2557.2M1548.1,2913.8 1527.3,2894.9 1500.6,2872.4 1466.9,2845.6 1425.1,2813.5 1303.3,2722.3 1083.9,2560.8M1558.5,2916 1537.6,2897.4 1510.9,2875.3 1477.3,2848.6 1435.5,2816.6 1312.5,2724.8 1094.3,2564.3M1568.9,2918.2 1548,2899.9 1521.3,2877.9 1445.8,2819.6 1322.8,2728 1104.7,2567.5M1579.2,2920.2 1558.3,2902.2 1531.6,2880.5 1457.4,2823.3 1334.4,2731.8 1115,2570.6M1589.6,2922.2 1568.7,2904.4 1542,2882.9 1467.7,2826 1345.9,2735.5 1125.4,2573.4M1599.9,2924.1 1579.1,2906.5 1552.4,2885.1 1478.1,2828.5 1356.2,2738.1 1135.7,2576.1M1610.3,2925.8 1589.4,2908.5 1562.7,2887.3 1488.4,2830.8 1364.3,2738.8 1146.1,2578.6M1620.7,2927.5 1574.2,2890.2 1500,2833.9 1375.8,2742 1156.5,2580.9M1631,2929.1 1583.4,2891.2 1509.2,2835.1 1166.8,2583.1M1641.4,2930.6 1593.8,2892.9 1520.7,2837.8 1177.2,2585.2M1651.7,2932 1604.2,2894.6 1529.9,2838.8 1187.5,2587M1662.1,2933.3 1615.7,2897 1541.4,2841.3 1197.9,2588.8M1672.5,2934.5 1626,2898.4 1550.6,2841.9 1208.3,2590.4M1682.8,2935.7 1636.4,2899.7 1562.1,2844.2 1218.6,2591.9M1693.2,2936.7 1645.6,2900.1 1571.3,2844.7 1229,2593.3M1703.5,2937.7 1657.1,2902 1582.8,2846.7 1239.3,2594.6M1713.9,2938.6 1667.5,2903.1 1592,2847 1249.7,2595.7M1724.3,2939.4 1677.8,2904 1604.7,2849.7 1260.1,2596.8M1734.6,2940.1 1687,2904 1612.8,2848.9 1270.4,2597.7M1739.2,2936.3 1616.2,2844.6 1280.8,2598.6M1088.4,3044.9 1141.8,2979.2 1160.2,2957.5 1181.9,2934.1 1203.5,2913.7 1215.2,2904.3 1226.9,2895.9 1236.9,2889.6 1248.6,2883.3 1260.3,2878.1 1271.9,2873.9 1283.6,2870.7 1295.3,2868.4 1312,2866.6 1328.6,2866.3 1347,2867.4 1367,2870 1387,2873.7 1412.1,2879.3 1530.5,2909.8 1587.2,2921.8 1625.6,2928.3 1663.9,2933.5 1704,2937.7 1745.7,2940.8M1057.2,3036.9 1073.9,3014.6 1115.6,2956.1 1134,2931.4 1154,2906.8 1174,2885.5 1185.7,2874.9 1195.7,2866.8 1205.7,2859.7 1215.7,2853.6 1225.7,2848.5 1237.4,2843.8 1249.1,2840.2 1260.8,2837.8 1277.4,2836 1295.8,2836.2 1315.8,2838.3 1337.5,2842.5 1375.9,2852.9 1457.6,2879.1 1497.6,2891 1539.3,2901.9 1581,2910.9 1617.7,2917.4 1654.4,2922.6 1692.8,2926.7 1732.8,2929.8M1029.4,3027.9 1051.1,2996.3 1092.8,2931 1109.5,2906 1127.8,2880.8 1146.2,2858.8 1157.8,2846.8 1167.9,2837.8 1177.9,2830.1 1187.9,2823.5 1197.9,2818 1209.6,2813 1219.6,2809.9 1231.2,2807.5 1247.9,2806.1 1264.6,2806.7 1283,2809.3 1304.6,2814.5 1339.7,2825.8 1421.4,2856.7 1461.4,2870.7 1504.8,2884 1548.2,2895 1588.2,2903.2 1629.9,2909.9 1673.3,2915.1 1720,2918.9M1003.2,3019.2 1014.9,3001.6 1028.2,2980 1071.6,2905.5 1088.3,2878.1 1105,2853.1 1121.7,2831.3 1131.7,2819.9 1141.7,2810 1151.7,2801.4 1161.7,2794.3 1171.7,2788.4 1181.7,2783.9 1191.7,2780.6 1203.4,2778.1 1218.4,2776.9 1235.1,2777.9 1253.4,2781.2 1273.5,2786.8 1290.1,2792.6 1308.5,2799.9 1386.9,2834 1428.6,2850.8 1473.6,2866.5 1518.7,2879.5 1562,2889.5 1608.7,2897.8 1657.1,2903.9 1707.2,2908.2M978.7,3010.3 992,2988.9 1005.4,2965.8 1050.4,2881.8 1065.4,2855 1082.1,2827.7 1097.1,2806.2 1107.1,2793.7 1117.2,2782.8 1125.5,2775 1135.5,2767 1145.5,2760.6 1155.5,2755.7 1165.5,2752.1 1175.5,2749.8 1190.6,2748.6 1207.2,2749.8 1223.9,2753.2 1243.9,2759.5 1258.9,2765.4 1277.3,2773.6 1357.4,2812.7 1400.7,2832.3 1424.1,2841.7 1445.8,2849.8 1469.1,2857.6 1492.5,2864.7 1515.8,2870.9 1539.2,2876.4 1587.6,2885.6 1637.6,2892.5 1692.7,2897.3M955.9,3000.4 969.2,2978 984.2,2950.4 1029.3,2860.2 1045.9,2828.1 1060.9,2801.8 1074.3,2781.3 1084.3,2767.8 1092.6,2757.9 1101,2749.2 1111,2740.5 1121,2733.5 1131,2728.2 1141,2724.4 1151,2722.1 1166,2721 1181.1,2722.4 1197.7,2726.3 1216.1,2732.8 1231.1,2739.4 1247.8,2747.5 1329.5,2791.8 1372.9,2813.4 1396.2,2823.8 1419.6,2833.3 1442.9,2841.9 1466.3,2849.6 1489.7,2856.5 1514.7,2862.9 1539.7,2868.4 1566.4,2873.5 1593.1,2877.7 1621.4,2881.4 1649.8,2884.3 1679.8,2886.7M933,2992.1 948,2965.8 963,2936.7 1009.7,2836.9 1024.8,2806.1 1039.8,2778 1053.1,2756 1063.1,2741.6 1071.5,2731.2 1079.8,2722.1 1089.8,2713 1098.2,2706.9 1108.2,2701.3 1118.2,2697.4 1128.2,2695.1 1141.5,2694.3 1156.5,2695.9 1173.2,2700.3 1191.6,2707.6 1206.6,2714.8 1223.3,2723.9 1301.7,2770.5 1345,2794.1 1368.4,2805.5 1391.7,2816 1415.1,2825.4 1440.1,2834.4 1465.1,2842.3 1491.8,2849.7 1518.5,2856 1545.2,2861.4 1573.6,2866.1 1603.6,2870.2 1633.6,2873.4 1665.3,2875.9M911.8,2982.4 926.8,2954.9 943.5,2920.9 990.2,2815.2 1005.2,2782.6 1018.6,2756 1031.9,2732.5 1041.9,2717.2 1050.3,2706.1 1058.6,2696.5 1067,2688.4 1075.3,2681.8 1085.3,2675.7 1095.3,2671.5 1105.3,2669.1 1118.7,2668.3 1133.7,2670.3 1148.7,2674.6 1167.1,2682.5 1180.4,2689.4 1197.1,2699.2 1277.1,2750.7 1320.5,2776.2 1345.5,2789.3 1368.9,2800.4 1392.3,2810.5 1417.3,2820.1 1444,2829.1 1470.7,2836.8 1497.3,2843.5 1525.7,2849.5 1555.7,2854.8 1585.8,2859 1617.4,2862.5 1650.8,2865.2M892.3,2970.9 909,2938.5 924,2906.3 939,2871.5 972.4,2791.1 987.4,2757 1000.7,2729.4 1012.4,2708.1 1022.4,2692.1 1030.8,2680.5 1039.1,2670.6 1047.5,2662.3 1055.8,2655.7 1065.8,2649.6 1074.1,2646.2 1084.2,2643.8 1097.5,2643.2 1110.8,2645.2 1125.9,2649.9 1142.5,2657.5 1155.9,2664.9 1172.6,2675.4 1252.6,2730.6 1274.3,2744.8 1296,2758 1319.4,2771.2 1344.4,2784 1369.4,2795.5 1394.4,2805.7 1421.1,2815.2 1447.8,2823.5 1476.2,2831 1506.2,2837.7 1536.2,2843.2 1567.9,2847.8 1601.3,2851.6 1636.3,2854.5M872.8,2960.4 889.5,2926.4 906.2,2888.9 952.9,2772.2 967.9,2736.4 981.2,2707.4 992.9,2685 1002.9,2668.3 1011.3,2656.3 1019.6,2646 1027.9,2637.5 1036.3,2630.7 1044.6,2625.5 1053,2621.8 1063,2619.3 1069.6,2618.7 1076.3,2618.8 1089.7,2621 1104.7,2626.2 1121.4,2634.5 1134.7,2642.5 1149.7,2652.6 1229.8,2711.5 1251.5,2726.5 1273.2,2740.6 1298.2,2755.5 1323.2,2769 1348.2,2781.1 1373.2,2791.8 1399.9,2801.8 1428.3,2811 1458.3,2819.3 1488.3,2826.2 1520,2832.1 1553.4,2837.1 1586.8,2840.9 1623.5,2843.9M853.3,2951 871.6,2911.6 888.3,2872.3 933.4,2754.8 948.4,2717.3 961.7,2686.9 973.4,2663.4 983.4,2645.9 991.8,2633.4 1000.1,2622.7 1008.4,2613.8 1016.8,2606.8 1025.1,2601.5 1033.5,2597.8 1043.5,2595.4 1055.1,2595 1068.5,2597.4 1083.5,2602.9 1098.5,2610.7 1111.9,2619.1 1126.9,2629.8 1206.9,2692.2 1230.3,2709.3 1252,2724.1 1277,2739.8 1302,2754 1327,2766.7 1352.1,2777.9 1380.4,2789 1408.8,2798.6 1438.8,2807.1 1468.8,2814.3 1502.2,2820.8 1535.6,2825.9 1572.3,2830.2 1609,2833.3M833.8,2942.9 852.1,2901.4 868.8,2860.7 883.8,2821.1 915.5,2734.4 928.9,2699.6 942.2,2667.8 953.9,2643.2 962.2,2627.7 970.6,2614.2 978.9,2602.6 987.3,2592.9 995.6,2585.2 1003.9,2579.3 1012.3,2575.3 1022.3,2572.5 1034,2571.9 1040.6,2572.7 1047.3,2574.2 1062.3,2579.9 1077.3,2588.1 1090.7,2597 1105.7,2608.2 1185.8,2674 1209.1,2692 1230.8,2707.5 1255.8,2724 1280.8,2738.9 1305.9,2752.1 1332.6,2764.6 1360.9,2776.2 1390.9,2786.6 1421,2795.4 1452.7,2803.2 1486,2809.7 1519.4,2815 1556.1,2819.4 1594.5,2822.6M815.9,2932.1 836,2884.1 852.6,2841.4 897.7,2714.9 911,2679 922.7,2650.1 934.4,2624.3 942.7,2608.1 951.1,2593.8 959.4,2581.6 967.7,2571.5 976.1,2563.4 984.4,2557.2 992.8,2552.9 1002.8,2550.1 1014.5,2549.5 1021.1,2550.4 1027.8,2552 1034.5,2554.3 1042.8,2558.1 1057.8,2566.9 1071.2,2576.3 1084.5,2586.7 1164.6,2655.7 1187.9,2674.5 1209.6,2690.9 1236.3,2709.2 1261.3,2724.6 1286.4,2738.4 1313,2751.3 1341.4,2763.3 1371.4,2774.1 1403.1,2783.7 1434.8,2791.6 1468.2,2798.4 1503.2,2804 1539.9,2808.5 1579.9,2811.9M798.1,2922.2 819.8,2867.2 833.1,2831.6 883.2,2687 903.2,2633.8 916.5,2603.2 928.2,2580.4 939.9,2561.8 951.6,2547.4 958.2,2541 964.9,2536 971.6,2532.2 979.9,2529.1 986.6,2527.8 994.9,2527.7 1003.3,2528.9 1011.6,2531.4 1020,2535 1028.3,2539.5 1038.3,2545.8 1048.3,2553.1 1071.7,2572.4 1106.7,2604.3M1110,2607.3 1111.7,2608.8M1115,2611.9 1116.7,2613.4M1120,2616.5 1121.7,2618M1125.1,2621 1126.7,2622.5M1138.4,2632.9 1140.1,2634.4M1143.4,2637.3 1146.7,2640.2M1153.4,2645.9 1155.1,2647.3M1163.4,2654.3 1171.8,2661M1175.1,2663.7 1196.8,2680.2 1216.8,2694.3 1236.8,2707.3 1258.5,2720 1280.2,2731.5 1301.9,2741.8 1323.6,2751.1 1346.9,2759.8 1370.3,2767.6 1395.3,2774.7 1420.3,2780.9 1447,2786.5 1475.4,2791.4 1503.7,2795.4 1533.7,2798.7 1565.4,2801.3M781.9,2908.8 817,2813.5 865.3,2669.2 885.3,2614.5 897,2586.7 908.7,2562.8 920.4,2543.1 932.1,2527.8 938.7,2521 945.4,2515.6 952.1,2511.5 958.7,2508.6 965.4,2506.9 973.8,2506.4 980.4,2507 988.8,2509 997.1,2512.2 1005.5,2516.5 1013.8,2521.6 1023.8,2528.8 1045.5,2546.7 1075.5,2574.7M1082.2,2581.1 1083.9,2582.7M1162.3,2653.1 1182.3,2668.6 1202.3,2682.9 1222.3,2696 1244,2708.9 1265.7,2720.5 1287.4,2730.9 1309.1,2740.2 1332.4,2749 1355.8,2756.8 1380.8,2764 1405.8,2770.2 1432.5,2775.8 1460.9,2780.7 1489.2,2784.7 1519.2,2788 1550.9,2790.6M764.1,2900.5 800.8,2795.8 845.8,2657.4 865.8,2600.5 877.5,2571.4 889.2,2546.3 900.9,2525.4 910.9,2511.2 917.6,2503.5 924.2,2497.3 930.9,2492.5 937.6,2489.1 944.2,2486.8 950.9,2485.8 957.6,2485.8 965.9,2487.2 972.6,2489.3 980.9,2493 989.3,2497.7 999.3,2504.5 1019.3,2520.9 1044.3,2544.4M1051,2551 1054.3,2554.3M1161.1,2651.9 1162.8,2653.2M1166.1,2655.8 1184.5,2669.2 1204.5,2682.6 1222.8,2693.9 1242.8,2705.1 1262.9,2715.3 1284.5,2725.1 1306.2,2733.9 1327.9,2741.7 1351.3,2749 1374.6,2755.4 1399.6,2761.3 1424.7,2766.3 1451.4,2770.8 1478,2774.4 1506.4,2777.5 1536.4,2780M747.9,2888.1 784.6,2778.5 828,2641.7 846.3,2587.8 858,2557.4 868,2534.5 879.7,2511.7 889.7,2496 894.7,2489.4 901.4,2481.9 908,2475.9 914.7,2471.4 921.4,2468.2 928.1,2466.3 934.7,2465.5 943.1,2466.1 949.8,2467.7 958.1,2470.9 966.4,2475.2 974.8,2480.6 993.1,2495 1016.5,2516.9M1023.2,2523.6 1024.8,2525.2M1158.3,2649.4 1176.6,2662.5 1196.6,2675.7 1215,2686.7 1235,2697.7 1255,2707.5 1275,2716.4 1296.7,2725 1318.4,2732.6 1340.1,2739.3 1363.5,2745.6 1388.5,2751.4 1413.5,2756.3 1438.5,2760.4 1465.2,2764 1493.6,2767 1521.9,2769.4M730.1,2881.5 771.8,2751 810.1,2626.8 826.8,2576.3 838.5,2544.5 848.5,2520.4 860.2,2496.4 870.2,2479.6 875.2,2472.5 881.9,2464.4 888.5,2457.9 895.2,2452.9 901.9,2449.2 908.6,2447 915.2,2445.9 921.9,2446 928.6,2447.2 936.9,2450 943.6,2453.2 951.9,2458.1 960.3,2464 970.3,2472.1 990.3,2490.8M1152.1,2644.2 1170.5,2657.1 1188.8,2668.8 1207.2,2679.5 1225.5,2689.3 1245.5,2699 1265.5,2707.7 1285.6,2715.4 1307.2,2722.9 1328.9,2729.5 1352.3,2735.7 1375.6,2741 1400.7,2745.9 1425.7,2750 1452.4,2753.5 1507.4,2758.7M713.9,2870.3 790.6,2618.1 807.3,2565.9 819,2532.8 829,2507.5 840.7,2482.1 850.7,2464.2 855.7,2456.6 862.4,2447.9 869,2440.7 875.7,2435.1 880.7,2431.9 887.4,2428.8 894,2427.1 900.7,2426.6 907.4,2427.3 914.1,2429 920.7,2431.6 929.1,2436.1 937.4,2441.6 945.8,2448 965.8,2466.2M969.1,2469.6 974.1,2474.7M1145.9,2639.1 1162.6,2650.4 1181,2661.9 1199.3,2672.3 1217.7,2681.8 1236,2690.4 1256,2698.9 1276.1,2706.5 1297.7,2713.8 1319.4,2720.2 1341.1,2725.8 1364.5,2731.1 1387.8,2735.5 1437.9,2742.9 1492.9,2748.1M697.7,2859.5 714.4,2801.2 769.4,2616.1 789.5,2551.5 801.1,2517.6 811.2,2491.6 822.8,2465.5 832.8,2447 837.8,2439.1 844.5,2430.1 849.5,2424.3 856.2,2418.1 861.2,2414.5 867.9,2410.9 874.5,2408.7 881.2,2407.9 887.9,2408.2 894.6,2409.7 901.2,2412.1 909.6,2416.4 917.9,2421.8 926.3,2428.2 944.6,2445M1141.4,2635 1158.1,2645.8 1176.5,2656.8 1193.2,2665.9 1211.5,2675 1229.9,2683.3 1249.9,2691.4 1269.9,2698.7 1289.9,2705.2 1311.6,2711.3 1333.3,2716.7 1378.3,2725.7 1426.7,2732.6 1478.4,2737.4M681.5,2849.1 704.9,2764.7 753.3,2598.2 770,2543.2 781.6,2507.9 793.3,2476.5 805,2449.6 815,2430.4 820,2422.3 826.7,2412.9 833.3,2405.2 840,2399.1 845,2395.5 851.7,2392.1 858.4,2390.2 865,2389.5 871.7,2390.1 878.4,2391.7 885.1,2394.4 893.4,2399 901.7,2404.7 910.1,2411.4 928.4,2428.8M1133.6,2628.5 1150.3,2639 1167,2648.8 1183.7,2657.7 1202,2666.6 1220.4,2674.7 1238.7,2682 1258.7,2689.1 1278.7,2695.5 1320.4,2706.4 1365.5,2715.4 1412.2,2722 1463.9,2726.8M665.4,2839.2 690.4,2745 735.4,2586.6 752.1,2530.4 763.8,2494.4 775.5,2462.1 785.5,2438 795.5,2417.6 807.2,2398.6 812.2,2392.1 818.8,2384.9 823.8,2380.5 830.5,2376.1 837.2,2373.2 843.9,2371.8 850.5,2371.6 857.2,2372.6 863.9,2374.8 870.5,2377.9 877.2,2381.9 885.6,2387.9 902.2,2402.7M1127.4,2623 1144.1,2633.2 1160.8,2642.5 1194.2,2658.9 1212.5,2666.7 1230.9,2673.7 1269.2,2686.3 1309.3,2696.5 1352.6,2705 1399.3,2711.6 1449.4,2716.2M649.2,2829.6 664.2,2769.6 675.9,2725.4 717.6,2575.7 734.3,2518.4 745.9,2481.5 757.6,2448.4 769.3,2419.8 779.3,2399.3 791,2380.4 796,2373.9 802.7,2366.7 807.7,2362.4 814.3,2358.2 821,2355.4 827.7,2354.1 834.4,2354 841,2355.3 847.7,2357.6 854.4,2360.9 861,2365 869.4,2371.3 887.7,2388.3M1121.3,2617.3 1153,2635.2 1186.3,2651.1 1221.4,2664.8 1259.7,2677 1299.8,2687 1341.5,2694.9 1386.5,2701.1 1434.9,2705.5M634.7,2813.7 649.7,2751.3 661.4,2705.8 696.4,2577.5 714.8,2512.8 728.1,2469.4 739.8,2435.4 751.5,2405.9 761.5,2384.7 773.1,2365 778.1,2358.2 784.8,2350.7 789.8,2346.1 796.5,2341.5 803.2,2338.5 809.8,2336.9 816.5,2336.7 823.2,2337.7 829.9,2340 836.5,2343.2 843.2,2347.3 851.5,2353.6 868.2,2369M1115.1,2611.5 1146.8,2628.7 1180.2,2643.9 1213.5,2656.5 1250.2,2667.7 1288.6,2677.1 1330.3,2684.8 1373.7,2690.7 1420.4,2694.9M618.5,2804.7 635.2,2732.9 646.9,2686.3 678.6,2568.1 696.9,2502.2 710.3,2457.9 721.9,2423 733.6,2392.7 743.6,2370.8 755.3,2350.2 760.3,2343 767,2335.1 772,2330.3 778.7,2325.3 783.7,2322.6 790.3,2320.4 797,2319.7 803.7,2320.2 810.3,2322 817,2324.9 823.7,2328.7 832,2334.7 848.7,2349.9M1107.3,2604.6 1139,2621.2 1170.7,2635.2 1204,2647.5 1240.7,2658.4 1279.1,2667.5 1319.1,2674.7 1362.5,2680.4 1407.5,2684.4M602.3,2796.2 619,2721.7 630.7,2673.4 655.7,2577.9 677.4,2498.2 690.7,2452.5 702.4,2416.2 714.1,2384.2 725.8,2357.4 737.5,2335.9 742.5,2328.4 749.1,2320 754.1,2314.9 760.8,2309.5 765.8,2306.6 772.5,2304.1 779.2,2303 785.8,2303.4 792.5,2304.9 799.2,2307.7 805.9,2311.4 814.2,2317.3 829.2,2330.8M1099.4,2597.6 1129.5,2612.9 1161.2,2626.5 1194.5,2638.5 1229.6,2648.6 1266.3,2657.2 1306.3,2664.3 1348,2669.8 1393,2673.8M586.2,2787.9 604.5,2703.6 614.5,2660.9 632.9,2589 657.9,2495 671.2,2448 684.6,2405.2 696.3,2372.3 707.9,2344.5 719.6,2322.2 724.6,2314.3 731.3,2305.5 736.3,2300 743,2294.2 748,2291 754.6,2288.1 759.7,2287 766.3,2286.7 773,2287.7 779.7,2290 786.3,2293.3 794.7,2298.9 809.7,2311.9M1093.3,2591.4 1123.3,2606 1153.3,2618.4 1185,2629.4 1220.1,2639.3 1256.8,2647.5 1295.1,2654.2 1335.2,2659.3 1378.5,2663.2M571.7,2772.6 588.3,2693 600,2641.8 616.7,2575.4 640.1,2486.4 655.1,2432.8 668.4,2389.7 680.1,2356.6 691.8,2328.6 703.4,2306.1 708.4,2298.2 715.1,2289.3 720.1,2283.8 726.8,2278 731.8,2274.8 738.5,2271.9 743.5,2270.8 750.1,2270.6 756.8,2271.7 763.5,2274 770.2,2277.4 778.5,2283.1 793.5,2296.4M1085.4,2584.1 1115.5,2598.3 1145.5,2610.2 1177.2,2620.8 1210.6,2629.9 1245.6,2637.5 1282.3,2643.8 1322.3,2648.9 1364,2652.5M555.5,2764.9 573.8,2675 583.8,2629.9 598.9,2568.6 622.2,2478.4 637.2,2423.9 650.6,2379.8 663.9,2341.3 675.6,2313.1 687.3,2290.5 692.3,2282.5 698.9,2273.5 703.9,2268 710.6,2262.2 715.6,2258.9 722.3,2256.1 727.3,2254.9 734,2254.7 740.6,2255.9 747.3,2258.3 754,2261.8 760.7,2266.3 767.3,2271.6 775.7,2279.3M1077.6,2576.8 1106,2589.7 1136,2601.4 1167.7,2611.6 1199.4,2620 1234.4,2627.5 1271.1,2633.7 1309.5,2638.4 1349.5,2641.9M539.3,2757.4 559.3,2657 567.7,2618.3 581,2562.4 601,2483.7 617.7,2421.4 632.7,2370.4 646.1,2330.9 657.7,2301.7 669.4,2278 674.4,2269.7 681.1,2260.1 686.1,2254.2 692.8,2247.9 697.8,2244.3 704.5,2241 709.5,2239.6 716.1,2239 722.8,2239.9 729.5,2242 736.1,2245.3 744.5,2250.8 751.2,2256.2 759.5,2264.1M1069.8,2569.3 1098.1,2581.8 1126.5,2592.5 1158.2,2602.4 1189.9,2610.6 1223.2,2617.5 1258.3,2623.3 1295,2627.8 1335,2631.3M524.8,2742.5 543.2,2647.3 551.5,2607.2 564.8,2550 583.2,2476.8 599.9,2413.7 614.9,2361.6 628.2,2321 641.6,2286.9 653.2,2263.1 663.3,2247.2 668.3,2240.9 674.9,2234.1 679.9,2230.1 686.6,2226.3 691.6,2224.6 698.3,2223.7 705,2224.1 711.6,2226 718.3,2229 725,2233.1 731.7,2238.2 740,2245.6M1061.9,2561.8 1088.6,2573.2 1117,2583.5 1147,2592.7 1178.7,2600.7 1212.1,2607.5 1245.4,2612.9 1282.1,2617.3 1320.5,2620.7M508.6,2735.5 535.3,2596.5 545.3,2551.9 560.3,2490.3 580.4,2412.6 595.4,2358.9 610.4,2311.6 623.7,2276.4 635.4,2251.5 640.4,2242.6 647.1,2232.4 652.1,2226 658.8,2219.1 663.8,2215.1 670.4,2211.2 675.4,2209.5 682.1,2208.5 688.8,2209 695.5,2210.8 702.1,2213.8 708.8,2217.9 715.5,2223 723.8,2230.6M1054.1,2554.1 1080.8,2565.1 1109.2,2575.1 1137.5,2583.4 1167.5,2590.8 1199.2,2597.2 1232.6,2602.5 1267.6,2606.7 1306,2610M494.1,2720.7 519.1,2586.2 529.2,2540.3 544.2,2477.9 564.2,2399.6 579.2,2345.5 594.2,2297.8 607.6,2262.3 619.2,2237.2 629.2,2220.3 634.2,2213.4 640.9,2205.9 645.9,2201.5 652.6,2197.2 657.6,2195.1 664.3,2193.6 670.9,2193.7 677.6,2195.2 684.3,2197.9 691,2201.8 697.6,2206.7 706,2214M1046.3,2546.4 1073,2556.9 1099.7,2566 1128,2574.1 1158,2581.3 1189.7,2587.4 1221.4,2592.3 1254.8,2596.3 1291.5,2599.4"/>
<path fill="none" stroke="#ffffff" stroke-opacity="0.8" stroke-width="1.6" d="M304.0,2152.8 768.2,2492.6M768.2,2492.6 1765.7,2333.8M768.2,3182.3 768.2,2492.6M304.0,2842.5 768.2,3182.3M768.2,3182.3 1765.7,3023.5M1765.7,3023.5 1765.7,2333.8"/>
<path fill="none" stroke="#d0d0d0" stroke-width="1.6" d="M290.0,2842.5 304.0,2842.5M1765.7,3023.5 1781.7,3023.5M290.0,2727.6 304.0,2727.6M1765.7,2908.6 1781.7,2908.6M290.0,2612.6 304.0,2612.6M1765.7,2793.6 1781.7,2793.6M290.0,2497.7 304.0,2497.7M1765.7,2678.7 1781.7,2678.7M290.0,2382.7 304.0,2382.7M1765.7,2563.7 1781.7,2563.7M290.0,2267.8 304.0,2267.8M1765.7,2448.8 1781.7,2448.8M290.0,2152.8 304.0,2152.8M1765.7,2333.8 1781.7,2333.8M756.2,3183.3 768.2,3182.3M698.2,3140.8 710.2,3139.8M640.2,3098.3 652.2,3097.3M582.1,3055.9 594.1,3054.9M524.1,3013.4 536.1,3012.4M466.1,2970.9 478.1,2969.9M408.1,2928.4 420.1,2927.4M350.0,2886.0 362.0,2885.0M768.2,3182.3 775.2,3188.3M934.5,3155.8 941.5,3161.8M1100.7,3129.4 1107.7,3135.4M1267.0,3102.9 1274.0,3108.9M1433.2,3076.4 1440.2,3082.4M1599.5,3050.0 1606.5,3056.0"/>
</g>
<g id="labels">
<text transform="translate(559.7,113.0) scale(0.9583,1)" font-size="72" fill="#00ffff" stroke="#000" stroke-width="0.4" text-anchor="start" xml:space="preserve">Ms<tspan dx="-3.6"> </tspan>= 425 kA/m;<tspan dx="-2.6">&#160;</tspan> K = 200 kJ/m<tspan font-size="58" dy="-17.5" dx="1.5">3</tspan></text>
<text transform="translate(678.3,191.0) scale(0.9583,1)" font-size="72" fill="#00ff00" stroke="#000" stroke-width="0.4" text-anchor="start" xml:space="preserve">H = 10 kA/m;</text>
<text transform="translate(1116.5,196.5) scale(1.2,1)" font-size="61" fill="#2fd326" stroke="#000" stroke-width="0.4" text-anchor="start" style="font-family:'Liberation Serif',serif">&#949;</text>
<text transform="translate(1392.6,191.0) scale(0.9583,1)" font-size="72" fill="#00ff00" stroke="#000" stroke-width="0.4" text-anchor="end">= 0.024</text>
<text transform="translate(270.1,1177.7) scale(0.9583,1)" font-size="72" fill="#ffff00" stroke="#000" stroke-width="0.4" text-anchor="end">0</text>
<text transform="translate(1797.0,1359.2) scale(0.9583,1)" font-size="72" fill="#ffff00" stroke="#000" stroke-width="0.4" text-anchor="start">0</text>
<text transform="translate(270.1,1101.1) scale(0.9583,1)" font-size="72" fill="#ffff00" stroke="#000" stroke-width="0.4" text-anchor="end">0.5</text>
<text transform="translate(1797.0,1282.6) scale(0.9583,1)" font-size="72" fill="#ffff00" stroke="#000" stroke-width="0.4" text-anchor="start">0.5</text>
<text transform="translate(270.1,1024.4) scale(0.9583,1)" font-size="72" fill="#ffff00" stroke="#000" stroke-width="0.4" text-anchor="end">1</text>
<text transform="translate(1797.0,1205.9) scale(0.9583,1)" font-size="72" fill="#ffff00" stroke="#000" stroke-width="0.4" text-anchor="start">1</text>
<text transform="translate(270.1,947.8) scale(0.9583,1)" font-size="72" fill="#ffff00" stroke="#000" stroke-width="0.4" text-anchor="end">1.5</text>
<text transform="translate(1797.0,1129.3) scale(0.9583,1)" font-size="72" fill="#ffff00" stroke="#000" stroke-width="0.4" text-anchor="start">1.5</text>
<text transform="translate(270.1,871.2) scale(0.9583,1)" font-size="72" fill="#ffff00" stroke="#000" stroke-width="0.4" text-anchor="end">2</text>
<text transform="translate(1797.0,1052.7) scale(0.9583,1)" font-size="72" fill="#ffff00" stroke="#000" stroke-width="0.4" text-anchor="start">2</text>
<text transform="translate(270.1,794.5) scale(0.9583,1)" font-size="72" fill="#ffff00" stroke="#000" stroke-width="0.4" text-anchor="end">2.5</text>
<text transform="translate(1797.0,976.0) scale(0.9583,1)" font-size="72" fill="#ffff00" stroke="#000" stroke-width="0.4" text-anchor="start">2.5</text>
<text transform="translate(270.1,717.9) scale(0.9583,1)" font-size="72" fill="#ffff00" stroke="#000" stroke-width="0.4" text-anchor="end">3</text>
<text transform="translate(1797.0,899.4) scale(0.9583,1)" font-size="72" fill="#ffff00" stroke="#000" stroke-width="0.4" text-anchor="start">3</text>
<text transform="translate(270.1,641.3) scale(0.9583,1)" font-size="72" fill="#ffff00" stroke="#000" stroke-width="0.4" text-anchor="end">3.5</text>
<text transform="translate(1797.0,822.8) scale(0.9583,1)" font-size="72" fill="#ffff00" stroke="#000" stroke-width="0.4" text-anchor="start">3.5</text>
<text transform="translate(270.1,564.6) scale(0.9583,1)" font-size="72" fill="#ffff00" stroke="#000" stroke-width="0.4" text-anchor="end">4</text>
<text transform="translate(1797.0,746.1) scale(0.9583,1)" font-size="72" fill="#ffff00" stroke="#000" stroke-width="0.4" text-anchor="start">4</text>
<text transform="translate(270.1,488.0) scale(0.9583,1)" font-size="72" fill="#ffff00" stroke="#000" stroke-width="0.4" text-anchor="end">4.5</text>
<text transform="translate(1797.0,669.5) scale(0.9583,1)" font-size="72" fill="#ffff00" stroke="#000" stroke-width="0.4" text-anchor="start">4.5</text>
<text transform="translate(746.5,1528.3) rotate(-9.05) scale(0.9583,1)" font-size="72" fill="#ffff00" stroke="#000" stroke-width="0.4" text-anchor="end">100</text>
<text transform="translate(688.5,1485.8) rotate(-9.05) scale(0.9583,1)" font-size="72" fill="#ffff00" stroke="#000" stroke-width="0.4" text-anchor="end">150</text>
<text transform="translate(630.5,1443.3) rotate(-9.05) scale(0.9583,1)" font-size="72" fill="#ffff00" stroke="#000" stroke-width="0.4" text-anchor="end">200</text>
<text transform="translate(572.4,1400.9) rotate(-9.05) scale(0.9583,1)" font-size="72" fill="#ffff00" stroke="#000" stroke-width="0.4" text-anchor="end">250</text>
<text transform="translate(514.4,1358.4) rotate(-9.05) scale(0.9583,1)" font-size="72" fill="#ffff00" stroke="#000" stroke-width="0.4" text-anchor="end">300</text>
<text transform="translate(456.4,1315.9) rotate(-9.05) scale(0.9583,1)" font-size="72" fill="#ffff00" stroke="#000" stroke-width="0.4" text-anchor="end">350</text>
<text transform="translate(398.4,1273.4) rotate(-9.05) scale(0.9583,1)" font-size="72" fill="#ffff00" stroke="#000" stroke-width="0.4" text-anchor="end">400</text>
<text transform="translate(340.3,1231.0) rotate(-9.05) scale(0.9583,1)" font-size="72" fill="#ffff00" stroke="#000" stroke-width="0.4" text-anchor="end">450</text>
<text transform="translate(774.2,1538.8) rotate(36.20) scale(0.9583,1)" font-size="72" fill="#ffff00" stroke="#000" stroke-width="0.4" text-anchor="start">0</text>
<text transform="translate(940.5,1512.3) rotate(36.20) scale(0.9583,1)" font-size="72" fill="#ffff00" stroke="#000" stroke-width="0.4" text-anchor="start">5</text>
<text transform="translate(1106.7,1485.9) rotate(36.20) scale(0.9583,1)" font-size="72" fill="#ffff00" stroke="#000" stroke-width="0.4" text-anchor="start">10</text>
<text transform="translate(1273.0,1459.4) rotate(36.20) scale(0.9583,1)" font-size="72" fill="#ffff00" stroke="#000" stroke-width="0.4" text-anchor="start">15</text>
<text transform="translate(1439.2,1432.9) rotate(36.20) scale(0.9583,1)" font-size="72" fill="#ffff00" stroke="#000" stroke-width="0.4" text-anchor="start">20</text>
<text transform="translate(1605.5,1406.5) rotate(36.20) scale(0.9583,1)" font-size="72" fill="#ffff00" stroke="#000" stroke-width="0.4" text-anchor="start">25</text>
<text transform="translate(122.0,982.0) rotate(-90.00) scale(0.9583,1)" font-size="72" fill="#00ffff" stroke="#000" stroke-width="0.4" text-anchor="start">Ps (W/g)</text>
<text transform="translate(1994.0,1165.0) rotate(-90.00) scale(0.9583,1)" font-size="72" fill="#00ffff" stroke="#000" stroke-width="0.4" text-anchor="start">Ps (W/g)</text>
<text transform="translate(204.7,1351.8) rotate(36.80) scale(0.9583,1)" font-size="72" fill="#00ffff" stroke="#000" stroke-width="0.4" text-anchor="start">f (kHz)</text>
<text transform="translate(1317.0,1601.0) rotate(-9.05) scale(0.9583,1)" font-size="72" fill="#00ffff" stroke="#000" stroke-width="0.4" text-anchor="start">D (nm)</text>
<text transform="translate(559.7,1802.0) scale(0.9583,1)" font-size="72" fill="#00ffff" stroke="#000" stroke-width="0.4" text-anchor="start" xml:space="preserve">Ms<tspan dx="-3.6"> </tspan>= 425 kA/m;<tspan dx="-2.6">&#160;</tspan> K = 200 kJ/m<tspan font-size="58" dy="-17.5" dx="1.5">3</tspan></text>
<text transform="translate(678.3,1880.0) scale(0.9583,1)" font-size="72" fill="#00ff00" stroke="#000" stroke-width="0.4" text-anchor="start" xml:space="preserve">H = 30 kA/m;</text>
<text transform="translate(1116.5,1885.5) scale(1.2,1)" font-size="61" fill="#2fd326" stroke="#000" stroke-width="0.4" text-anchor="start" style="font-family:'Liberation Serif',serif">&#949;</text>
<text transform="translate(1392.6,1880.0) scale(0.9583,1)" font-size="72" fill="#00ff00" stroke="#000" stroke-width="0.4" text-anchor="end">= 0.024</text>
<text transform="translate(270.1,2866.7) scale(0.9583,1)" font-size="72" fill="#ffff00" stroke="#000" stroke-width="0.4" text-anchor="end">0</text>
<text transform="translate(1797.0,3048.2) scale(0.9583,1)" font-size="72" fill="#ffff00" stroke="#000" stroke-width="0.4" text-anchor="start">0</text>
<text transform="translate(270.1,2751.8) scale(0.9583,1)" font-size="72" fill="#ffff00" stroke="#000" stroke-width="0.4" text-anchor="end">5</text>
<text transform="translate(1797.0,2933.2) scale(0.9583,1)" font-size="72" fill="#ffff00" stroke="#000" stroke-width="0.4" text-anchor="start">5</text>
<text transform="translate(270.1,2636.8) scale(0.9583,1)" font-size="72" fill="#ffff00" stroke="#000" stroke-width="0.4" text-anchor="end">10</text>
<text transform="translate(1797.0,2818.3) scale(0.9583,1)" font-size="72" fill="#ffff00" stroke="#000" stroke-width="0.4" text-anchor="start">10</text>
<text transform="translate(270.1,2521.8) scale(0.9583,1)" font-size="72" fill="#ffff00" stroke="#000" stroke-width="0.4" text-anchor="end">15</text>
<text transform="translate(1797.0,2703.3) scale(0.9583,1)" font-size="72" fill="#ffff00" stroke="#000" stroke-width="0.4" text-anchor="start">15</text>
<text transform="translate(270.1,2406.9) scale(0.9583,1)" font-size="72" fill="#ffff00" stroke="#000" stroke-width="0.4" text-anchor="end">20</text>
<text transform="translate(1797.0,2588.4) scale(0.9583,1)" font-size="72" fill="#ffff00" stroke="#000" stroke-width="0.4" text-anchor="start">20</text>
<text transform="translate(270.1,2291.9) scale(0.9583,1)" font-size="72" fill="#ffff00" stroke="#000" stroke-width="0.4" text-anchor="end">25</text>
<text transform="translate(1797.0,2473.4) scale(0.9583,1)" font-size="72" fill="#ffff00" stroke="#000" stroke-width="0.4" text-anchor="start">25</text>
<text transform="translate(270.1,2177.0) scale(0.9583,1)" font-size="72" fill="#ffff00" stroke="#000" stroke-width="0.4" text-anchor="end">30</text>
<text transform="translate(1797.0,2358.5) scale(0.9583,1)" font-size="72" fill="#ffff00" stroke="#000" stroke-width="0.4" text-anchor="start">30</text>
<text transform="translate(746.5,3217.3) rotate(-9.05) scale(0.9583,1)" font-size="72" fill="#ffff00" stroke="#000" stroke-width="0.4" text-anchor="end">100</text>
<text transform="translate(688.5,3174.8) rotate(-9.05) scale(0.9583,1)" font-size="72" fill="#ffff00" stroke="#000" stroke-width="0.4" text-anchor="end">150</text>
<text transform="translate(630.5,3132.3) rotate(-9.05) scale(0.9583,1)" font-size="72" fill="#ffff00" stroke="#000" stroke-width="0.4" text-anchor="end">200</text>
<text transform="translate(572.4,3089.9) rotate(-9.05) scale(0.9583,1)" font-size="72" fill="#ffff00" stroke="#000" stroke-width="0.4" text-anchor="end">250</text>
<text transform="translate(514.4,3047.4) rotate(-9.05) scale(0.9583,1)" font-size="72" fill="#ffff00" stroke="#000" stroke-width="0.4" text-anchor="end">300</text>
<text transform="translate(456.4,3004.9) rotate(-9.05) scale(0.9583,1)" font-size="72" fill="#ffff00" stroke="#000" stroke-width="0.4" text-anchor="end">350</text>
<text transform="translate(398.4,2962.4) rotate(-9.05) scale(0.9583,1)" font-size="72" fill="#ffff00" stroke="#000" stroke-width="0.4" text-anchor="end">400</text>
<text transform="translate(340.3,2920.0) rotate(-9.05) scale(0.9583,1)" font-size="72" fill="#ffff00" stroke="#000" stroke-width="0.4" text-anchor="end">450</text>
<text transform="translate(774.2,3227.8) rotate(36.20) scale(0.9583,1)" font-size="72" fill="#ffff00" stroke="#000" stroke-width="0.4" text-anchor="start">0</text>
<text transform="translate(940.5,3201.3) rotate(36.20) scale(0.9583,1)" font-size="72" fill="#ffff00" stroke="#000" stroke-width="0.4" text-anchor="start">5</text>
<text transform="translate(1106.7,3174.9) rotate(36.20) scale(0.9583,1)" font-size="72" fill="#ffff00" stroke="#000" stroke-width="0.4" text-anchor="start">10</text>
<text transform="translate(1273.0,3148.4) rotate(36.20) scale(0.9583,1)" font-size="72" fill="#ffff00" stroke="#000" stroke-width="0.4" text-anchor="start">15</text>
<text transform="translate(1439.2,3121.9) rotate(36.20) scale(0.9583,1)" font-size="72" fill="#ffff00" stroke="#000" stroke-width="0.4" text-anchor="start">20</text>
<text transform="translate(1605.5,3095.5) rotate(36.20) scale(0.9583,1)" font-size="72" fill="#ffff00" stroke="#000" stroke-width="0.4" text-anchor="start">25</text>
<text transform="translate(159.7,2671.0) rotate(-90.00) scale(0.9583,1)" font-size="72" fill="#00ffff" stroke="#000" stroke-width="0.4" text-anchor="start">Ps (W/g)</text>
<text transform="translate(1955.4,2854.0) rotate(-90.00) scale(0.9583,1)" font-size="72" fill="#00ffff" stroke="#000" stroke-width="0.4" text-anchor="start">Ps (W/g)</text>
<text transform="translate(204.7,3040.8) rotate(36.80) scale(0.9583,1)" font-size="72" fill="#00ffff" stroke="#000" stroke-width="0.4" text-anchor="start">f (kHz)</text>
<text transform="translate(1317.0,3290.0) rotate(-9.05) scale(0.9583,1)" font-size="72" fill="#00ffff" stroke="#000" stroke-width="0.4" text-anchor="start">D (nm)</text>
<text transform="translate(1036.0,1706.7) scale(0.94,1)" font-size="70" fill="#000" text-anchor="middle" style="font-family:'Liberation Serif',serif">(<tspan font-weight="bold">a</tspan>)</text>
<text transform="translate(1036.0,3397.7) scale(0.94,1)" font-size="70" fill="#000" text-anchor="middle" style="font-family:'Liberation Serif',serif">(<tspan font-weight="bold">b</tspan>)</text>
</g>
</svg></body></html>
